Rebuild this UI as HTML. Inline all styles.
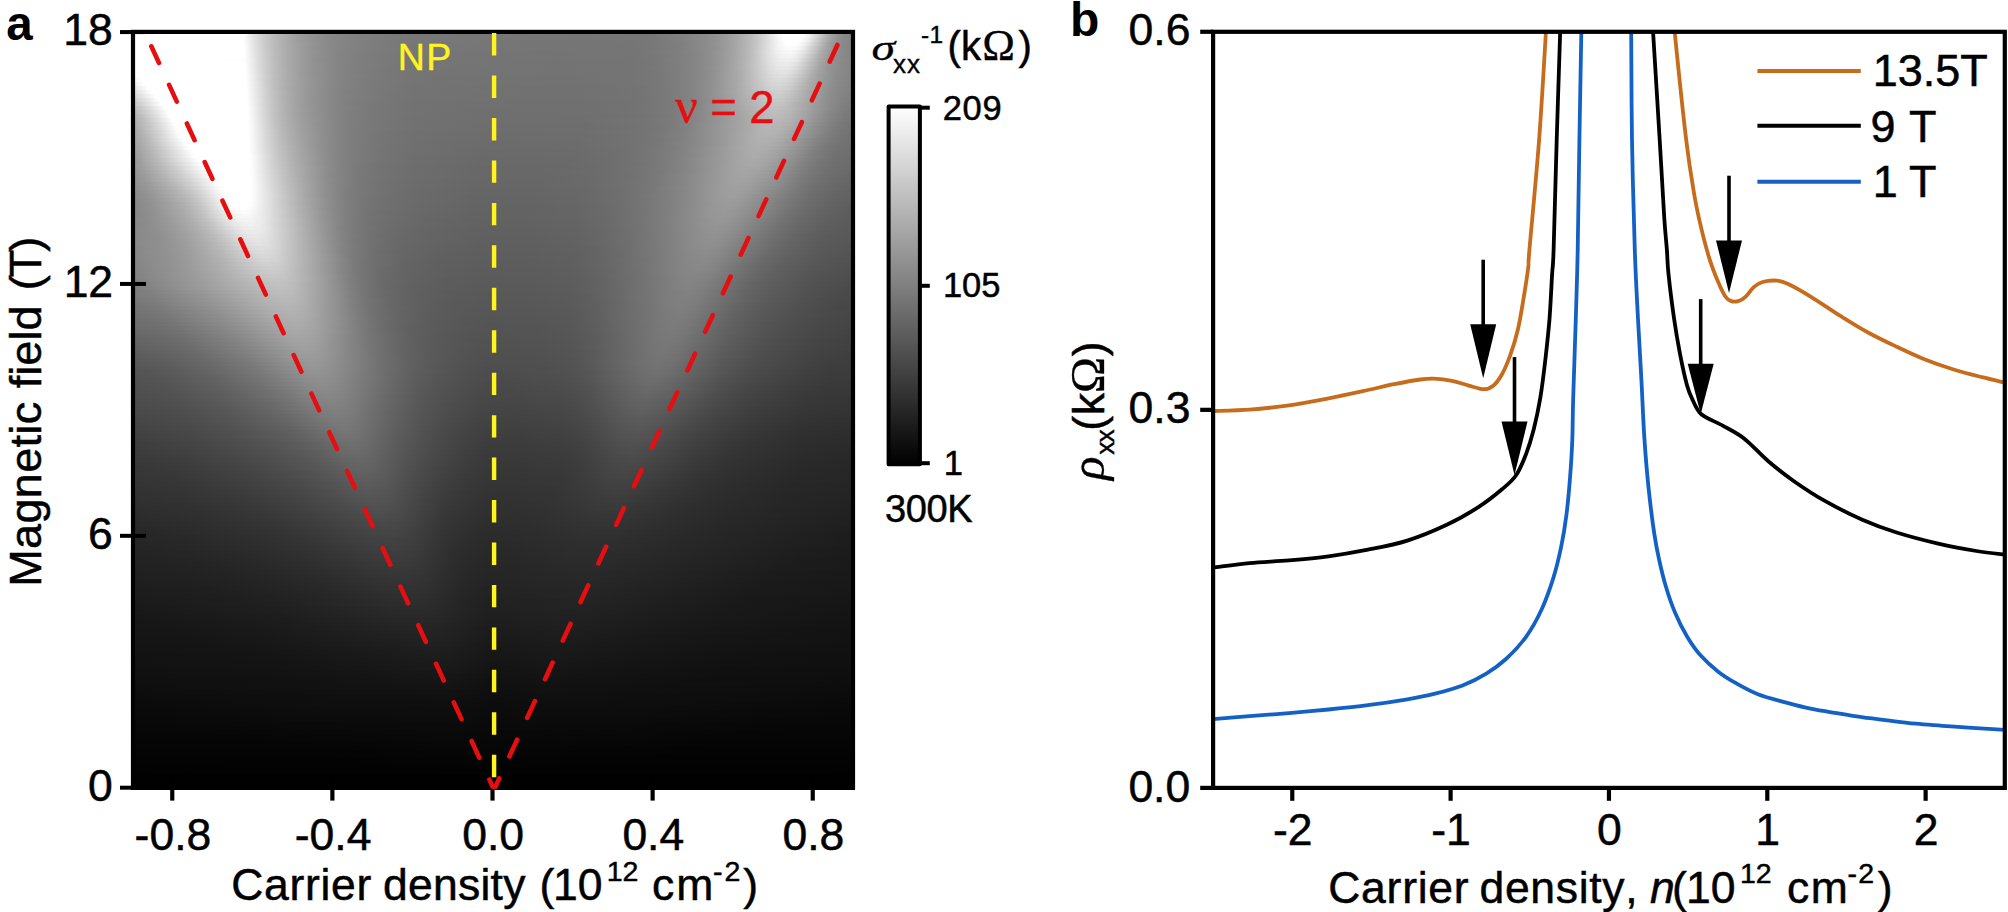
<!DOCTYPE html>
<html lang="en"><head><meta charset="utf-8"><title>Figure</title><style>html,body{margin:0;padding:0;background:#fff}svg{display:block}text{font-kerning:none}</style></head><body><svg width="2008" height="912" viewBox="0 0 2008 912"><rect width="2008" height="912" fill="#fff"/><defs><linearGradient id="h0"><stop offset="0" stop-color="#ffffff"/><stop offset="0.155" stop-color="#ffffff"/><stop offset="0.157" stop-color="#fbfbfb"/><stop offset="0.171" stop-color="#dfdfdf"/><stop offset="0.182" stop-color="#cdcdcd"/><stop offset="0.196" stop-color="#bcbcbc"/><stop offset="0.21" stop-color="#afafaf"/><stop offset="0.229" stop-color="#9f9f9f"/><stop offset="0.249" stop-color="#939393"/><stop offset="0.271" stop-color="#8a8a8a"/><stop offset="0.296" stop-color="#838383"/><stop offset="0.337" stop-color="#7c7c7c"/><stop offset="0.39" stop-color="#787878"/><stop offset="0.613" stop-color="#767676"/><stop offset="0.693" stop-color="#767676"/><stop offset="0.715" stop-color="#777777"/><stop offset="0.762" stop-color="#818181"/><stop offset="0.796" stop-color="#8b8b8b"/><stop offset="0.809" stop-color="#929292"/><stop offset="0.823" stop-color="#9b9b9b"/><stop offset="0.837" stop-color="#a6a6a6"/><stop offset="0.851" stop-color="#b4b4b4"/><stop offset="0.859" stop-color="#bebebe"/><stop offset="0.867" stop-color="#c9c9c9"/><stop offset="0.876" stop-color="#d7d7d7"/><stop offset="0.89" stop-color="#f0f0f0"/><stop offset="0.898" stop-color="#fdfdfd"/><stop offset="0.901" stop-color="#ffffff"/><stop offset="0.931" stop-color="#ffffff"/><stop offset="0.934" stop-color="#fbfbfb"/><stop offset="0.939" stop-color="#efefef"/><stop offset="0.945" stop-color="#e0e0e0"/><stop offset="0.959" stop-color="#b8b8b8"/><stop offset="0.964" stop-color="#aaaaaa"/><stop offset="0.97" stop-color="#9f9f9f"/><stop offset="0.975" stop-color="#969696"/><stop offset="0.983" stop-color="#8b8b8b"/><stop offset="0.992" stop-color="#858585"/><stop offset="1" stop-color="#828282"/></linearGradient><linearGradient id="h1"><stop offset="0" stop-color="#ffffff"/><stop offset="0.155" stop-color="#ffffff"/><stop offset="0.157" stop-color="#fbfbfb"/><stop offset="0.171" stop-color="#dfdfdf"/><stop offset="0.182" stop-color="#cecece"/><stop offset="0.196" stop-color="#bcbcbc"/><stop offset="0.21" stop-color="#afafaf"/><stop offset="0.229" stop-color="#9f9f9f"/><stop offset="0.249" stop-color="#939393"/><stop offset="0.271" stop-color="#8a8a8a"/><stop offset="0.296" stop-color="#838383"/><stop offset="0.337" stop-color="#7c7c7c"/><stop offset="0.39" stop-color="#787878"/><stop offset="0.613" stop-color="#767676"/><stop offset="0.693" stop-color="#767676"/><stop offset="0.715" stop-color="#777777"/><stop offset="0.762" stop-color="#818181"/><stop offset="0.796" stop-color="#8c8c8c"/><stop offset="0.809" stop-color="#929292"/><stop offset="0.823" stop-color="#9b9b9b"/><stop offset="0.837" stop-color="#a7a7a7"/><stop offset="0.851" stop-color="#b4b4b4"/><stop offset="0.859" stop-color="#bebebe"/><stop offset="0.867" stop-color="#cacaca"/><stop offset="0.89" stop-color="#f0f0f0"/><stop offset="0.895" stop-color="#f8f8f8"/><stop offset="0.901" stop-color="#ffffff"/><stop offset="0.928" stop-color="#ffffff"/><stop offset="0.934" stop-color="#f6f6f6"/><stop offset="0.939" stop-color="#eaeaea"/><stop offset="0.959" stop-color="#b5b5b5"/><stop offset="0.964" stop-color="#a8a8a8"/><stop offset="0.97" stop-color="#9d9d9d"/><stop offset="0.975" stop-color="#949494"/><stop offset="0.983" stop-color="#8b8b8b"/><stop offset="0.992" stop-color="#858585"/><stop offset="1" stop-color="#828282"/></linearGradient><linearGradient id="h2"><stop offset="0" stop-color="#ffffff"/><stop offset="0.155" stop-color="#ffffff"/><stop offset="0.157" stop-color="#fbfbfb"/><stop offset="0.171" stop-color="#e0e0e0"/><stop offset="0.182" stop-color="#cecece"/><stop offset="0.196" stop-color="#bdbdbd"/><stop offset="0.21" stop-color="#afafaf"/><stop offset="0.229" stop-color="#9f9f9f"/><stop offset="0.249" stop-color="#939393"/><stop offset="0.271" stop-color="#8a8a8a"/><stop offset="0.296" stop-color="#838383"/><stop offset="0.337" stop-color="#7c7c7c"/><stop offset="0.39" stop-color="#787878"/><stop offset="0.61" stop-color="#757575"/><stop offset="0.693" stop-color="#767676"/><stop offset="0.715" stop-color="#777777"/><stop offset="0.762" stop-color="#818181"/><stop offset="0.796" stop-color="#8c8c8c"/><stop offset="0.809" stop-color="#929292"/><stop offset="0.823" stop-color="#9c9c9c"/><stop offset="0.837" stop-color="#a7a7a7"/><stop offset="0.851" stop-color="#b5b5b5"/><stop offset="0.865" stop-color="#c6c6c6"/><stop offset="0.89" stop-color="#efefef"/><stop offset="0.901" stop-color="#fdfdfd"/><stop offset="0.903" stop-color="#ffffff"/><stop offset="0.923" stop-color="#ffffff"/><stop offset="0.925" stop-color="#fefefe"/><stop offset="0.928" stop-color="#fafafa"/><stop offset="0.934" stop-color="#f0f0f0"/><stop offset="0.939" stop-color="#e4e4e4"/><stop offset="0.953" stop-color="#bebebe"/><stop offset="0.959" stop-color="#b0b0b0"/><stop offset="0.964" stop-color="#a4a4a4"/><stop offset="0.97" stop-color="#9b9b9b"/><stop offset="0.975" stop-color="#939393"/><stop offset="0.983" stop-color="#8a8a8a"/><stop offset="0.992" stop-color="#858585"/><stop offset="1" stop-color="#828282"/></linearGradient><linearGradient id="h3"><stop offset="0" stop-color="#ffffff"/><stop offset="0.155" stop-color="#ffffff"/><stop offset="0.157" stop-color="#fcfcfc"/><stop offset="0.171" stop-color="#e1e1e1"/><stop offset="0.182" stop-color="#cfcfcf"/><stop offset="0.196" stop-color="#bdbdbd"/><stop offset="0.21" stop-color="#afafaf"/><stop offset="0.229" stop-color="#a0a0a0"/><stop offset="0.249" stop-color="#949494"/><stop offset="0.271" stop-color="#8a8a8a"/><stop offset="0.296" stop-color="#838383"/><stop offset="0.337" stop-color="#7c7c7c"/><stop offset="0.39" stop-color="#777777"/><stop offset="0.608" stop-color="#757575"/><stop offset="0.691" stop-color="#757575"/><stop offset="0.715" stop-color="#777777"/><stop offset="0.762" stop-color="#808080"/><stop offset="0.796" stop-color="#8c8c8c"/><stop offset="0.809" stop-color="#939393"/><stop offset="0.82" stop-color="#9a9a9a"/><stop offset="0.834" stop-color="#a5a5a5"/><stop offset="0.848" stop-color="#b2b2b2"/><stop offset="0.862" stop-color="#c3c3c3"/><stop offset="0.87" stop-color="#cfcfcf"/><stop offset="0.887" stop-color="#eaeaea"/><stop offset="0.898" stop-color="#f9f9f9"/><stop offset="0.906" stop-color="#ffffff"/><stop offset="0.917" stop-color="#ffffff"/><stop offset="0.923" stop-color="#fbfbfb"/><stop offset="0.931" stop-color="#efefef"/><stop offset="0.939" stop-color="#dcdcdc"/><stop offset="0.956" stop-color="#b2b2b2"/><stop offset="0.961" stop-color="#a6a6a6"/><stop offset="0.967" stop-color="#9c9c9c"/><stop offset="0.975" stop-color="#919191"/><stop offset="0.983" stop-color="#8a8a8a"/><stop offset="0.992" stop-color="#858585"/><stop offset="1" stop-color="#838383"/></linearGradient><linearGradient id="h4"><stop offset="0" stop-color="#ffffff"/><stop offset="0.155" stop-color="#ffffff"/><stop offset="0.157" stop-color="#fdfdfd"/><stop offset="0.171" stop-color="#e1e1e1"/><stop offset="0.185" stop-color="#cbcbcb"/><stop offset="0.199" stop-color="#bababa"/><stop offset="0.213" stop-color="#adadad"/><stop offset="0.232" stop-color="#9e9e9e"/><stop offset="0.251" stop-color="#929292"/><stop offset="0.273" stop-color="#898989"/><stop offset="0.296" stop-color="#838383"/><stop offset="0.337" stop-color="#7c7c7c"/><stop offset="0.39" stop-color="#777777"/><stop offset="0.588" stop-color="#757575"/><stop offset="0.685" stop-color="#757575"/><stop offset="0.71" stop-color="#767676"/><stop offset="0.757" stop-color="#7f7f7f"/><stop offset="0.793" stop-color="#8b8b8b"/><stop offset="0.807" stop-color="#919191"/><stop offset="0.818" stop-color="#989898"/><stop offset="0.831" stop-color="#a3a3a3"/><stop offset="0.843" stop-color="#adadad"/><stop offset="0.854" stop-color="#b9b9b9"/><stop offset="0.862" stop-color="#c3c3c3"/><stop offset="0.884" stop-color="#e6e6e6"/><stop offset="0.892" stop-color="#f1f1f1"/><stop offset="0.898" stop-color="#f6f6f6"/><stop offset="0.903" stop-color="#fafafa"/><stop offset="0.912" stop-color="#fcfcfc"/><stop offset="0.92" stop-color="#f8f8f8"/><stop offset="0.928" stop-color="#ededed"/><stop offset="0.936" stop-color="#dbdbdb"/><stop offset="0.953" stop-color="#b3b3b3"/><stop offset="0.959" stop-color="#a7a7a7"/><stop offset="0.967" stop-color="#9a9a9a"/><stop offset="0.975" stop-color="#909090"/><stop offset="0.983" stop-color="#898989"/><stop offset="0.992" stop-color="#858585"/><stop offset="1" stop-color="#838383"/></linearGradient><linearGradient id="h5"><stop offset="0" stop-color="#ffffff"/><stop offset="0.155" stop-color="#ffffff"/><stop offset="0.157" stop-color="#fdfdfd"/><stop offset="0.171" stop-color="#e2e2e2"/><stop offset="0.185" stop-color="#cccccc"/><stop offset="0.199" stop-color="#bbbbbb"/><stop offset="0.213" stop-color="#adadad"/><stop offset="0.232" stop-color="#9e9e9e"/><stop offset="0.249" stop-color="#949494"/><stop offset="0.271" stop-color="#8a8a8a"/><stop offset="0.293" stop-color="#838383"/><stop offset="0.334" stop-color="#7c7c7c"/><stop offset="0.387" stop-color="#777777"/><stop offset="0.566" stop-color="#747474"/><stop offset="0.669" stop-color="#757575"/><stop offset="0.707" stop-color="#767676"/><stop offset="0.751" stop-color="#7e7e7e"/><stop offset="0.787" stop-color="#888888"/><stop offset="0.812" stop-color="#959595"/><stop offset="0.826" stop-color="#9f9f9f"/><stop offset="0.84" stop-color="#ababab"/><stop offset="0.851" stop-color="#b6b6b6"/><stop offset="0.859" stop-color="#c0c0c0"/><stop offset="0.881" stop-color="#e1e1e1"/><stop offset="0.89" stop-color="#ececec"/><stop offset="0.895" stop-color="#f2f2f2"/><stop offset="0.901" stop-color="#f6f6f6"/><stop offset="0.909" stop-color="#f8f8f8"/><stop offset="0.917" stop-color="#f4f4f4"/><stop offset="0.925" stop-color="#eaeaea"/><stop offset="0.934" stop-color="#dadada"/><stop offset="0.948" stop-color="#bababa"/><stop offset="0.953" stop-color="#aeaeae"/><stop offset="0.959" stop-color="#a4a4a4"/><stop offset="0.967" stop-color="#979797"/><stop offset="0.972" stop-color="#919191"/><stop offset="0.981" stop-color="#8b8b8b"/><stop offset="0.989" stop-color="#868686"/><stop offset="1" stop-color="#838383"/></linearGradient><linearGradient id="h6"><stop offset="0" stop-color="#ffffff"/><stop offset="0.155" stop-color="#ffffff"/><stop offset="0.157" stop-color="#fefefe"/><stop offset="0.171" stop-color="#e3e3e3"/><stop offset="0.182" stop-color="#d1d1d1"/><stop offset="0.191" stop-color="#c5c5c5"/><stop offset="0.199" stop-color="#bbbbbb"/><stop offset="0.21" stop-color="#b0b0b0"/><stop offset="0.224" stop-color="#a4a4a4"/><stop offset="0.24" stop-color="#999999"/><stop offset="0.254" stop-color="#919191"/><stop offset="0.287" stop-color="#848484"/><stop offset="0.329" stop-color="#7c7c7c"/><stop offset="0.381" stop-color="#777777"/><stop offset="0.445" stop-color="#757575"/><stop offset="0.594" stop-color="#747474"/><stop offset="0.693" stop-color="#757575"/><stop offset="0.724" stop-color="#787878"/><stop offset="0.762" stop-color="#808080"/><stop offset="0.782" stop-color="#868686"/><stop offset="0.798" stop-color="#8d8d8d"/><stop offset="0.812" stop-color="#959595"/><stop offset="0.826" stop-color="#9f9f9f"/><stop offset="0.84" stop-color="#ababab"/><stop offset="0.854" stop-color="#b9b9b9"/><stop offset="0.862" stop-color="#c4c4c4"/><stop offset="0.881" stop-color="#e0e0e0"/><stop offset="0.89" stop-color="#eaeaea"/><stop offset="0.895" stop-color="#efefef"/><stop offset="0.901" stop-color="#f2f2f2"/><stop offset="0.909" stop-color="#f4f4f4"/><stop offset="0.917" stop-color="#efefef"/><stop offset="0.925" stop-color="#e4e4e4"/><stop offset="0.931" stop-color="#d9d9d9"/><stop offset="0.95" stop-color="#afafaf"/><stop offset="0.956" stop-color="#a5a5a5"/><stop offset="0.964" stop-color="#999999"/><stop offset="0.972" stop-color="#909090"/><stop offset="0.981" stop-color="#8a8a8a"/><stop offset="0.989" stop-color="#868686"/><stop offset="1" stop-color="#838383"/></linearGradient><linearGradient id="h7"><stop offset="0" stop-color="#ffffff"/><stop offset="0.157" stop-color="#fefefe"/><stop offset="0.169" stop-color="#e9e9e9"/><stop offset="0.18" stop-color="#d5d5d5"/><stop offset="0.188" stop-color="#c9c9c9"/><stop offset="0.199" stop-color="#bbbbbb"/><stop offset="0.21" stop-color="#b0b0b0"/><stop offset="0.224" stop-color="#a4a4a4"/><stop offset="0.238" stop-color="#9a9a9a"/><stop offset="0.251" stop-color="#929292"/><stop offset="0.268" stop-color="#8b8b8b"/><stop offset="0.285" stop-color="#858585"/><stop offset="0.318" stop-color="#7e7e7e"/><stop offset="0.373" stop-color="#777777"/><stop offset="0.428" stop-color="#757575"/><stop offset="0.588" stop-color="#747474"/><stop offset="0.688" stop-color="#747474"/><stop offset="0.718" stop-color="#777777"/><stop offset="0.757" stop-color="#7f7f7f"/><stop offset="0.776" stop-color="#848484"/><stop offset="0.793" stop-color="#8b8b8b"/><stop offset="0.807" stop-color="#929292"/><stop offset="0.823" stop-color="#9d9d9d"/><stop offset="0.837" stop-color="#a9a9a9"/><stop offset="0.851" stop-color="#b6b6b6"/><stop offset="0.862" stop-color="#c4c4c4"/><stop offset="0.878" stop-color="#dbdbdb"/><stop offset="0.887" stop-color="#e5e5e5"/><stop offset="0.898" stop-color="#eeeeee"/><stop offset="0.906" stop-color="#efefef"/><stop offset="0.914" stop-color="#ececec"/><stop offset="0.923" stop-color="#e2e2e2"/><stop offset="0.928" stop-color="#d8d8d8"/><stop offset="0.942" stop-color="#bbbbbb"/><stop offset="0.95" stop-color="#ababab"/><stop offset="0.956" stop-color="#a2a2a2"/><stop offset="0.964" stop-color="#979797"/><stop offset="0.972" stop-color="#8f8f8f"/><stop offset="0.981" stop-color="#8a8a8a"/><stop offset="1" stop-color="#838383"/></linearGradient><linearGradient id="h8"><stop offset="0" stop-color="#ffffff"/><stop offset="0.157" stop-color="#ffffff"/><stop offset="0.169" stop-color="#e9e9e9"/><stop offset="0.18" stop-color="#d6d6d6"/><stop offset="0.188" stop-color="#cacaca"/><stop offset="0.199" stop-color="#bcbcbc"/><stop offset="0.21" stop-color="#b0b0b0"/><stop offset="0.221" stop-color="#a7a7a7"/><stop offset="0.235" stop-color="#9c9c9c"/><stop offset="0.249" stop-color="#949494"/><stop offset="0.279" stop-color="#878787"/><stop offset="0.309" stop-color="#7f7f7f"/><stop offset="0.362" stop-color="#787878"/><stop offset="0.414" stop-color="#757575"/><stop offset="0.583" stop-color="#737373"/><stop offset="0.682" stop-color="#747474"/><stop offset="0.715" stop-color="#767676"/><stop offset="0.751" stop-color="#7d7d7d"/><stop offset="0.773" stop-color="#838383"/><stop offset="0.79" stop-color="#8a8a8a"/><stop offset="0.804" stop-color="#909090"/><stop offset="0.82" stop-color="#9b9b9b"/><stop offset="0.834" stop-color="#a6a6a6"/><stop offset="0.848" stop-color="#b4b4b4"/><stop offset="0.859" stop-color="#c1c1c1"/><stop offset="0.878" stop-color="#dadada"/><stop offset="0.887" stop-color="#e3e3e3"/><stop offset="0.895" stop-color="#e9e9e9"/><stop offset="0.903" stop-color="#ebebeb"/><stop offset="0.912" stop-color="#e8e8e8"/><stop offset="0.92" stop-color="#dfdfdf"/><stop offset="0.928" stop-color="#d1d1d1"/><stop offset="0.942" stop-color="#b6b6b6"/><stop offset="0.948" stop-color="#acacac"/><stop offset="0.953" stop-color="#a3a3a3"/><stop offset="0.961" stop-color="#999999"/><stop offset="0.97" stop-color="#919191"/><stop offset="0.978" stop-color="#8b8b8b"/><stop offset="0.986" stop-color="#878787"/><stop offset="1" stop-color="#838383"/></linearGradient><linearGradient id="h9"><stop offset="0" stop-color="#ffffff"/><stop offset="0.157" stop-color="#ffffff"/><stop offset="0.177" stop-color="#dbdbdb"/><stop offset="0.191" stop-color="#c6c6c6"/><stop offset="0.207" stop-color="#b3b3b3"/><stop offset="0.229" stop-color="#a0a0a0"/><stop offset="0.251" stop-color="#939393"/><stop offset="0.279" stop-color="#878787"/><stop offset="0.304" stop-color="#808080"/><stop offset="0.343" stop-color="#7a7a7a"/><stop offset="0.376" stop-color="#767676"/><stop offset="0.409" stop-color="#757575"/><stop offset="0.599" stop-color="#737373"/><stop offset="0.693" stop-color="#747474"/><stop offset="0.735" stop-color="#7a7a7a"/><stop offset="0.76" stop-color="#7f7f7f"/><stop offset="0.782" stop-color="#868686"/><stop offset="0.798" stop-color="#8e8e8e"/><stop offset="0.812" stop-color="#969696"/><stop offset="0.831" stop-color="#a4a4a4"/><stop offset="0.845" stop-color="#b1b1b1"/><stop offset="0.856" stop-color="#bdbdbd"/><stop offset="0.876" stop-color="#d5d5d5"/><stop offset="0.884" stop-color="#dedede"/><stop offset="0.892" stop-color="#e5e5e5"/><stop offset="0.901" stop-color="#e7e7e7"/><stop offset="0.909" stop-color="#e5e5e5"/><stop offset="0.917" stop-color="#dddddd"/><stop offset="0.925" stop-color="#d0d0d0"/><stop offset="0.945" stop-color="#adadad"/><stop offset="0.953" stop-color="#a1a1a1"/><stop offset="0.961" stop-color="#979797"/><stop offset="0.97" stop-color="#909090"/><stop offset="0.978" stop-color="#8b8b8b"/><stop offset="1" stop-color="#828282"/></linearGradient><linearGradient id="h10"><stop offset="0" stop-color="#ffffff"/><stop offset="0.157" stop-color="#ffffff"/><stop offset="0.16" stop-color="#fbfbfb"/><stop offset="0.171" stop-color="#e6e6e6"/><stop offset="0.18" stop-color="#d7d7d7"/><stop offset="0.193" stop-color="#c3c3c3"/><stop offset="0.21" stop-color="#b1b1b1"/><stop offset="0.232" stop-color="#9e9e9e"/><stop offset="0.254" stop-color="#919191"/><stop offset="0.282" stop-color="#868686"/><stop offset="0.307" stop-color="#7f7f7f"/><stop offset="0.345" stop-color="#797979"/><stop offset="0.378" stop-color="#767676"/><stop offset="0.409" stop-color="#747474"/><stop offset="0.597" stop-color="#737373"/><stop offset="0.691" stop-color="#747474"/><stop offset="0.732" stop-color="#797979"/><stop offset="0.757" stop-color="#7f7f7f"/><stop offset="0.779" stop-color="#858585"/><stop offset="0.796" stop-color="#8c8c8c"/><stop offset="0.809" stop-color="#949494"/><stop offset="0.826" stop-color="#a0a0a0"/><stop offset="0.843" stop-color="#aeaeae"/><stop offset="0.854" stop-color="#bababa"/><stop offset="0.876" stop-color="#d4d4d4"/><stop offset="0.884" stop-color="#dcdcdc"/><stop offset="0.892" stop-color="#e1e1e1"/><stop offset="0.901" stop-color="#e3e3e3"/><stop offset="0.909" stop-color="#e0e0e0"/><stop offset="0.917" stop-color="#d7d7d7"/><stop offset="0.923" stop-color="#cfcfcf"/><stop offset="0.942" stop-color="#adadad"/><stop offset="0.95" stop-color="#a2a2a2"/><stop offset="0.959" stop-color="#999999"/><stop offset="0.967" stop-color="#919191"/><stop offset="0.975" stop-color="#8c8c8c"/><stop offset="0.986" stop-color="#878787"/><stop offset="1" stop-color="#828282"/></linearGradient><linearGradient id="h11"><stop offset="0" stop-color="#fafafa"/><stop offset="0.006" stop-color="#fefefe"/><stop offset="0.008" stop-color="#ffffff"/><stop offset="0.157" stop-color="#ffffff"/><stop offset="0.16" stop-color="#fcfcfc"/><stop offset="0.18" stop-color="#d8d8d8"/><stop offset="0.193" stop-color="#c4c4c4"/><stop offset="0.21" stop-color="#b1b1b1"/><stop offset="0.232" stop-color="#9f9f9f"/><stop offset="0.257" stop-color="#909090"/><stop offset="0.285" stop-color="#858585"/><stop offset="0.309" stop-color="#7f7f7f"/><stop offset="0.348" stop-color="#797979"/><stop offset="0.381" stop-color="#757575"/><stop offset="0.414" stop-color="#747474"/><stop offset="0.602" stop-color="#727272"/><stop offset="0.691" stop-color="#747474"/><stop offset="0.732" stop-color="#797979"/><stop offset="0.754" stop-color="#7e7e7e"/><stop offset="0.776" stop-color="#848484"/><stop offset="0.793" stop-color="#8b8b8b"/><stop offset="0.807" stop-color="#939393"/><stop offset="0.823" stop-color="#9e9e9e"/><stop offset="0.84" stop-color="#ababab"/><stop offset="0.851" stop-color="#b6b6b6"/><stop offset="0.873" stop-color="#cfcfcf"/><stop offset="0.881" stop-color="#d7d7d7"/><stop offset="0.89" stop-color="#dddddd"/><stop offset="0.898" stop-color="#dfdfdf"/><stop offset="0.906" stop-color="#dddddd"/><stop offset="0.914" stop-color="#d5d5d5"/><stop offset="0.92" stop-color="#cecece"/><stop offset="0.942" stop-color="#aaaaaa"/><stop offset="0.95" stop-color="#a0a0a0"/><stop offset="0.959" stop-color="#979797"/><stop offset="0.975" stop-color="#8b8b8b"/><stop offset="1" stop-color="#818181"/></linearGradient><linearGradient id="h12"><stop offset="0" stop-color="#f2f2f2"/><stop offset="0.014" stop-color="#ffffff"/><stop offset="0.157" stop-color="#ffffff"/><stop offset="0.16" stop-color="#fcfcfc"/><stop offset="0.174" stop-color="#e2e2e2"/><stop offset="0.182" stop-color="#d4d4d4"/><stop offset="0.196" stop-color="#c0c0c0"/><stop offset="0.213" stop-color="#aeaeae"/><stop offset="0.235" stop-color="#9d9d9d"/><stop offset="0.26" stop-color="#8f8f8f"/><stop offset="0.287" stop-color="#848484"/><stop offset="0.315" stop-color="#7d7d7d"/><stop offset="0.354" stop-color="#787878"/><stop offset="0.387" stop-color="#757575"/><stop offset="0.423" stop-color="#737373"/><stop offset="0.605" stop-color="#727272"/><stop offset="0.691" stop-color="#747474"/><stop offset="0.729" stop-color="#787878"/><stop offset="0.751" stop-color="#7d7d7d"/><stop offset="0.773" stop-color="#838383"/><stop offset="0.79" stop-color="#8a8a8a"/><stop offset="0.804" stop-color="#919191"/><stop offset="0.823" stop-color="#9e9e9e"/><stop offset="0.84" stop-color="#ababab"/><stop offset="0.878" stop-color="#d2d2d2"/><stop offset="0.887" stop-color="#d8d8d8"/><stop offset="0.895" stop-color="#dbdbdb"/><stop offset="0.903" stop-color="#d9d9d9"/><stop offset="0.912" stop-color="#d3d3d3"/><stop offset="0.92" stop-color="#c8c8c8"/><stop offset="0.934" stop-color="#b3b3b3"/><stop offset="0.942" stop-color="#a8a8a8"/><stop offset="0.959" stop-color="#969696"/><stop offset="0.975" stop-color="#8b8b8b"/><stop offset="1" stop-color="#808080"/></linearGradient><linearGradient id="h13"><stop offset="0" stop-color="#eaeaea"/><stop offset="0.006" stop-color="#efefef"/><stop offset="0.017" stop-color="#fdfdfd"/><stop offset="0.019" stop-color="#ffffff"/><stop offset="0.157" stop-color="#ffffff"/><stop offset="0.16" stop-color="#fdfdfd"/><stop offset="0.18" stop-color="#d9d9d9"/><stop offset="0.188" stop-color="#cccccc"/><stop offset="0.196" stop-color="#c1c1c1"/><stop offset="0.213" stop-color="#afafaf"/><stop offset="0.235" stop-color="#9d9d9d"/><stop offset="0.26" stop-color="#8f8f8f"/><stop offset="0.287" stop-color="#848484"/><stop offset="0.318" stop-color="#7d7d7d"/><stop offset="0.359" stop-color="#777777"/><stop offset="0.392" stop-color="#747474"/><stop offset="0.434" stop-color="#737373"/><stop offset="0.61" stop-color="#727272"/><stop offset="0.691" stop-color="#747474"/><stop offset="0.729" stop-color="#787878"/><stop offset="0.771" stop-color="#828282"/><stop offset="0.787" stop-color="#898989"/><stop offset="0.801" stop-color="#909090"/><stop offset="0.82" stop-color="#9c9c9c"/><stop offset="0.837" stop-color="#a9a9a9"/><stop offset="0.878" stop-color="#d0d0d0"/><stop offset="0.887" stop-color="#d5d5d5"/><stop offset="0.895" stop-color="#d7d7d7"/><stop offset="0.903" stop-color="#d5d5d5"/><stop offset="0.912" stop-color="#cecece"/><stop offset="0.939" stop-color="#a9a9a9"/><stop offset="0.948" stop-color="#a0a0a0"/><stop offset="0.959" stop-color="#959595"/><stop offset="0.975" stop-color="#8a8a8a"/><stop offset="1" stop-color="#7f7f7f"/></linearGradient><linearGradient id="h14"><stop offset="0" stop-color="#e2e2e2"/><stop offset="0.008" stop-color="#eaeaea"/><stop offset="0.022" stop-color="#fdfdfd"/><stop offset="0.025" stop-color="#ffffff"/><stop offset="0.157" stop-color="#ffffff"/><stop offset="0.16" stop-color="#fefefe"/><stop offset="0.177" stop-color="#dfdfdf"/><stop offset="0.188" stop-color="#cdcdcd"/><stop offset="0.196" stop-color="#c1c1c1"/><stop offset="0.204" stop-color="#b7b7b7"/><stop offset="0.215" stop-color="#acacac"/><stop offset="0.229" stop-color="#a1a1a1"/><stop offset="0.243" stop-color="#989898"/><stop offset="0.26" stop-color="#8f8f8f"/><stop offset="0.276" stop-color="#888888"/><stop offset="0.293" stop-color="#828282"/><stop offset="0.334" stop-color="#7a7a7a"/><stop offset="0.384" stop-color="#747474"/><stop offset="0.448" stop-color="#727272"/><stop offset="0.591" stop-color="#717171"/><stop offset="0.657" stop-color="#727272"/><stop offset="0.704" stop-color="#747474"/><stop offset="0.74" stop-color="#7a7a7a"/><stop offset="0.776" stop-color="#848484"/><stop offset="0.801" stop-color="#909090"/><stop offset="0.82" stop-color="#9c9c9c"/><stop offset="0.837" stop-color="#a8a8a8"/><stop offset="0.867" stop-color="#c4c4c4"/><stop offset="0.878" stop-color="#cdcdcd"/><stop offset="0.887" stop-color="#d2d2d2"/><stop offset="0.895" stop-color="#d3d3d3"/><stop offset="0.901" stop-color="#d2d2d2"/><stop offset="0.909" stop-color="#cccccc"/><stop offset="0.914" stop-color="#c6c6c6"/><stop offset="0.939" stop-color="#a7a7a7"/><stop offset="0.959" stop-color="#949494"/><stop offset="0.975" stop-color="#898989"/><stop offset="1" stop-color="#7e7e7e"/></linearGradient><linearGradient id="h15"><stop offset="0" stop-color="#dbdbdb"/><stop offset="0.008" stop-color="#e2e2e2"/><stop offset="0.028" stop-color="#fefefe"/><stop offset="0.03" stop-color="#ffffff"/><stop offset="0.157" stop-color="#ffffff"/><stop offset="0.16" stop-color="#fefefe"/><stop offset="0.177" stop-color="#dfdfdf"/><stop offset="0.188" stop-color="#cdcdcd"/><stop offset="0.196" stop-color="#c2c2c2"/><stop offset="0.207" stop-color="#b5b5b5"/><stop offset="0.221" stop-color="#a8a8a8"/><stop offset="0.235" stop-color="#9d9d9d"/><stop offset="0.249" stop-color="#959595"/><stop offset="0.265" stop-color="#8c8c8c"/><stop offset="0.282" stop-color="#858585"/><stop offset="0.298" stop-color="#808080"/><stop offset="0.348" stop-color="#787878"/><stop offset="0.392" stop-color="#737373"/><stop offset="0.464" stop-color="#727272"/><stop offset="0.602" stop-color="#717171"/><stop offset="0.66" stop-color="#727272"/><stop offset="0.704" stop-color="#747474"/><stop offset="0.74" stop-color="#7a7a7a"/><stop offset="0.773" stop-color="#838383"/><stop offset="0.798" stop-color="#8e8e8e"/><stop offset="0.834" stop-color="#a6a6a6"/><stop offset="0.876" stop-color="#c8c8c8"/><stop offset="0.887" stop-color="#cecece"/><stop offset="0.895" stop-color="#cfcfcf"/><stop offset="0.901" stop-color="#cdcdcd"/><stop offset="0.909" stop-color="#c7c7c7"/><stop offset="0.936" stop-color="#a8a8a8"/><stop offset="0.959" stop-color="#939393"/><stop offset="0.978" stop-color="#878787"/><stop offset="1" stop-color="#7d7d7d"/></linearGradient><linearGradient id="h16"><stop offset="0" stop-color="#d3d3d3"/><stop offset="0.006" stop-color="#d7d7d7"/><stop offset="0.011" stop-color="#dedede"/><stop offset="0.033" stop-color="#fefefe"/><stop offset="0.16" stop-color="#ffffff"/><stop offset="0.177" stop-color="#e0e0e0"/><stop offset="0.185" stop-color="#d2d2d2"/><stop offset="0.196" stop-color="#c2c2c2"/><stop offset="0.207" stop-color="#b5b5b5"/><stop offset="0.221" stop-color="#a8a8a8"/><stop offset="0.235" stop-color="#9d9d9d"/><stop offset="0.251" stop-color="#939393"/><stop offset="0.268" stop-color="#8b8b8b"/><stop offset="0.285" stop-color="#848484"/><stop offset="0.301" stop-color="#808080"/><stop offset="0.356" stop-color="#767676"/><stop offset="0.398" stop-color="#737373"/><stop offset="0.481" stop-color="#717171"/><stop offset="0.608" stop-color="#717171"/><stop offset="0.663" stop-color="#727272"/><stop offset="0.707" stop-color="#747474"/><stop offset="0.74" stop-color="#7a7a7a"/><stop offset="0.773" stop-color="#838383"/><stop offset="0.796" stop-color="#8d8d8d"/><stop offset="0.834" stop-color="#a5a5a5"/><stop offset="0.876" stop-color="#c6c6c6"/><stop offset="0.884" stop-color="#cacaca"/><stop offset="0.892" stop-color="#cbcbcb"/><stop offset="0.901" stop-color="#c9c9c9"/><stop offset="0.909" stop-color="#c3c3c3"/><stop offset="0.939" stop-color="#a4a4a4"/><stop offset="0.961" stop-color="#909090"/><stop offset="0.981" stop-color="#848484"/><stop offset="1" stop-color="#7c7c7c"/></linearGradient><linearGradient id="h17"><stop offset="0" stop-color="#cbcbcb"/><stop offset="0.006" stop-color="#d0d0d0"/><stop offset="0.014" stop-color="#dadada"/><stop offset="0.039" stop-color="#ffffff"/><stop offset="0.16" stop-color="#ffffff"/><stop offset="0.18" stop-color="#dcdcdc"/><stop offset="0.188" stop-color="#cecece"/><stop offset="0.199" stop-color="#bfbfbf"/><stop offset="0.21" stop-color="#b2b2b2"/><stop offset="0.224" stop-color="#a6a6a6"/><stop offset="0.238" stop-color="#9b9b9b"/><stop offset="0.254" stop-color="#929292"/><stop offset="0.273" stop-color="#898989"/><stop offset="0.29" stop-color="#828282"/><stop offset="0.307" stop-color="#7e7e7e"/><stop offset="0.365" stop-color="#757575"/><stop offset="0.406" stop-color="#727272"/><stop offset="0.497" stop-color="#717171"/><stop offset="0.61" stop-color="#707070"/><stop offset="0.663" stop-color="#727272"/><stop offset="0.707" stop-color="#747474"/><stop offset="0.74" stop-color="#7a7a7a"/><stop offset="0.771" stop-color="#828282"/><stop offset="0.793" stop-color="#8b8b8b"/><stop offset="0.831" stop-color="#a2a2a2"/><stop offset="0.876" stop-color="#c3c3c3"/><stop offset="0.884" stop-color="#c6c6c6"/><stop offset="0.892" stop-color="#c8c8c8"/><stop offset="0.901" stop-color="#c5c5c5"/><stop offset="0.909" stop-color="#c0c0c0"/><stop offset="0.945" stop-color="#9d9d9d"/><stop offset="0.961" stop-color="#8f8f8f"/><stop offset="0.981" stop-color="#838383"/><stop offset="1" stop-color="#7a7a7a"/></linearGradient><linearGradient id="h18"><stop offset="0" stop-color="#c4c4c4"/><stop offset="0.006" stop-color="#c8c8c8"/><stop offset="0.014" stop-color="#d2d2d2"/><stop offset="0.041" stop-color="#fdfdfd"/><stop offset="0.044" stop-color="#ffffff"/><stop offset="0.16" stop-color="#ffffff"/><stop offset="0.163" stop-color="#fbfbfb"/><stop offset="0.182" stop-color="#d8d8d8"/><stop offset="0.196" stop-color="#c3c3c3"/><stop offset="0.213" stop-color="#b0b0b0"/><stop offset="0.229" stop-color="#a1a1a1"/><stop offset="0.251" stop-color="#939393"/><stop offset="0.279" stop-color="#868686"/><stop offset="0.301" stop-color="#7f7f7f"/><stop offset="0.337" stop-color="#787878"/><stop offset="0.392" stop-color="#727272"/><stop offset="0.483" stop-color="#707070"/><stop offset="0.633" stop-color="#707070"/><stop offset="0.685" stop-color="#727272"/><stop offset="0.715" stop-color="#757575"/><stop offset="0.751" stop-color="#7c7c7c"/><stop offset="0.785" stop-color="#878787"/><stop offset="0.801" stop-color="#909090"/><stop offset="0.831" stop-color="#a2a2a2"/><stop offset="0.873" stop-color="#bebebe"/><stop offset="0.881" stop-color="#c2c2c2"/><stop offset="0.89" stop-color="#c4c4c4"/><stop offset="0.898" stop-color="#c3c3c3"/><stop offset="0.906" stop-color="#bebebe"/><stop offset="0.961" stop-color="#8e8e8e"/><stop offset="0.981" stop-color="#828282"/><stop offset="1" stop-color="#797979"/></linearGradient><linearGradient id="h19"><stop offset="0" stop-color="#bcbcbc"/><stop offset="0.006" stop-color="#c1c1c1"/><stop offset="0.014" stop-color="#cacaca"/><stop offset="0.025" stop-color="#dbdbdb"/><stop offset="0.047" stop-color="#ffffff"/><stop offset="0.16" stop-color="#ffffff"/><stop offset="0.163" stop-color="#fcfcfc"/><stop offset="0.185" stop-color="#d4d4d4"/><stop offset="0.196" stop-color="#c3c3c3"/><stop offset="0.213" stop-color="#b0b0b0"/><stop offset="0.229" stop-color="#a2a2a2"/><stop offset="0.254" stop-color="#929292"/><stop offset="0.282" stop-color="#858585"/><stop offset="0.304" stop-color="#7f7f7f"/><stop offset="0.337" stop-color="#787878"/><stop offset="0.39" stop-color="#727272"/><stop offset="0.481" stop-color="#707070"/><stop offset="0.627" stop-color="#707070"/><stop offset="0.68" stop-color="#727272"/><stop offset="0.713" stop-color="#757575"/><stop offset="0.749" stop-color="#7c7c7c"/><stop offset="0.782" stop-color="#868686"/><stop offset="0.831" stop-color="#a1a1a1"/><stop offset="0.873" stop-color="#bbbbbb"/><stop offset="0.881" stop-color="#bfbfbf"/><stop offset="0.89" stop-color="#c1c1c1"/><stop offset="0.898" stop-color="#bfbfbf"/><stop offset="0.906" stop-color="#bbbbbb"/><stop offset="0.92" stop-color="#b1b1b1"/><stop offset="0.95" stop-color="#969696"/><stop offset="0.964" stop-color="#8b8b8b"/><stop offset="0.983" stop-color="#7f7f7f"/><stop offset="1" stop-color="#787878"/></linearGradient><linearGradient id="h20"><stop offset="0" stop-color="#b6b6b6"/><stop offset="0.006" stop-color="#bababa"/><stop offset="0.014" stop-color="#c4c4c4"/><stop offset="0.028" stop-color="#d9d9d9"/><stop offset="0.05" stop-color="#fdfdfd"/><stop offset="0.052" stop-color="#ffffff"/><stop offset="0.16" stop-color="#ffffff"/><stop offset="0.163" stop-color="#fcfcfc"/><stop offset="0.182" stop-color="#d9d9d9"/><stop offset="0.196" stop-color="#c4c4c4"/><stop offset="0.213" stop-color="#b0b0b0"/><stop offset="0.229" stop-color="#a2a2a2"/><stop offset="0.254" stop-color="#929292"/><stop offset="0.282" stop-color="#858585"/><stop offset="0.304" stop-color="#7e7e7e"/><stop offset="0.337" stop-color="#787878"/><stop offset="0.39" stop-color="#727272"/><stop offset="0.481" stop-color="#6f6f6f"/><stop offset="0.627" stop-color="#707070"/><stop offset="0.68" stop-color="#727272"/><stop offset="0.713" stop-color="#757575"/><stop offset="0.746" stop-color="#7b7b7b"/><stop offset="0.779" stop-color="#858585"/><stop offset="0.834" stop-color="#a1a1a1"/><stop offset="0.873" stop-color="#b9b9b9"/><stop offset="0.881" stop-color="#bcbcbc"/><stop offset="0.89" stop-color="#bebebe"/><stop offset="0.898" stop-color="#bcbcbc"/><stop offset="0.909" stop-color="#b7b7b7"/><stop offset="0.925" stop-color="#aaaaaa"/><stop offset="0.95" stop-color="#949494"/><stop offset="0.964" stop-color="#898989"/><stop offset="0.983" stop-color="#7d7d7d"/><stop offset="1" stop-color="#777777"/></linearGradient><linearGradient id="h21"><stop offset="0" stop-color="#b0b0b0"/><stop offset="0.008" stop-color="#b7b7b7"/><stop offset="0.017" stop-color="#c2c2c2"/><stop offset="0.03" stop-color="#d7d7d7"/><stop offset="0.052" stop-color="#fcfcfc"/><stop offset="0.055" stop-color="#ffffff"/><stop offset="0.16" stop-color="#ffffff"/><stop offset="0.163" stop-color="#fdfdfd"/><stop offset="0.182" stop-color="#dadada"/><stop offset="0.196" stop-color="#c4c4c4"/><stop offset="0.213" stop-color="#b1b1b1"/><stop offset="0.229" stop-color="#a2a2a2"/><stop offset="0.254" stop-color="#929292"/><stop offset="0.282" stop-color="#858585"/><stop offset="0.304" stop-color="#7e7e7e"/><stop offset="0.337" stop-color="#787878"/><stop offset="0.39" stop-color="#727272"/><stop offset="0.481" stop-color="#6f6f6f"/><stop offset="0.624" stop-color="#6f6f6f"/><stop offset="0.674" stop-color="#717171"/><stop offset="0.71" stop-color="#747474"/><stop offset="0.743" stop-color="#7a7a7a"/><stop offset="0.776" stop-color="#848484"/><stop offset="0.837" stop-color="#a2a2a2"/><stop offset="0.873" stop-color="#b7b7b7"/><stop offset="0.881" stop-color="#bababa"/><stop offset="0.89" stop-color="#bbbbbb"/><stop offset="0.901" stop-color="#b8b8b8"/><stop offset="0.912" stop-color="#b2b2b2"/><stop offset="0.925" stop-color="#a8a8a8"/><stop offset="0.95" stop-color="#929292"/><stop offset="0.967" stop-color="#858585"/><stop offset="0.986" stop-color="#7a7a7a"/><stop offset="1" stop-color="#767676"/></linearGradient><linearGradient id="h22"><stop offset="0" stop-color="#acacac"/><stop offset="0.008" stop-color="#b3b3b3"/><stop offset="0.017" stop-color="#bdbdbd"/><stop offset="0.03" stop-color="#d2d2d2"/><stop offset="0.055" stop-color="#fbfbfb"/><stop offset="0.058" stop-color="#ffffff"/><stop offset="0.16" stop-color="#ffffff"/><stop offset="0.163" stop-color="#fdfdfd"/><stop offset="0.185" stop-color="#d6d6d6"/><stop offset="0.199" stop-color="#c1c1c1"/><stop offset="0.213" stop-color="#b1b1b1"/><stop offset="0.229" stop-color="#a3a3a3"/><stop offset="0.254" stop-color="#939393"/><stop offset="0.282" stop-color="#858585"/><stop offset="0.304" stop-color="#7e7e7e"/><stop offset="0.34" stop-color="#777777"/><stop offset="0.392" stop-color="#717171"/><stop offset="0.483" stop-color="#6f6f6f"/><stop offset="0.624" stop-color="#6f6f6f"/><stop offset="0.707" stop-color="#747474"/><stop offset="0.74" stop-color="#7a7a7a"/><stop offset="0.776" stop-color="#848484"/><stop offset="0.84" stop-color="#a3a3a3"/><stop offset="0.87" stop-color="#b4b4b4"/><stop offset="0.878" stop-color="#b8b8b8"/><stop offset="0.887" stop-color="#b9b9b9"/><stop offset="0.898" stop-color="#b7b7b7"/><stop offset="0.909" stop-color="#b2b2b2"/><stop offset="0.923" stop-color="#a8a8a8"/><stop offset="0.95" stop-color="#909090"/><stop offset="0.967" stop-color="#838383"/><stop offset="0.986" stop-color="#797979"/><stop offset="1" stop-color="#757575"/></linearGradient><linearGradient id="h23"><stop offset="0" stop-color="#a9a9a9"/><stop offset="0.008" stop-color="#b0b0b0"/><stop offset="0.019" stop-color="#bebebe"/><stop offset="0.033" stop-color="#d2d2d2"/><stop offset="0.061" stop-color="#ffffff"/><stop offset="0.16" stop-color="#ffffff"/><stop offset="0.163" stop-color="#fefefe"/><stop offset="0.185" stop-color="#d7d7d7"/><stop offset="0.199" stop-color="#c2c2c2"/><stop offset="0.215" stop-color="#b0b0b0"/><stop offset="0.232" stop-color="#a2a2a2"/><stop offset="0.257" stop-color="#919191"/><stop offset="0.282" stop-color="#858585"/><stop offset="0.304" stop-color="#7e7e7e"/><stop offset="0.34" stop-color="#777777"/><stop offset="0.392" stop-color="#717171"/><stop offset="0.486" stop-color="#6e6e6e"/><stop offset="0.624" stop-color="#6e6e6e"/><stop offset="0.707" stop-color="#747474"/><stop offset="0.74" stop-color="#7a7a7a"/><stop offset="0.773" stop-color="#848484"/><stop offset="0.837" stop-color="#a2a2a2"/><stop offset="0.87" stop-color="#b3b3b3"/><stop offset="0.884" stop-color="#b7b7b7"/><stop offset="0.895" stop-color="#b5b5b5"/><stop offset="0.909" stop-color="#afafaf"/><stop offset="0.923" stop-color="#a5a5a5"/><stop offset="0.95" stop-color="#8d8d8d"/><stop offset="0.967" stop-color="#818181"/><stop offset="0.983" stop-color="#787878"/><stop offset="1" stop-color="#747474"/></linearGradient><linearGradient id="h24"><stop offset="0" stop-color="#a7a7a7"/><stop offset="0.008" stop-color="#adadad"/><stop offset="0.019" stop-color="#bbbbbb"/><stop offset="0.036" stop-color="#d3d3d3"/><stop offset="0.064" stop-color="#ffffff"/><stop offset="0.16" stop-color="#ffffff"/><stop offset="0.163" stop-color="#fefefe"/><stop offset="0.185" stop-color="#d8d8d8"/><stop offset="0.199" stop-color="#c3c3c3"/><stop offset="0.215" stop-color="#b1b1b1"/><stop offset="0.232" stop-color="#a2a2a2"/><stop offset="0.257" stop-color="#929292"/><stop offset="0.282" stop-color="#858585"/><stop offset="0.304" stop-color="#7e7e7e"/><stop offset="0.34" stop-color="#777777"/><stop offset="0.392" stop-color="#717171"/><stop offset="0.486" stop-color="#6e6e6e"/><stop offset="0.622" stop-color="#6e6e6e"/><stop offset="0.704" stop-color="#737373"/><stop offset="0.738" stop-color="#797979"/><stop offset="0.771" stop-color="#838383"/><stop offset="0.834" stop-color="#a1a1a1"/><stop offset="0.865" stop-color="#b0b0b0"/><stop offset="0.873" stop-color="#b4b4b4"/><stop offset="0.881" stop-color="#b5b5b5"/><stop offset="0.895" stop-color="#b3b3b3"/><stop offset="0.909" stop-color="#acacac"/><stop offset="0.923" stop-color="#a2a2a2"/><stop offset="0.95" stop-color="#8a8a8a"/><stop offset="0.972" stop-color="#7c7c7c"/><stop offset="0.986" stop-color="#767676"/><stop offset="1" stop-color="#737373"/></linearGradient><linearGradient id="h25"><stop offset="0" stop-color="#a5a5a5"/><stop offset="0.006" stop-color="#a9a9a9"/><stop offset="0.011" stop-color="#aeaeae"/><stop offset="0.022" stop-color="#bcbcbc"/><stop offset="0.039" stop-color="#d4d4d4"/><stop offset="0.066" stop-color="#ffffff"/><stop offset="0.16" stop-color="#ffffff"/><stop offset="0.163" stop-color="#fefefe"/><stop offset="0.185" stop-color="#d9d9d9"/><stop offset="0.202" stop-color="#c1c1c1"/><stop offset="0.218" stop-color="#afafaf"/><stop offset="0.235" stop-color="#a1a1a1"/><stop offset="0.26" stop-color="#919191"/><stop offset="0.285" stop-color="#848484"/><stop offset="0.307" stop-color="#7d7d7d"/><stop offset="0.34" stop-color="#767676"/><stop offset="0.392" stop-color="#707070"/><stop offset="0.486" stop-color="#6d6d6d"/><stop offset="0.619" stop-color="#6e6e6e"/><stop offset="0.699" stop-color="#737373"/><stop offset="0.732" stop-color="#787878"/><stop offset="0.768" stop-color="#828282"/><stop offset="0.787" stop-color="#8b8b8b"/><stop offset="0.865" stop-color="#b0b0b0"/><stop offset="0.873" stop-color="#b3b3b3"/><stop offset="0.881" stop-color="#b4b4b4"/><stop offset="0.895" stop-color="#b0b0b0"/><stop offset="0.909" stop-color="#a9a9a9"/><stop offset="0.92" stop-color="#a1a1a1"/><stop offset="0.948" stop-color="#8a8a8a"/><stop offset="0.97" stop-color="#7b7b7b"/><stop offset="0.983" stop-color="#757575"/><stop offset="1" stop-color="#727272"/></linearGradient><linearGradient id="h26"><stop offset="0" stop-color="#a3a3a3"/><stop offset="0.011" stop-color="#acacac"/><stop offset="0.022" stop-color="#b9b9b9"/><stop offset="0.041" stop-color="#d4d4d4"/><stop offset="0.069" stop-color="#ffffff"/><stop offset="0.16" stop-color="#ffffff"/><stop offset="0.163" stop-color="#fefefe"/><stop offset="0.188" stop-color="#d5d5d5"/><stop offset="0.202" stop-color="#c2c2c2"/><stop offset="0.218" stop-color="#b0b0b0"/><stop offset="0.235" stop-color="#a2a2a2"/><stop offset="0.26" stop-color="#919191"/><stop offset="0.285" stop-color="#848484"/><stop offset="0.307" stop-color="#7d7d7d"/><stop offset="0.34" stop-color="#767676"/><stop offset="0.392" stop-color="#707070"/><stop offset="0.486" stop-color="#6d6d6d"/><stop offset="0.619" stop-color="#6d6d6d"/><stop offset="0.696" stop-color="#727272"/><stop offset="0.729" stop-color="#787878"/><stop offset="0.765" stop-color="#828282"/><stop offset="0.785" stop-color="#8a8a8a"/><stop offset="0.859" stop-color="#aeaeae"/><stop offset="0.867" stop-color="#b1b1b1"/><stop offset="0.876" stop-color="#b2b2b2"/><stop offset="0.89" stop-color="#b0b0b0"/><stop offset="0.903" stop-color="#a9a9a9"/><stop offset="0.917" stop-color="#a0a0a0"/><stop offset="0.948" stop-color="#878787"/><stop offset="0.967" stop-color="#7b7b7b"/><stop offset="0.983" stop-color="#747474"/><stop offset="1" stop-color="#717171"/></linearGradient><linearGradient id="h27"><stop offset="0" stop-color="#a1a1a1"/><stop offset="0.011" stop-color="#aaaaaa"/><stop offset="0.022" stop-color="#b6b6b6"/><stop offset="0.044" stop-color="#d5d5d5"/><stop offset="0.072" stop-color="#fefefe"/><stop offset="0.075" stop-color="#ffffff"/><stop offset="0.16" stop-color="#ffffff"/><stop offset="0.163" stop-color="#ffffff"/><stop offset="0.188" stop-color="#d6d6d6"/><stop offset="0.202" stop-color="#c3c3c3"/><stop offset="0.218" stop-color="#b1b1b1"/><stop offset="0.238" stop-color="#a0a0a0"/><stop offset="0.262" stop-color="#909090"/><stop offset="0.285" stop-color="#848484"/><stop offset="0.309" stop-color="#7c7c7c"/><stop offset="0.34" stop-color="#767676"/><stop offset="0.392" stop-color="#707070"/><stop offset="0.486" stop-color="#6c6c6c"/><stop offset="0.616" stop-color="#6d6d6d"/><stop offset="0.693" stop-color="#727272"/><stop offset="0.727" stop-color="#777777"/><stop offset="0.762" stop-color="#818181"/><stop offset="0.782" stop-color="#898989"/><stop offset="0.856" stop-color="#acacac"/><stop offset="0.865" stop-color="#afafaf"/><stop offset="0.873" stop-color="#b1b1b1"/><stop offset="0.887" stop-color="#aeaeae"/><stop offset="0.901" stop-color="#a8a8a8"/><stop offset="0.914" stop-color="#9e9e9e"/><stop offset="0.945" stop-color="#868686"/><stop offset="0.967" stop-color="#797979"/><stop offset="0.981" stop-color="#747474"/><stop offset="1" stop-color="#707070"/></linearGradient><linearGradient id="h28"><stop offset="0" stop-color="#a0a0a0"/><stop offset="0.011" stop-color="#a8a8a8"/><stop offset="0.022" stop-color="#b4b4b4"/><stop offset="0.044" stop-color="#d1d1d1"/><stop offset="0.075" stop-color="#fdfdfd"/><stop offset="0.077" stop-color="#ffffff"/><stop offset="0.16" stop-color="#ffffff"/><stop offset="0.163" stop-color="#ffffff"/><stop offset="0.188" stop-color="#d7d7d7"/><stop offset="0.204" stop-color="#c1c1c1"/><stop offset="0.221" stop-color="#afafaf"/><stop offset="0.238" stop-color="#a1a1a1"/><stop offset="0.262" stop-color="#909090"/><stop offset="0.285" stop-color="#848484"/><stop offset="0.309" stop-color="#7c7c7c"/><stop offset="0.34" stop-color="#767676"/><stop offset="0.395" stop-color="#6f6f6f"/><stop offset="0.489" stop-color="#6b6b6b"/><stop offset="0.616" stop-color="#6c6c6c"/><stop offset="0.691" stop-color="#727272"/><stop offset="0.724" stop-color="#777777"/><stop offset="0.762" stop-color="#828282"/><stop offset="0.782" stop-color="#898989"/><stop offset="0.854" stop-color="#ababab"/><stop offset="0.862" stop-color="#aeaeae"/><stop offset="0.87" stop-color="#afafaf"/><stop offset="0.884" stop-color="#adadad"/><stop offset="0.898" stop-color="#a6a6a6"/><stop offset="0.912" stop-color="#9d9d9d"/><stop offset="0.942" stop-color="#868686"/><stop offset="0.964" stop-color="#787878"/><stop offset="0.981" stop-color="#727272"/><stop offset="1" stop-color="#707070"/></linearGradient><linearGradient id="h29"><stop offset="0" stop-color="#9e9e9e"/><stop offset="0.011" stop-color="#a5a5a5"/><stop offset="0.025" stop-color="#b4b4b4"/><stop offset="0.047" stop-color="#d1d1d1"/><stop offset="0.08" stop-color="#ffffff"/><stop offset="0.163" stop-color="#ffffff"/><stop offset="0.188" stop-color="#d8d8d8"/><stop offset="0.202" stop-color="#c5c5c5"/><stop offset="0.218" stop-color="#b3b3b3"/><stop offset="0.238" stop-color="#a2a2a2"/><stop offset="0.262" stop-color="#909090"/><stop offset="0.285" stop-color="#848484"/><stop offset="0.309" stop-color="#7c7c7c"/><stop offset="0.34" stop-color="#757575"/><stop offset="0.392" stop-color="#6f6f6f"/><stop offset="0.486" stop-color="#6b6b6b"/><stop offset="0.613" stop-color="#6c6c6c"/><stop offset="0.685" stop-color="#717171"/><stop offset="0.718" stop-color="#767676"/><stop offset="0.757" stop-color="#808080"/><stop offset="0.779" stop-color="#898989"/><stop offset="0.848" stop-color="#a9a9a9"/><stop offset="0.859" stop-color="#acacac"/><stop offset="0.867" stop-color="#aeaeae"/><stop offset="0.881" stop-color="#ababab"/><stop offset="0.895" stop-color="#a5a5a5"/><stop offset="0.909" stop-color="#9c9c9c"/><stop offset="0.939" stop-color="#858585"/><stop offset="0.961" stop-color="#787878"/><stop offset="0.978" stop-color="#727272"/><stop offset="1" stop-color="#6f6f6f"/></linearGradient><linearGradient id="h30"><stop offset="0" stop-color="#9c9c9c"/><stop offset="0.011" stop-color="#a3a3a3"/><stop offset="0.028" stop-color="#b5b5b5"/><stop offset="0.05" stop-color="#d0d0d0"/><stop offset="0.083" stop-color="#fdfdfd"/><stop offset="0.086" stop-color="#ffffff"/><stop offset="0.163" stop-color="#ffffff"/><stop offset="0.188" stop-color="#d9d9d9"/><stop offset="0.202" stop-color="#c6c6c6"/><stop offset="0.218" stop-color="#b4b4b4"/><stop offset="0.24" stop-color="#a1a1a1"/><stop offset="0.265" stop-color="#8f8f8f"/><stop offset="0.287" stop-color="#838383"/><stop offset="0.309" stop-color="#7c7c7c"/><stop offset="0.34" stop-color="#757575"/><stop offset="0.392" stop-color="#6f6f6f"/><stop offset="0.486" stop-color="#6a6a6a"/><stop offset="0.61" stop-color="#6b6b6b"/><stop offset="0.68" stop-color="#707070"/><stop offset="0.715" stop-color="#767676"/><stop offset="0.754" stop-color="#808080"/><stop offset="0.776" stop-color="#888888"/><stop offset="0.845" stop-color="#a7a7a7"/><stop offset="0.856" stop-color="#ababab"/><stop offset="0.865" stop-color="#acacac"/><stop offset="0.878" stop-color="#aaaaaa"/><stop offset="0.892" stop-color="#a3a3a3"/><stop offset="0.906" stop-color="#9b9b9b"/><stop offset="0.939" stop-color="#828282"/><stop offset="0.959" stop-color="#777777"/><stop offset="0.975" stop-color="#717171"/><stop offset="1" stop-color="#6e6e6e"/></linearGradient><linearGradient id="h31"><stop offset="0" stop-color="#9a9a9a"/><stop offset="0.006" stop-color="#9d9d9d"/><stop offset="0.014" stop-color="#a4a4a4"/><stop offset="0.03" stop-color="#b5b5b5"/><stop offset="0.052" stop-color="#d0d0d0"/><stop offset="0.088" stop-color="#ffffff"/><stop offset="0.163" stop-color="#ffffff"/><stop offset="0.169" stop-color="#f8f8f8"/><stop offset="0.191" stop-color="#d6d6d6"/><stop offset="0.204" stop-color="#c4c4c4"/><stop offset="0.221" stop-color="#b2b2b2"/><stop offset="0.243" stop-color="#9f9f9f"/><stop offset="0.268" stop-color="#8e8e8e"/><stop offset="0.287" stop-color="#838383"/><stop offset="0.312" stop-color="#7b7b7b"/><stop offset="0.34" stop-color="#757575"/><stop offset="0.392" stop-color="#6e6e6e"/><stop offset="0.483" stop-color="#6a6a6a"/><stop offset="0.608" stop-color="#6b6b6b"/><stop offset="0.671" stop-color="#6f6f6f"/><stop offset="0.71" stop-color="#757575"/><stop offset="0.751" stop-color="#7f7f7f"/><stop offset="0.776" stop-color="#888888"/><stop offset="0.843" stop-color="#a6a6a6"/><stop offset="0.854" stop-color="#aaaaaa"/><stop offset="0.862" stop-color="#ababab"/><stop offset="0.876" stop-color="#a8a8a8"/><stop offset="0.89" stop-color="#a2a2a2"/><stop offset="0.903" stop-color="#9a9a9a"/><stop offset="0.936" stop-color="#828282"/><stop offset="0.959" stop-color="#767676"/><stop offset="0.975" stop-color="#707070"/><stop offset="1" stop-color="#6d6d6d"/></linearGradient><linearGradient id="h32"><stop offset="0" stop-color="#999999"/><stop offset="0.006" stop-color="#9b9b9b"/><stop offset="0.014" stop-color="#a1a1a1"/><stop offset="0.03" stop-color="#b2b2b2"/><stop offset="0.052" stop-color="#cccccc"/><stop offset="0.088" stop-color="#f9f9f9"/><stop offset="0.094" stop-color="#ffffff"/><stop offset="0.163" stop-color="#ffffff"/><stop offset="0.169" stop-color="#f8f8f8"/><stop offset="0.193" stop-color="#d3d3d3"/><stop offset="0.204" stop-color="#c5c5c5"/><stop offset="0.221" stop-color="#b3b3b3"/><stop offset="0.243" stop-color="#a0a0a0"/><stop offset="0.268" stop-color="#8e8e8e"/><stop offset="0.287" stop-color="#838383"/><stop offset="0.312" stop-color="#7b7b7b"/><stop offset="0.34" stop-color="#757575"/><stop offset="0.392" stop-color="#6e6e6e"/><stop offset="0.483" stop-color="#696969"/><stop offset="0.605" stop-color="#6a6a6a"/><stop offset="0.663" stop-color="#6e6e6e"/><stop offset="0.704" stop-color="#747474"/><stop offset="0.746" stop-color="#7e7e7e"/><stop offset="0.773" stop-color="#888888"/><stop offset="0.84" stop-color="#a5a5a5"/><stop offset="0.851" stop-color="#a8a8a8"/><stop offset="0.859" stop-color="#a9a9a9"/><stop offset="0.873" stop-color="#a7a7a7"/><stop offset="0.887" stop-color="#a1a1a1"/><stop offset="0.901" stop-color="#989898"/><stop offset="0.934" stop-color="#818181"/><stop offset="0.956" stop-color="#757575"/><stop offset="0.972" stop-color="#707070"/><stop offset="1" stop-color="#6b6b6b"/></linearGradient><linearGradient id="h33"><stop offset="0" stop-color="#979797"/><stop offset="0.006" stop-color="#999999"/><stop offset="0.014" stop-color="#9f9f9f"/><stop offset="0.033" stop-color="#b2b2b2"/><stop offset="0.058" stop-color="#cecece"/><stop offset="0.094" stop-color="#fafafa"/><stop offset="0.099" stop-color="#ffffff"/><stop offset="0.163" stop-color="#ffffff"/><stop offset="0.169" stop-color="#f9f9f9"/><stop offset="0.193" stop-color="#d4d4d4"/><stop offset="0.207" stop-color="#c3c3c3"/><stop offset="0.227" stop-color="#afafaf"/><stop offset="0.246" stop-color="#9e9e9e"/><stop offset="0.268" stop-color="#8e8e8e"/><stop offset="0.287" stop-color="#838383"/><stop offset="0.312" stop-color="#7a7a7a"/><stop offset="0.34" stop-color="#747474"/><stop offset="0.392" stop-color="#6e6e6e"/><stop offset="0.481" stop-color="#696969"/><stop offset="0.599" stop-color="#6a6a6a"/><stop offset="0.655" stop-color="#6d6d6d"/><stop offset="0.702" stop-color="#737373"/><stop offset="0.743" stop-color="#7d7d7d"/><stop offset="0.771" stop-color="#878787"/><stop offset="0.837" stop-color="#a4a4a4"/><stop offset="0.848" stop-color="#a7a7a7"/><stop offset="0.856" stop-color="#a8a8a8"/><stop offset="0.87" stop-color="#a5a5a5"/><stop offset="0.884" stop-color="#9f9f9f"/><stop offset="0.901" stop-color="#959595"/><stop offset="0.931" stop-color="#808080"/><stop offset="0.953" stop-color="#757575"/><stop offset="0.972" stop-color="#6f6f6f"/><stop offset="1" stop-color="#6a6a6a"/></linearGradient><linearGradient id="h34"><stop offset="0" stop-color="#959595"/><stop offset="0.014" stop-color="#9d9d9d"/><stop offset="0.036" stop-color="#b1b1b1"/><stop offset="0.058" stop-color="#c9c9c9"/><stop offset="0.102" stop-color="#fdfdfd"/><stop offset="0.105" stop-color="#ffffff"/><stop offset="0.163" stop-color="#ffffff"/><stop offset="0.169" stop-color="#f9f9f9"/><stop offset="0.193" stop-color="#d5d5d5"/><stop offset="0.207" stop-color="#c4c4c4"/><stop offset="0.227" stop-color="#b0b0b0"/><stop offset="0.249" stop-color="#9d9d9d"/><stop offset="0.271" stop-color="#8d8d8d"/><stop offset="0.29" stop-color="#828282"/><stop offset="0.312" stop-color="#7a7a7a"/><stop offset="0.34" stop-color="#747474"/><stop offset="0.392" stop-color="#6d6d6d"/><stop offset="0.481" stop-color="#686868"/><stop offset="0.597" stop-color="#696969"/><stop offset="0.649" stop-color="#6c6c6c"/><stop offset="0.699" stop-color="#737373"/><stop offset="0.738" stop-color="#7c7c7c"/><stop offset="0.768" stop-color="#868686"/><stop offset="0.831" stop-color="#a2a2a2"/><stop offset="0.843" stop-color="#a5a5a5"/><stop offset="0.854" stop-color="#a6a6a6"/><stop offset="0.867" stop-color="#a4a4a4"/><stop offset="0.881" stop-color="#9e9e9e"/><stop offset="0.898" stop-color="#949494"/><stop offset="0.931" stop-color="#7e7e7e"/><stop offset="0.95" stop-color="#747474"/><stop offset="0.97" stop-color="#6e6e6e"/><stop offset="1" stop-color="#696969"/></linearGradient><linearGradient id="h35"><stop offset="0" stop-color="#939393"/><stop offset="0.008" stop-color="#979797"/><stop offset="0.017" stop-color="#9d9d9d"/><stop offset="0.039" stop-color="#b1b1b1"/><stop offset="0.064" stop-color="#cbcbcb"/><stop offset="0.097" stop-color="#f2f2f2"/><stop offset="0.108" stop-color="#fdfdfd"/><stop offset="0.11" stop-color="#ffffff"/><stop offset="0.163" stop-color="#ffffff"/><stop offset="0.169" stop-color="#f9f9f9"/><stop offset="0.193" stop-color="#d6d6d6"/><stop offset="0.21" stop-color="#c2c2c2"/><stop offset="0.229" stop-color="#aeaeae"/><stop offset="0.254" stop-color="#999999"/><stop offset="0.273" stop-color="#8b8b8b"/><stop offset="0.293" stop-color="#818181"/><stop offset="0.315" stop-color="#797979"/><stop offset="0.34" stop-color="#747474"/><stop offset="0.392" stop-color="#6d6d6d"/><stop offset="0.478" stop-color="#686868"/><stop offset="0.588" stop-color="#696969"/><stop offset="0.644" stop-color="#6c6c6c"/><stop offset="0.696" stop-color="#727272"/><stop offset="0.735" stop-color="#7b7b7b"/><stop offset="0.768" stop-color="#868686"/><stop offset="0.829" stop-color="#a1a1a1"/><stop offset="0.84" stop-color="#a4a4a4"/><stop offset="0.851" stop-color="#a5a5a5"/><stop offset="0.865" stop-color="#a2a2a2"/><stop offset="0.881" stop-color="#9b9b9b"/><stop offset="0.928" stop-color="#7e7e7e"/><stop offset="0.948" stop-color="#747474"/><stop offset="0.967" stop-color="#6e6e6e"/><stop offset="1" stop-color="#686868"/></linearGradient><linearGradient id="h36"><stop offset="0" stop-color="#929292"/><stop offset="0.008" stop-color="#959595"/><stop offset="0.017" stop-color="#9a9a9a"/><stop offset="0.044" stop-color="#b2b2b2"/><stop offset="0.069" stop-color="#cccccc"/><stop offset="0.102" stop-color="#f2f2f2"/><stop offset="0.113" stop-color="#fefefe"/><stop offset="0.116" stop-color="#ffffff"/><stop offset="0.163" stop-color="#ffffff"/><stop offset="0.166" stop-color="#fdfdfd"/><stop offset="0.169" stop-color="#fafafa"/><stop offset="0.196" stop-color="#d4d4d4"/><stop offset="0.213" stop-color="#c0c0c0"/><stop offset="0.232" stop-color="#acacac"/><stop offset="0.257" stop-color="#979797"/><stop offset="0.276" stop-color="#898989"/><stop offset="0.293" stop-color="#818181"/><stop offset="0.315" stop-color="#797979"/><stop offset="0.34" stop-color="#747474"/><stop offset="0.392" stop-color="#6d6d6d"/><stop offset="0.478" stop-color="#686868"/><stop offset="0.58" stop-color="#686868"/><stop offset="0.638" stop-color="#6b6b6b"/><stop offset="0.691" stop-color="#717171"/><stop offset="0.732" stop-color="#7b7b7b"/><stop offset="0.765" stop-color="#868686"/><stop offset="0.826" stop-color="#a0a0a0"/><stop offset="0.837" stop-color="#a3a3a3"/><stop offset="0.845" stop-color="#a4a4a4"/><stop offset="0.859" stop-color="#a2a2a2"/><stop offset="0.876" stop-color="#9b9b9b"/><stop offset="0.892" stop-color="#929292"/><stop offset="0.925" stop-color="#7d7d7d"/><stop offset="0.948" stop-color="#727272"/><stop offset="0.97" stop-color="#6c6c6c"/><stop offset="1" stop-color="#666666"/></linearGradient><linearGradient id="h37"><stop offset="0" stop-color="#909090"/><stop offset="0.008" stop-color="#939393"/><stop offset="0.019" stop-color="#9a9a9a"/><stop offset="0.05" stop-color="#b4b4b4"/><stop offset="0.075" stop-color="#cdcdcd"/><stop offset="0.108" stop-color="#f3f3f3"/><stop offset="0.119" stop-color="#ffffff"/><stop offset="0.163" stop-color="#ffffff"/><stop offset="0.166" stop-color="#fefefe"/><stop offset="0.169" stop-color="#fafafa"/><stop offset="0.199" stop-color="#d1d1d1"/><stop offset="0.215" stop-color="#bebebe"/><stop offset="0.235" stop-color="#ababab"/><stop offset="0.26" stop-color="#959595"/><stop offset="0.276" stop-color="#8a8a8a"/><stop offset="0.296" stop-color="#808080"/><stop offset="0.315" stop-color="#797979"/><stop offset="0.34" stop-color="#737373"/><stop offset="0.392" stop-color="#6c6c6c"/><stop offset="0.478" stop-color="#676767"/><stop offset="0.569" stop-color="#676767"/><stop offset="0.633" stop-color="#6a6a6a"/><stop offset="0.688" stop-color="#717171"/><stop offset="0.727" stop-color="#7a7a7a"/><stop offset="0.765" stop-color="#868686"/><stop offset="0.823" stop-color="#9f9f9f"/><stop offset="0.834" stop-color="#a2a2a2"/><stop offset="0.843" stop-color="#a2a2a2"/><stop offset="0.856" stop-color="#a0a0a0"/><stop offset="0.873" stop-color="#9a9a9a"/><stop offset="0.89" stop-color="#919191"/><stop offset="0.923" stop-color="#7c7c7c"/><stop offset="0.945" stop-color="#727272"/><stop offset="0.967" stop-color="#6b6b6b"/><stop offset="1" stop-color="#656565"/></linearGradient><linearGradient id="h38"><stop offset="0" stop-color="#8e8e8e"/><stop offset="0.011" stop-color="#939393"/><stop offset="0.022" stop-color="#999999"/><stop offset="0.039" stop-color="#a6a6a6"/><stop offset="0.055" stop-color="#b4b4b4"/><stop offset="0.08" stop-color="#cdcdcd"/><stop offset="0.113" stop-color="#f5f5f5"/><stop offset="0.122" stop-color="#fefefe"/><stop offset="0.124" stop-color="#ffffff"/><stop offset="0.163" stop-color="#ffffff"/><stop offset="0.166" stop-color="#fefefe"/><stop offset="0.169" stop-color="#fbfbfb"/><stop offset="0.199" stop-color="#d2d2d2"/><stop offset="0.215" stop-color="#bfbfbf"/><stop offset="0.238" stop-color="#a9a9a9"/><stop offset="0.262" stop-color="#949494"/><stop offset="0.279" stop-color="#888888"/><stop offset="0.296" stop-color="#808080"/><stop offset="0.315" stop-color="#797979"/><stop offset="0.34" stop-color="#737373"/><stop offset="0.392" stop-color="#6c6c6c"/><stop offset="0.478" stop-color="#676767"/><stop offset="0.564" stop-color="#676767"/><stop offset="0.63" stop-color="#6a6a6a"/><stop offset="0.685" stop-color="#717171"/><stop offset="0.724" stop-color="#797979"/><stop offset="0.762" stop-color="#858585"/><stop offset="0.82" stop-color="#9e9e9e"/><stop offset="0.831" stop-color="#a1a1a1"/><stop offset="0.84" stop-color="#a1a1a1"/><stop offset="0.854" stop-color="#9f9f9f"/><stop offset="0.87" stop-color="#989898"/><stop offset="0.887" stop-color="#909090"/><stop offset="0.923" stop-color="#7a7a7a"/><stop offset="0.942" stop-color="#717171"/><stop offset="0.967" stop-color="#6a6a6a"/><stop offset="1" stop-color="#646464"/></linearGradient><linearGradient id="h39"><stop offset="0" stop-color="#8c8c8c"/><stop offset="0.011" stop-color="#909090"/><stop offset="0.025" stop-color="#999999"/><stop offset="0.044" stop-color="#a7a7a7"/><stop offset="0.061" stop-color="#b5b5b5"/><stop offset="0.086" stop-color="#cecece"/><stop offset="0.116" stop-color="#f4f4f4"/><stop offset="0.127" stop-color="#ffffff"/><stop offset="0.163" stop-color="#ffffff"/><stop offset="0.166" stop-color="#fefefe"/><stop offset="0.171" stop-color="#f8f8f8"/><stop offset="0.199" stop-color="#d3d3d3"/><stop offset="0.218" stop-color="#bdbdbd"/><stop offset="0.238" stop-color="#aaaaaa"/><stop offset="0.262" stop-color="#949494"/><stop offset="0.279" stop-color="#888888"/><stop offset="0.296" stop-color="#808080"/><stop offset="0.315" stop-color="#797979"/><stop offset="0.34" stop-color="#737373"/><stop offset="0.392" stop-color="#6c6c6c"/><stop offset="0.478" stop-color="#666666"/><stop offset="0.558" stop-color="#666666"/><stop offset="0.627" stop-color="#696969"/><stop offset="0.682" stop-color="#707070"/><stop offset="0.721" stop-color="#797979"/><stop offset="0.762" stop-color="#868686"/><stop offset="0.818" stop-color="#9d9d9d"/><stop offset="0.829" stop-color="#9f9f9f"/><stop offset="0.837" stop-color="#a0a0a0"/><stop offset="0.851" stop-color="#9d9d9d"/><stop offset="0.867" stop-color="#979797"/><stop offset="0.887" stop-color="#8d8d8d"/><stop offset="0.92" stop-color="#7a7a7a"/><stop offset="0.939" stop-color="#717171"/><stop offset="0.967" stop-color="#696969"/><stop offset="1" stop-color="#626262"/></linearGradient><linearGradient id="h40"><stop offset="0" stop-color="#8b8b8b"/><stop offset="0.011" stop-color="#8e8e8e"/><stop offset="0.028" stop-color="#989898"/><stop offset="0.047" stop-color="#a5a5a5"/><stop offset="0.066" stop-color="#b5b5b5"/><stop offset="0.08" stop-color="#c2c2c2"/><stop offset="0.091" stop-color="#cecece"/><stop offset="0.119" stop-color="#f3f3f3"/><stop offset="0.13" stop-color="#ffffff"/><stop offset="0.163" stop-color="#ffffff"/><stop offset="0.166" stop-color="#fefefe"/><stop offset="0.171" stop-color="#f8f8f8"/><stop offset="0.202" stop-color="#d1d1d1"/><stop offset="0.221" stop-color="#bbbbbb"/><stop offset="0.24" stop-color="#a8a8a8"/><stop offset="0.265" stop-color="#929292"/><stop offset="0.282" stop-color="#878787"/><stop offset="0.298" stop-color="#7e7e7e"/><stop offset="0.318" stop-color="#787878"/><stop offset="0.34" stop-color="#737373"/><stop offset="0.392" stop-color="#6b6b6b"/><stop offset="0.478" stop-color="#666666"/><stop offset="0.555" stop-color="#666666"/><stop offset="0.624" stop-color="#686868"/><stop offset="0.677" stop-color="#6f6f6f"/><stop offset="0.715" stop-color="#777777"/><stop offset="0.76" stop-color="#858585"/><stop offset="0.815" stop-color="#9c9c9c"/><stop offset="0.826" stop-color="#9e9e9e"/><stop offset="0.834" stop-color="#9f9f9f"/><stop offset="0.845" stop-color="#9d9d9d"/><stop offset="0.862" stop-color="#979797"/><stop offset="0.881" stop-color="#8d8d8d"/><stop offset="0.917" stop-color="#797979"/><stop offset="0.936" stop-color="#707070"/><stop offset="0.97" stop-color="#666666"/><stop offset="1" stop-color="#616161"/></linearGradient><linearGradient id="h41"><stop offset="0" stop-color="#898989"/><stop offset="0.014" stop-color="#8e8e8e"/><stop offset="0.03" stop-color="#979797"/><stop offset="0.052" stop-color="#a6a6a6"/><stop offset="0.072" stop-color="#b6b6b6"/><stop offset="0.083" stop-color="#c0c0c0"/><stop offset="0.094" stop-color="#cdcdcd"/><stop offset="0.122" stop-color="#f2f2f2"/><stop offset="0.133" stop-color="#ffffff"/><stop offset="0.163" stop-color="#ffffff"/><stop offset="0.166" stop-color="#fefefe"/><stop offset="0.171" stop-color="#f8f8f8"/><stop offset="0.202" stop-color="#d2d2d2"/><stop offset="0.221" stop-color="#bcbcbc"/><stop offset="0.24" stop-color="#a8a8a8"/><stop offset="0.265" stop-color="#929292"/><stop offset="0.282" stop-color="#878787"/><stop offset="0.298" stop-color="#7e7e7e"/><stop offset="0.318" stop-color="#777777"/><stop offset="0.34" stop-color="#727272"/><stop offset="0.39" stop-color="#6b6b6b"/><stop offset="0.475" stop-color="#656565"/><stop offset="0.547" stop-color="#656565"/><stop offset="0.622" stop-color="#686868"/><stop offset="0.677" stop-color="#6f6f6f"/><stop offset="0.715" stop-color="#787878"/><stop offset="0.76" stop-color="#858585"/><stop offset="0.812" stop-color="#9b9b9b"/><stop offset="0.829" stop-color="#9e9e9e"/><stop offset="0.843" stop-color="#9c9c9c"/><stop offset="0.856" stop-color="#969696"/><stop offset="0.878" stop-color="#8c8c8c"/><stop offset="0.917" stop-color="#777777"/><stop offset="0.936" stop-color="#6f6f6f"/><stop offset="0.97" stop-color="#656565"/><stop offset="1" stop-color="#606060"/></linearGradient><linearGradient id="h42"><stop offset="0" stop-color="#888888"/><stop offset="0.014" stop-color="#8c8c8c"/><stop offset="0.033" stop-color="#969696"/><stop offset="0.055" stop-color="#a5a5a5"/><stop offset="0.075" stop-color="#b4b4b4"/><stop offset="0.094" stop-color="#c8c8c8"/><stop offset="0.102" stop-color="#d3d3d3"/><stop offset="0.122" stop-color="#eeeeee"/><stop offset="0.135" stop-color="#fefefe"/><stop offset="0.138" stop-color="#ffffff"/><stop offset="0.163" stop-color="#ffffff"/><stop offset="0.166" stop-color="#fdfdfd"/><stop offset="0.174" stop-color="#f5f5f5"/><stop offset="0.204" stop-color="#cfcfcf"/><stop offset="0.224" stop-color="#b9b9b9"/><stop offset="0.246" stop-color="#a4a4a4"/><stop offset="0.268" stop-color="#919191"/><stop offset="0.285" stop-color="#858585"/><stop offset="0.301" stop-color="#7d7d7d"/><stop offset="0.318" stop-color="#777777"/><stop offset="0.34" stop-color="#727272"/><stop offset="0.39" stop-color="#6b6b6b"/><stop offset="0.475" stop-color="#656565"/><stop offset="0.544" stop-color="#646464"/><stop offset="0.619" stop-color="#676767"/><stop offset="0.671" stop-color="#6e6e6e"/><stop offset="0.713" stop-color="#777777"/><stop offset="0.76" stop-color="#858585"/><stop offset="0.809" stop-color="#9a9a9a"/><stop offset="0.826" stop-color="#9c9c9c"/><stop offset="0.84" stop-color="#9a9a9a"/><stop offset="0.854" stop-color="#959595"/><stop offset="0.878" stop-color="#898989"/><stop offset="0.914" stop-color="#767676"/><stop offset="0.934" stop-color="#6e6e6e"/><stop offset="0.97" stop-color="#646464"/><stop offset="1" stop-color="#5f5f5f"/></linearGradient><linearGradient id="h43"><stop offset="0" stop-color="#888888"/><stop offset="0.011" stop-color="#8a8a8a"/><stop offset="0.025" stop-color="#909090"/><stop offset="0.044" stop-color="#9b9b9b"/><stop offset="0.064" stop-color="#a8a8a8"/><stop offset="0.08" stop-color="#b6b6b6"/><stop offset="0.094" stop-color="#c4c4c4"/><stop offset="0.102" stop-color="#cecece"/><stop offset="0.124" stop-color="#eeeeee"/><stop offset="0.135" stop-color="#fafafa"/><stop offset="0.141" stop-color="#ffffff"/><stop offset="0.16" stop-color="#ffffff"/><stop offset="0.166" stop-color="#fcfcfc"/><stop offset="0.174" stop-color="#f4f4f4"/><stop offset="0.207" stop-color="#cccccc"/><stop offset="0.229" stop-color="#b4b4b4"/><stop offset="0.251" stop-color="#9f9f9f"/><stop offset="0.271" stop-color="#8f8f8f"/><stop offset="0.287" stop-color="#848484"/><stop offset="0.304" stop-color="#7c7c7c"/><stop offset="0.32" stop-color="#767676"/><stop offset="0.343" stop-color="#717171"/><stop offset="0.392" stop-color="#6a6a6a"/><stop offset="0.478" stop-color="#646464"/><stop offset="0.547" stop-color="#646464"/><stop offset="0.619" stop-color="#676767"/><stop offset="0.669" stop-color="#6d6d6d"/><stop offset="0.71" stop-color="#767676"/><stop offset="0.757" stop-color="#848484"/><stop offset="0.807" stop-color="#989898"/><stop offset="0.823" stop-color="#9b9b9b"/><stop offset="0.834" stop-color="#9a9a9a"/><stop offset="0.851" stop-color="#949494"/><stop offset="0.876" stop-color="#888888"/><stop offset="0.912" stop-color="#757575"/><stop offset="0.934" stop-color="#6d6d6d"/><stop offset="0.972" stop-color="#626262"/><stop offset="1" stop-color="#5e5e5e"/></linearGradient><linearGradient id="h44"><stop offset="0" stop-color="#878787"/><stop offset="0.014" stop-color="#8b8b8b"/><stop offset="0.03" stop-color="#929292"/><stop offset="0.052" stop-color="#9f9f9f"/><stop offset="0.072" stop-color="#acacac"/><stop offset="0.086" stop-color="#b8b8b8"/><stop offset="0.097" stop-color="#c3c3c3"/><stop offset="0.105" stop-color="#cecece"/><stop offset="0.124" stop-color="#e9e9e9"/><stop offset="0.135" stop-color="#f6f6f6"/><stop offset="0.146" stop-color="#fefefe"/><stop offset="0.155" stop-color="#ffffff"/><stop offset="0.163" stop-color="#fcfcfc"/><stop offset="0.171" stop-color="#f6f6f6"/><stop offset="0.182" stop-color="#eaeaea"/><stop offset="0.21" stop-color="#c9c9c9"/><stop offset="0.227" stop-color="#b8b8b8"/><stop offset="0.251" stop-color="#a0a0a0"/><stop offset="0.273" stop-color="#8d8d8d"/><stop offset="0.29" stop-color="#838383"/><stop offset="0.307" stop-color="#7b7b7b"/><stop offset="0.323" stop-color="#757575"/><stop offset="0.343" stop-color="#717171"/><stop offset="0.392" stop-color="#6a6a6a"/><stop offset="0.475" stop-color="#646464"/><stop offset="0.544" stop-color="#636363"/><stop offset="0.619" stop-color="#666666"/><stop offset="0.669" stop-color="#6d6d6d"/><stop offset="0.707" stop-color="#757575"/><stop offset="0.754" stop-color="#838383"/><stop offset="0.804" stop-color="#979797"/><stop offset="0.82" stop-color="#9a9a9a"/><stop offset="0.831" stop-color="#999999"/><stop offset="0.845" stop-color="#949494"/><stop offset="0.87" stop-color="#898989"/><stop offset="0.909" stop-color="#757575"/><stop offset="0.931" stop-color="#6c6c6c"/><stop offset="0.97" stop-color="#616161"/><stop offset="1" stop-color="#5d5d5d"/></linearGradient><linearGradient id="h45"><stop offset="0" stop-color="#878787"/><stop offset="0.014" stop-color="#8a8a8a"/><stop offset="0.03" stop-color="#919191"/><stop offset="0.052" stop-color="#9d9d9d"/><stop offset="0.075" stop-color="#acacac"/><stop offset="0.088" stop-color="#b8b8b8"/><stop offset="0.099" stop-color="#c3c3c3"/><stop offset="0.127" stop-color="#e7e7e7"/><stop offset="0.135" stop-color="#f1f1f1"/><stop offset="0.146" stop-color="#f9f9f9"/><stop offset="0.155" stop-color="#fcfcfc"/><stop offset="0.163" stop-color="#fafafa"/><stop offset="0.174" stop-color="#f2f2f2"/><stop offset="0.229" stop-color="#b5b5b5"/><stop offset="0.257" stop-color="#9c9c9c"/><stop offset="0.276" stop-color="#8c8c8c"/><stop offset="0.293" stop-color="#818181"/><stop offset="0.309" stop-color="#7a7a7a"/><stop offset="0.326" stop-color="#747474"/><stop offset="0.348" stop-color="#6f6f6f"/><stop offset="0.398" stop-color="#696969"/><stop offset="0.478" stop-color="#636363"/><stop offset="0.547" stop-color="#636363"/><stop offset="0.619" stop-color="#666666"/><stop offset="0.666" stop-color="#6c6c6c"/><stop offset="0.707" stop-color="#757575"/><stop offset="0.754" stop-color="#838383"/><stop offset="0.801" stop-color="#969696"/><stop offset="0.818" stop-color="#999999"/><stop offset="0.829" stop-color="#979797"/><stop offset="0.843" stop-color="#939393"/><stop offset="0.867" stop-color="#888888"/><stop offset="0.906" stop-color="#747474"/><stop offset="0.928" stop-color="#6b6b6b"/><stop offset="0.97" stop-color="#606060"/><stop offset="1" stop-color="#5c5c5c"/></linearGradient><linearGradient id="h46"><stop offset="0" stop-color="#878787"/><stop offset="0.014" stop-color="#8a8a8a"/><stop offset="0.03" stop-color="#909090"/><stop offset="0.052" stop-color="#9c9c9c"/><stop offset="0.072" stop-color="#a8a8a8"/><stop offset="0.086" stop-color="#b3b3b3"/><stop offset="0.099" stop-color="#c0c0c0"/><stop offset="0.13" stop-color="#e5e5e5"/><stop offset="0.138" stop-color="#eeeeee"/><stop offset="0.149" stop-color="#f6f6f6"/><stop offset="0.157" stop-color="#f8f8f8"/><stop offset="0.166" stop-color="#f6f6f6"/><stop offset="0.177" stop-color="#eeeeee"/><stop offset="0.188" stop-color="#e3e3e3"/><stop offset="0.215" stop-color="#c4c4c4"/><stop offset="0.235" stop-color="#b1b1b1"/><stop offset="0.262" stop-color="#979797"/><stop offset="0.279" stop-color="#8a8a8a"/><stop offset="0.296" stop-color="#808080"/><stop offset="0.312" stop-color="#797979"/><stop offset="0.329" stop-color="#737373"/><stop offset="0.351" stop-color="#6f6f6f"/><stop offset="0.398" stop-color="#686868"/><stop offset="0.478" stop-color="#636363"/><stop offset="0.544" stop-color="#636363"/><stop offset="0.616" stop-color="#656565"/><stop offset="0.66" stop-color="#6b6b6b"/><stop offset="0.702" stop-color="#747474"/><stop offset="0.749" stop-color="#828282"/><stop offset="0.798" stop-color="#959595"/><stop offset="0.809" stop-color="#979797"/><stop offset="0.818" stop-color="#989898"/><stop offset="0.829" stop-color="#969696"/><stop offset="0.843" stop-color="#919191"/><stop offset="0.903" stop-color="#737373"/><stop offset="0.925" stop-color="#6b6b6b"/><stop offset="0.967" stop-color="#5f5f5f"/><stop offset="1" stop-color="#5c5c5c"/></linearGradient><linearGradient id="h47"><stop offset="0" stop-color="#888888"/><stop offset="0.017" stop-color="#8b8b8b"/><stop offset="0.03" stop-color="#8f8f8f"/><stop offset="0.05" stop-color="#999999"/><stop offset="0.072" stop-color="#a6a6a6"/><stop offset="0.088" stop-color="#b2b2b2"/><stop offset="0.102" stop-color="#bfbfbf"/><stop offset="0.133" stop-color="#e3e3e3"/><stop offset="0.141" stop-color="#ebebeb"/><stop offset="0.152" stop-color="#f3f3f3"/><stop offset="0.16" stop-color="#f4f4f4"/><stop offset="0.169" stop-color="#f2f2f2"/><stop offset="0.18" stop-color="#ebebeb"/><stop offset="0.238" stop-color="#afafaf"/><stop offset="0.265" stop-color="#959595"/><stop offset="0.282" stop-color="#888888"/><stop offset="0.298" stop-color="#7f7f7f"/><stop offset="0.315" stop-color="#777777"/><stop offset="0.331" stop-color="#727272"/><stop offset="0.354" stop-color="#6e6e6e"/><stop offset="0.401" stop-color="#676767"/><stop offset="0.478" stop-color="#626262"/><stop offset="0.547" stop-color="#626262"/><stop offset="0.616" stop-color="#656565"/><stop offset="0.657" stop-color="#6a6a6a"/><stop offset="0.699" stop-color="#737373"/><stop offset="0.746" stop-color="#818181"/><stop offset="0.796" stop-color="#939393"/><stop offset="0.807" stop-color="#969696"/><stop offset="0.815" stop-color="#969696"/><stop offset="0.826" stop-color="#959595"/><stop offset="0.84" stop-color="#909090"/><stop offset="0.901" stop-color="#727272"/><stop offset="0.925" stop-color="#696969"/><stop offset="0.967" stop-color="#5e5e5e"/><stop offset="1" stop-color="#5b5b5b"/></linearGradient><linearGradient id="h48"><stop offset="0" stop-color="#888888"/><stop offset="0.017" stop-color="#8a8a8a"/><stop offset="0.033" stop-color="#909090"/><stop offset="0.052" stop-color="#999999"/><stop offset="0.072" stop-color="#a4a4a4"/><stop offset="0.088" stop-color="#afafaf"/><stop offset="0.102" stop-color="#bbbbbb"/><stop offset="0.113" stop-color="#c6c6c6"/><stop offset="0.135" stop-color="#e0e0e0"/><stop offset="0.144" stop-color="#e8e8e8"/><stop offset="0.155" stop-color="#efefef"/><stop offset="0.163" stop-color="#f1f1f1"/><stop offset="0.171" stop-color="#efefef"/><stop offset="0.182" stop-color="#e8e8e8"/><stop offset="0.24" stop-color="#adadad"/><stop offset="0.268" stop-color="#949494"/><stop offset="0.285" stop-color="#878787"/><stop offset="0.301" stop-color="#7d7d7d"/><stop offset="0.318" stop-color="#767676"/><stop offset="0.334" stop-color="#717171"/><stop offset="0.356" stop-color="#6d6d6d"/><stop offset="0.403" stop-color="#676767"/><stop offset="0.481" stop-color="#626262"/><stop offset="0.55" stop-color="#626262"/><stop offset="0.616" stop-color="#646464"/><stop offset="0.657" stop-color="#6a6a6a"/><stop offset="0.699" stop-color="#737373"/><stop offset="0.746" stop-color="#818181"/><stop offset="0.793" stop-color="#929292"/><stop offset="0.804" stop-color="#959595"/><stop offset="0.812" stop-color="#959595"/><stop offset="0.823" stop-color="#939393"/><stop offset="0.837" stop-color="#8f8f8f"/><stop offset="0.898" stop-color="#717171"/><stop offset="0.923" stop-color="#686868"/><stop offset="0.964" stop-color="#5e5e5e"/><stop offset="1" stop-color="#5a5a5a"/></linearGradient><linearGradient id="h49"><stop offset="0" stop-color="#888888"/><stop offset="0.019" stop-color="#8b8b8b"/><stop offset="0.036" stop-color="#909090"/><stop offset="0.055" stop-color="#999999"/><stop offset="0.075" stop-color="#a4a4a4"/><stop offset="0.091" stop-color="#afafaf"/><stop offset="0.105" stop-color="#bababa"/><stop offset="0.116" stop-color="#c5c5c5"/><stop offset="0.138" stop-color="#dddddd"/><stop offset="0.146" stop-color="#e5e5e5"/><stop offset="0.157" stop-color="#ececec"/><stop offset="0.166" stop-color="#eeeeee"/><stop offset="0.177" stop-color="#ebebeb"/><stop offset="0.188" stop-color="#e3e3e3"/><stop offset="0.243" stop-color="#ababab"/><stop offset="0.271" stop-color="#929292"/><stop offset="0.287" stop-color="#858585"/><stop offset="0.304" stop-color="#7c7c7c"/><stop offset="0.32" stop-color="#757575"/><stop offset="0.359" stop-color="#6c6c6c"/><stop offset="0.403" stop-color="#666666"/><stop offset="0.481" stop-color="#616161"/><stop offset="0.55" stop-color="#616161"/><stop offset="0.616" stop-color="#646464"/><stop offset="0.655" stop-color="#696969"/><stop offset="0.696" stop-color="#727272"/><stop offset="0.74" stop-color="#7f7f7f"/><stop offset="0.793" stop-color="#929292"/><stop offset="0.809" stop-color="#949494"/><stop offset="0.82" stop-color="#929292"/><stop offset="0.834" stop-color="#8e8e8e"/><stop offset="0.892" stop-color="#727272"/><stop offset="0.92" stop-color="#686868"/><stop offset="0.961" stop-color="#5d5d5d"/><stop offset="1" stop-color="#595959"/></linearGradient><linearGradient id="h50"><stop offset="0" stop-color="#888888"/><stop offset="0.022" stop-color="#8c8c8c"/><stop offset="0.036" stop-color="#8f8f8f"/><stop offset="0.055" stop-color="#979797"/><stop offset="0.075" stop-color="#a2a2a2"/><stop offset="0.091" stop-color="#acacac"/><stop offset="0.108" stop-color="#b9b9b9"/><stop offset="0.149" stop-color="#e2e2e2"/><stop offset="0.16" stop-color="#e9e9e9"/><stop offset="0.169" stop-color="#ebebeb"/><stop offset="0.18" stop-color="#e8e8e8"/><stop offset="0.191" stop-color="#e0e0e0"/><stop offset="0.243" stop-color="#ababab"/><stop offset="0.271" stop-color="#929292"/><stop offset="0.287" stop-color="#868686"/><stop offset="0.304" stop-color="#7c7c7c"/><stop offset="0.32" stop-color="#757575"/><stop offset="0.337" stop-color="#707070"/><stop offset="0.362" stop-color="#6b6b6b"/><stop offset="0.406" stop-color="#656565"/><stop offset="0.481" stop-color="#616161"/><stop offset="0.55" stop-color="#616161"/><stop offset="0.616" stop-color="#636363"/><stop offset="0.652" stop-color="#686868"/><stop offset="0.693" stop-color="#717171"/><stop offset="0.738" stop-color="#7e7e7e"/><stop offset="0.79" stop-color="#909090"/><stop offset="0.807" stop-color="#939393"/><stop offset="0.818" stop-color="#919191"/><stop offset="0.831" stop-color="#8d8d8d"/><stop offset="0.892" stop-color="#707070"/><stop offset="0.92" stop-color="#666666"/><stop offset="0.961" stop-color="#5c5c5c"/><stop offset="1" stop-color="#595959"/></linearGradient><linearGradient id="h51"><stop offset="0" stop-color="#888888"/><stop offset="0.025" stop-color="#8c8c8c"/><stop offset="0.039" stop-color="#909090"/><stop offset="0.055" stop-color="#969696"/><stop offset="0.075" stop-color="#a0a0a0"/><stop offset="0.094" stop-color="#acacac"/><stop offset="0.11" stop-color="#b8b8b8"/><stop offset="0.122" stop-color="#c2c2c2"/><stop offset="0.144" stop-color="#d8d8d8"/><stop offset="0.152" stop-color="#dfdfdf"/><stop offset="0.163" stop-color="#e6e6e6"/><stop offset="0.171" stop-color="#e8e8e8"/><stop offset="0.182" stop-color="#e5e5e5"/><stop offset="0.193" stop-color="#dddddd"/><stop offset="0.246" stop-color="#a9a9a9"/><stop offset="0.273" stop-color="#919191"/><stop offset="0.29" stop-color="#848484"/><stop offset="0.307" stop-color="#7b7b7b"/><stop offset="0.323" stop-color="#747474"/><stop offset="0.343" stop-color="#6e6e6e"/><stop offset="0.365" stop-color="#6a6a6a"/><stop offset="0.409" stop-color="#656565"/><stop offset="0.481" stop-color="#606060"/><stop offset="0.55" stop-color="#606060"/><stop offset="0.616" stop-color="#636363"/><stop offset="0.652" stop-color="#686868"/><stop offset="0.693" stop-color="#717171"/><stop offset="0.735" stop-color="#7d7d7d"/><stop offset="0.787" stop-color="#8f8f8f"/><stop offset="0.804" stop-color="#919191"/><stop offset="0.815" stop-color="#909090"/><stop offset="0.829" stop-color="#8b8b8b"/><stop offset="0.887" stop-color="#707070"/><stop offset="0.917" stop-color="#656565"/><stop offset="0.959" stop-color="#5b5b5b"/><stop offset="1" stop-color="#585858"/></linearGradient><linearGradient id="h52"><stop offset="0" stop-color="#888888"/><stop offset="0.039" stop-color="#8f8f8f"/><stop offset="0.055" stop-color="#959595"/><stop offset="0.075" stop-color="#9f9f9f"/><stop offset="0.094" stop-color="#aaaaaa"/><stop offset="0.113" stop-color="#b7b7b7"/><stop offset="0.127" stop-color="#c3c3c3"/><stop offset="0.146" stop-color="#d6d6d6"/><stop offset="0.157" stop-color="#dfdfdf"/><stop offset="0.166" stop-color="#e3e3e3"/><stop offset="0.174" stop-color="#e5e5e5"/><stop offset="0.185" stop-color="#e2e2e2"/><stop offset="0.196" stop-color="#dadada"/><stop offset="0.251" stop-color="#a5a5a5"/><stop offset="0.276" stop-color="#8f8f8f"/><stop offset="0.293" stop-color="#828282"/><stop offset="0.309" stop-color="#797979"/><stop offset="0.326" stop-color="#737373"/><stop offset="0.367" stop-color="#696969"/><stop offset="0.414" stop-color="#646464"/><stop offset="0.483" stop-color="#606060"/><stop offset="0.555" stop-color="#606060"/><stop offset="0.616" stop-color="#626262"/><stop offset="0.649" stop-color="#676767"/><stop offset="0.691" stop-color="#707070"/><stop offset="0.732" stop-color="#7c7c7c"/><stop offset="0.785" stop-color="#8e8e8e"/><stop offset="0.801" stop-color="#909090"/><stop offset="0.812" stop-color="#8f8f8f"/><stop offset="0.826" stop-color="#8a8a8a"/><stop offset="0.884" stop-color="#6f6f6f"/><stop offset="0.914" stop-color="#656565"/><stop offset="0.956" stop-color="#5b5b5b"/><stop offset="1" stop-color="#575757"/></linearGradient><linearGradient id="h53"><stop offset="0" stop-color="#888888"/><stop offset="0.041" stop-color="#909090"/><stop offset="0.058" stop-color="#969696"/><stop offset="0.075" stop-color="#9d9d9d"/><stop offset="0.097" stop-color="#aaaaaa"/><stop offset="0.116" stop-color="#b6b6b6"/><stop offset="0.127" stop-color="#bfbfbf"/><stop offset="0.149" stop-color="#d3d3d3"/><stop offset="0.16" stop-color="#dcdcdc"/><stop offset="0.169" stop-color="#e0e0e0"/><stop offset="0.177" stop-color="#e2e2e2"/><stop offset="0.188" stop-color="#dfdfdf"/><stop offset="0.199" stop-color="#d7d7d7"/><stop offset="0.257" stop-color="#a0a0a0"/><stop offset="0.282" stop-color="#8b8b8b"/><stop offset="0.296" stop-color="#818181"/><stop offset="0.312" stop-color="#787878"/><stop offset="0.329" stop-color="#727272"/><stop offset="0.37" stop-color="#686868"/><stop offset="0.417" stop-color="#636363"/><stop offset="0.483" stop-color="#5f5f5f"/><stop offset="0.555" stop-color="#5f5f5f"/><stop offset="0.616" stop-color="#626262"/><stop offset="0.649" stop-color="#676767"/><stop offset="0.688" stop-color="#6f6f6f"/><stop offset="0.729" stop-color="#7b7b7b"/><stop offset="0.779" stop-color="#8c8c8c"/><stop offset="0.798" stop-color="#8f8f8f"/><stop offset="0.809" stop-color="#8e8e8e"/><stop offset="0.823" stop-color="#898989"/><stop offset="0.881" stop-color="#6e6e6e"/><stop offset="0.912" stop-color="#646464"/><stop offset="0.953" stop-color="#5a5a5a"/><stop offset="1" stop-color="#565656"/></linearGradient><linearGradient id="h54"><stop offset="0" stop-color="#878787"/><stop offset="0.044" stop-color="#909090"/><stop offset="0.075" stop-color="#9c9c9c"/><stop offset="0.097" stop-color="#a8a8a8"/><stop offset="0.119" stop-color="#b6b6b6"/><stop offset="0.13" stop-color="#bebebe"/><stop offset="0.152" stop-color="#d1d1d1"/><stop offset="0.163" stop-color="#d9d9d9"/><stop offset="0.171" stop-color="#dddddd"/><stop offset="0.18" stop-color="#dedede"/><stop offset="0.191" stop-color="#dcdcdc"/><stop offset="0.202" stop-color="#d4d4d4"/><stop offset="0.24" stop-color="#b0b0b0"/><stop offset="0.271" stop-color="#959595"/><stop offset="0.287" stop-color="#878787"/><stop offset="0.298" stop-color="#808080"/><stop offset="0.315" stop-color="#777777"/><stop offset="0.331" stop-color="#717171"/><stop offset="0.373" stop-color="#676767"/><stop offset="0.42" stop-color="#626262"/><stop offset="0.483" stop-color="#5f5f5f"/><stop offset="0.55" stop-color="#5f5f5f"/><stop offset="0.613" stop-color="#616161"/><stop offset="0.644" stop-color="#656565"/><stop offset="0.685" stop-color="#6e6e6e"/><stop offset="0.727" stop-color="#7a7a7a"/><stop offset="0.776" stop-color="#8b8b8b"/><stop offset="0.796" stop-color="#8e8e8e"/><stop offset="0.807" stop-color="#8c8c8c"/><stop offset="0.82" stop-color="#888888"/><stop offset="0.878" stop-color="#6e6e6e"/><stop offset="0.909" stop-color="#636363"/><stop offset="0.953" stop-color="#595959"/><stop offset="1" stop-color="#555555"/></linearGradient><linearGradient id="h55"><stop offset="0" stop-color="#878787"/><stop offset="0.047" stop-color="#919191"/><stop offset="0.077" stop-color="#9c9c9c"/><stop offset="0.099" stop-color="#a8a8a8"/><stop offset="0.122" stop-color="#b5b5b5"/><stop offset="0.163" stop-color="#d4d4d4"/><stop offset="0.174" stop-color="#dadada"/><stop offset="0.182" stop-color="#dbdbdb"/><stop offset="0.193" stop-color="#d8d8d8"/><stop offset="0.204" stop-color="#d1d1d1"/><stop offset="0.273" stop-color="#939393"/><stop offset="0.287" stop-color="#878787"/><stop offset="0.298" stop-color="#808080"/><stop offset="0.315" stop-color="#777777"/><stop offset="0.331" stop-color="#717171"/><stop offset="0.351" stop-color="#6b6b6b"/><stop offset="0.376" stop-color="#666666"/><stop offset="0.423" stop-color="#616161"/><stop offset="0.483" stop-color="#5e5e5e"/><stop offset="0.552" stop-color="#5e5e5e"/><stop offset="0.613" stop-color="#616161"/><stop offset="0.644" stop-color="#656565"/><stop offset="0.685" stop-color="#6e6e6e"/><stop offset="0.724" stop-color="#797979"/><stop offset="0.773" stop-color="#898989"/><stop offset="0.793" stop-color="#8d8d8d"/><stop offset="0.804" stop-color="#8b8b8b"/><stop offset="0.818" stop-color="#878787"/><stop offset="0.876" stop-color="#6d6d6d"/><stop offset="0.906" stop-color="#636363"/><stop offset="0.95" stop-color="#595959"/><stop offset="1" stop-color="#545454"/></linearGradient><linearGradient id="h56"><stop offset="0" stop-color="#868686"/><stop offset="0.05" stop-color="#919191"/><stop offset="0.077" stop-color="#9b9b9b"/><stop offset="0.099" stop-color="#a6a6a6"/><stop offset="0.122" stop-color="#b3b3b3"/><stop offset="0.166" stop-color="#d2d2d2"/><stop offset="0.177" stop-color="#d7d7d7"/><stop offset="0.185" stop-color="#d8d8d8"/><stop offset="0.196" stop-color="#d5d5d5"/><stop offset="0.207" stop-color="#cecece"/><stop offset="0.279" stop-color="#8f8f8f"/><stop offset="0.301" stop-color="#7e7e7e"/><stop offset="0.318" stop-color="#767676"/><stop offset="0.334" stop-color="#707070"/><stop offset="0.376" stop-color="#666666"/><stop offset="0.42" stop-color="#616161"/><stop offset="0.483" stop-color="#5e5e5e"/><stop offset="0.552" stop-color="#5e5e5e"/><stop offset="0.613" stop-color="#606060"/><stop offset="0.641" stop-color="#646464"/><stop offset="0.68" stop-color="#6c6c6c"/><stop offset="0.715" stop-color="#767676"/><stop offset="0.773" stop-color="#898989"/><stop offset="0.793" stop-color="#8b8b8b"/><stop offset="0.804" stop-color="#8a8a8a"/><stop offset="0.818" stop-color="#858585"/><stop offset="0.873" stop-color="#6c6c6c"/><stop offset="0.903" stop-color="#626262"/><stop offset="0.948" stop-color="#585858"/><stop offset="1" stop-color="#535353"/></linearGradient><linearGradient id="h57"><stop offset="0" stop-color="#858585"/><stop offset="0.05" stop-color="#919191"/><stop offset="0.077" stop-color="#9a9a9a"/><stop offset="0.099" stop-color="#a5a5a5"/><stop offset="0.124" stop-color="#b2b2b2"/><stop offset="0.169" stop-color="#cfcfcf"/><stop offset="0.18" stop-color="#d3d3d3"/><stop offset="0.188" stop-color="#d4d4d4"/><stop offset="0.199" stop-color="#d2d2d2"/><stop offset="0.21" stop-color="#cbcbcb"/><stop offset="0.285" stop-color="#8b8b8b"/><stop offset="0.304" stop-color="#7d7d7d"/><stop offset="0.32" stop-color="#757575"/><stop offset="0.337" stop-color="#6f6f6f"/><stop offset="0.378" stop-color="#656565"/><stop offset="0.425" stop-color="#606060"/><stop offset="0.486" stop-color="#5d5d5d"/><stop offset="0.555" stop-color="#5d5d5d"/><stop offset="0.613" stop-color="#606060"/><stop offset="0.641" stop-color="#646464"/><stop offset="0.677" stop-color="#6c6c6c"/><stop offset="0.71" stop-color="#747474"/><stop offset="0.771" stop-color="#888888"/><stop offset="0.79" stop-color="#8a8a8a"/><stop offset="0.801" stop-color="#888888"/><stop offset="0.815" stop-color="#848484"/><stop offset="0.87" stop-color="#6b6b6b"/><stop offset="0.901" stop-color="#616161"/><stop offset="0.945" stop-color="#585858"/><stop offset="1" stop-color="#515151"/></linearGradient><linearGradient id="h58"><stop offset="0" stop-color="#848484"/><stop offset="0.055" stop-color="#929292"/><stop offset="0.08" stop-color="#9b9b9b"/><stop offset="0.124" stop-color="#b0b0b0"/><stop offset="0.171" stop-color="#cccccc"/><stop offset="0.182" stop-color="#d0d0d0"/><stop offset="0.191" stop-color="#d1d1d1"/><stop offset="0.202" stop-color="#cecece"/><stop offset="0.213" stop-color="#c8c8c8"/><stop offset="0.287" stop-color="#898989"/><stop offset="0.307" stop-color="#7b7b7b"/><stop offset="0.323" stop-color="#737373"/><stop offset="0.34" stop-color="#6e6e6e"/><stop offset="0.381" stop-color="#646464"/><stop offset="0.428" stop-color="#5f5f5f"/><stop offset="0.486" stop-color="#5d5d5d"/><stop offset="0.552" stop-color="#5d5d5d"/><stop offset="0.61" stop-color="#5f5f5f"/><stop offset="0.635" stop-color="#636363"/><stop offset="0.671" stop-color="#6a6a6a"/><stop offset="0.704" stop-color="#737373"/><stop offset="0.765" stop-color="#868686"/><stop offset="0.776" stop-color="#888888"/><stop offset="0.787" stop-color="#898989"/><stop offset="0.798" stop-color="#878787"/><stop offset="0.812" stop-color="#838383"/><stop offset="0.867" stop-color="#6a6a6a"/><stop offset="0.898" stop-color="#616161"/><stop offset="0.942" stop-color="#575757"/><stop offset="1" stop-color="#505050"/></linearGradient><linearGradient id="h59"><stop offset="0" stop-color="#838383"/><stop offset="0.055" stop-color="#929292"/><stop offset="0.08" stop-color="#9a9a9a"/><stop offset="0.122" stop-color="#adadad"/><stop offset="0.171" stop-color="#c8c8c8"/><stop offset="0.182" stop-color="#cccccc"/><stop offset="0.193" stop-color="#cecece"/><stop offset="0.204" stop-color="#cbcbcb"/><stop offset="0.215" stop-color="#c5c5c5"/><stop offset="0.29" stop-color="#878787"/><stop offset="0.309" stop-color="#7a7a7a"/><stop offset="0.326" stop-color="#727272"/><stop offset="0.343" stop-color="#6c6c6c"/><stop offset="0.384" stop-color="#636363"/><stop offset="0.431" stop-color="#5f5f5f"/><stop offset="0.486" stop-color="#5c5c5c"/><stop offset="0.552" stop-color="#5c5c5c"/><stop offset="0.61" stop-color="#5f5f5f"/><stop offset="0.635" stop-color="#626262"/><stop offset="0.669" stop-color="#696969"/><stop offset="0.702" stop-color="#727272"/><stop offset="0.762" stop-color="#858585"/><stop offset="0.773" stop-color="#878787"/><stop offset="0.785" stop-color="#888888"/><stop offset="0.796" stop-color="#868686"/><stop offset="0.809" stop-color="#828282"/><stop offset="0.862" stop-color="#6a6a6a"/><stop offset="0.895" stop-color="#606060"/><stop offset="0.942" stop-color="#565656"/><stop offset="1" stop-color="#4f4f4f"/></linearGradient><linearGradient id="h60"><stop offset="0" stop-color="#828282"/><stop offset="0.061" stop-color="#939393"/><stop offset="0.083" stop-color="#9a9a9a"/><stop offset="0.113" stop-color="#a7a7a7"/><stop offset="0.174" stop-color="#c5c5c5"/><stop offset="0.185" stop-color="#c9c9c9"/><stop offset="0.196" stop-color="#cacaca"/><stop offset="0.207" stop-color="#c8c8c8"/><stop offset="0.221" stop-color="#c0c0c0"/><stop offset="0.293" stop-color="#858585"/><stop offset="0.309" stop-color="#7a7a7a"/><stop offset="0.326" stop-color="#727272"/><stop offset="0.343" stop-color="#6c6c6c"/><stop offset="0.384" stop-color="#636363"/><stop offset="0.431" stop-color="#5e5e5e"/><stop offset="0.486" stop-color="#5c5c5c"/><stop offset="0.552" stop-color="#5c5c5c"/><stop offset="0.61" stop-color="#5e5e5e"/><stop offset="0.635" stop-color="#626262"/><stop offset="0.666" stop-color="#686868"/><stop offset="0.699" stop-color="#717171"/><stop offset="0.76" stop-color="#848484"/><stop offset="0.771" stop-color="#868686"/><stop offset="0.782" stop-color="#868686"/><stop offset="0.793" stop-color="#858585"/><stop offset="0.807" stop-color="#818181"/><stop offset="0.859" stop-color="#6a6a6a"/><stop offset="0.892" stop-color="#5f5f5f"/><stop offset="0.939" stop-color="#555555"/><stop offset="1" stop-color="#4e4e4e"/></linearGradient><linearGradient id="h61"><stop offset="0" stop-color="#818181"/><stop offset="0.083" stop-color="#999999"/><stop offset="0.108" stop-color="#a3a3a3"/><stop offset="0.174" stop-color="#c2c2c2"/><stop offset="0.188" stop-color="#c6c6c6"/><stop offset="0.199" stop-color="#c7c7c7"/><stop offset="0.21" stop-color="#c5c5c5"/><stop offset="0.224" stop-color="#bdbdbd"/><stop offset="0.257" stop-color="#a4a4a4"/><stop offset="0.296" stop-color="#848484"/><stop offset="0.312" stop-color="#797979"/><stop offset="0.329" stop-color="#717171"/><stop offset="0.345" stop-color="#6b6b6b"/><stop offset="0.387" stop-color="#626262"/><stop offset="0.434" stop-color="#5e5e5e"/><stop offset="0.486" stop-color="#5b5b5b"/><stop offset="0.552" stop-color="#5c5c5c"/><stop offset="0.61" stop-color="#5e5e5e"/><stop offset="0.633" stop-color="#616161"/><stop offset="0.66" stop-color="#676767"/><stop offset="0.693" stop-color="#6f6f6f"/><stop offset="0.757" stop-color="#828282"/><stop offset="0.768" stop-color="#858585"/><stop offset="0.779" stop-color="#858585"/><stop offset="0.79" stop-color="#848484"/><stop offset="0.804" stop-color="#808080"/><stop offset="0.856" stop-color="#696969"/><stop offset="0.89" stop-color="#5f5f5f"/><stop offset="0.939" stop-color="#545454"/><stop offset="1" stop-color="#4d4d4d"/></linearGradient><linearGradient id="h62"><stop offset="0" stop-color="#808080"/><stop offset="0.017" stop-color="#848484"/><stop offset="0.091" stop-color="#9b9b9b"/><stop offset="0.18" stop-color="#c0c0c0"/><stop offset="0.191" stop-color="#c3c3c3"/><stop offset="0.202" stop-color="#c4c4c4"/><stop offset="0.213" stop-color="#c2c2c2"/><stop offset="0.227" stop-color="#bbbbbb"/><stop offset="0.26" stop-color="#a2a2a2"/><stop offset="0.298" stop-color="#828282"/><stop offset="0.315" stop-color="#787878"/><stop offset="0.329" stop-color="#717171"/><stop offset="0.345" stop-color="#6b6b6b"/><stop offset="0.387" stop-color="#626262"/><stop offset="0.431" stop-color="#5d5d5d"/><stop offset="0.486" stop-color="#5b5b5b"/><stop offset="0.55" stop-color="#5b5b5b"/><stop offset="0.608" stop-color="#5d5d5d"/><stop offset="0.63" stop-color="#606060"/><stop offset="0.655" stop-color="#656565"/><stop offset="0.691" stop-color="#6e6e6e"/><stop offset="0.754" stop-color="#818181"/><stop offset="0.765" stop-color="#848484"/><stop offset="0.776" stop-color="#848484"/><stop offset="0.787" stop-color="#838383"/><stop offset="0.801" stop-color="#7f7f7f"/><stop offset="0.854" stop-color="#686868"/><stop offset="0.887" stop-color="#5e5e5e"/><stop offset="0.942" stop-color="#535353"/><stop offset="1" stop-color="#4c4c4c"/></linearGradient><linearGradient id="h63"><stop offset="0" stop-color="#7e7e7e"/><stop offset="0.017" stop-color="#828282"/><stop offset="0.094" stop-color="#9b9b9b"/><stop offset="0.18" stop-color="#bdbdbd"/><stop offset="0.193" stop-color="#c0c0c0"/><stop offset="0.204" stop-color="#c1c1c1"/><stop offset="0.215" stop-color="#bfbfbf"/><stop offset="0.229" stop-color="#b8b8b8"/><stop offset="0.262" stop-color="#a0a0a0"/><stop offset="0.298" stop-color="#838383"/><stop offset="0.318" stop-color="#767676"/><stop offset="0.348" stop-color="#6a6a6a"/><stop offset="0.39" stop-color="#616161"/><stop offset="0.436" stop-color="#5c5c5c"/><stop offset="0.486" stop-color="#5a5a5a"/><stop offset="0.55" stop-color="#5a5a5a"/><stop offset="0.608" stop-color="#5d5d5d"/><stop offset="0.627" stop-color="#5f5f5f"/><stop offset="0.652" stop-color="#646464"/><stop offset="0.688" stop-color="#6d6d6d"/><stop offset="0.751" stop-color="#808080"/><stop offset="0.762" stop-color="#838383"/><stop offset="0.773" stop-color="#838383"/><stop offset="0.785" stop-color="#828282"/><stop offset="0.798" stop-color="#7e7e7e"/><stop offset="0.851" stop-color="#676767"/><stop offset="0.884" stop-color="#5d5d5d"/><stop offset="0.945" stop-color="#515151"/><stop offset="1" stop-color="#4b4b4b"/></linearGradient><linearGradient id="h64"><stop offset="0" stop-color="#7d7d7d"/><stop offset="0.019" stop-color="#818181"/><stop offset="0.094" stop-color="#999999"/><stop offset="0.18" stop-color="#bababa"/><stop offset="0.196" stop-color="#bebebe"/><stop offset="0.207" stop-color="#bfbfbf"/><stop offset="0.218" stop-color="#bdbdbd"/><stop offset="0.232" stop-color="#b6b6b6"/><stop offset="0.265" stop-color="#9e9e9e"/><stop offset="0.301" stop-color="#818181"/><stop offset="0.318" stop-color="#777777"/><stop offset="0.334" stop-color="#6f6f6f"/><stop offset="0.351" stop-color="#696969"/><stop offset="0.392" stop-color="#606060"/><stop offset="0.439" stop-color="#5c5c5c"/><stop offset="0.486" stop-color="#5a5a5a"/><stop offset="0.55" stop-color="#5a5a5a"/><stop offset="0.608" stop-color="#5c5c5c"/><stop offset="0.649" stop-color="#636363"/><stop offset="0.685" stop-color="#6c6c6c"/><stop offset="0.749" stop-color="#7f7f7f"/><stop offset="0.76" stop-color="#828282"/><stop offset="0.771" stop-color="#828282"/><stop offset="0.782" stop-color="#818181"/><stop offset="0.796" stop-color="#7d7d7d"/><stop offset="0.848" stop-color="#676767"/><stop offset="0.881" stop-color="#5d5d5d"/><stop offset="0.945" stop-color="#505050"/><stop offset="0.978" stop-color="#4c4c4c"/><stop offset="1" stop-color="#4a4a4a"/></linearGradient><linearGradient id="h65"><stop offset="0" stop-color="#7b7b7b"/><stop offset="0.022" stop-color="#7f7f7f"/><stop offset="0.094" stop-color="#969696"/><stop offset="0.182" stop-color="#b7b7b7"/><stop offset="0.199" stop-color="#bcbcbc"/><stop offset="0.21" stop-color="#bcbcbc"/><stop offset="0.221" stop-color="#bababa"/><stop offset="0.235" stop-color="#b3b3b3"/><stop offset="0.265" stop-color="#9e9e9e"/><stop offset="0.304" stop-color="#808080"/><stop offset="0.32" stop-color="#767676"/><stop offset="0.337" stop-color="#6e6e6e"/><stop offset="0.354" stop-color="#696969"/><stop offset="0.392" stop-color="#606060"/><stop offset="0.439" stop-color="#5b5b5b"/><stop offset="0.486" stop-color="#595959"/><stop offset="0.55" stop-color="#595959"/><stop offset="0.608" stop-color="#5c5c5c"/><stop offset="0.649" stop-color="#636363"/><stop offset="0.685" stop-color="#6c6c6c"/><stop offset="0.746" stop-color="#7e7e7e"/><stop offset="0.768" stop-color="#818181"/><stop offset="0.779" stop-color="#808080"/><stop offset="0.793" stop-color="#7c7c7c"/><stop offset="0.845" stop-color="#666666"/><stop offset="0.881" stop-color="#5c5c5c"/><stop offset="0.948" stop-color="#4f4f4f"/><stop offset="0.978" stop-color="#4b4b4b"/><stop offset="1" stop-color="#494949"/></linearGradient><linearGradient id="h66"><stop offset="0" stop-color="#7a7a7a"/><stop offset="0.025" stop-color="#7e7e7e"/><stop offset="0.097" stop-color="#949494"/><stop offset="0.185" stop-color="#b5b5b5"/><stop offset="0.202" stop-color="#bababa"/><stop offset="0.213" stop-color="#bababa"/><stop offset="0.224" stop-color="#b8b8b8"/><stop offset="0.238" stop-color="#b1b1b1"/><stop offset="0.268" stop-color="#9c9c9c"/><stop offset="0.304" stop-color="#808080"/><stop offset="0.323" stop-color="#757575"/><stop offset="0.34" stop-color="#6d6d6d"/><stop offset="0.356" stop-color="#686868"/><stop offset="0.395" stop-color="#5f5f5f"/><stop offset="0.442" stop-color="#5b5b5b"/><stop offset="0.489" stop-color="#585858"/><stop offset="0.552" stop-color="#595959"/><stop offset="0.608" stop-color="#5b5b5b"/><stop offset="0.633" stop-color="#5f5f5f"/><stop offset="0.663" stop-color="#666666"/><stop offset="0.749" stop-color="#7f7f7f"/><stop offset="0.768" stop-color="#818181"/><stop offset="0.79" stop-color="#7c7c7c"/><stop offset="0.845" stop-color="#656565"/><stop offset="0.881" stop-color="#5b5b5b"/><stop offset="0.95" stop-color="#4e4e4e"/><stop offset="0.978" stop-color="#4a4a4a"/><stop offset="1" stop-color="#494949"/></linearGradient><linearGradient id="h67"><stop offset="0" stop-color="#787878"/><stop offset="0.017" stop-color="#7a7a7a"/><stop offset="0.033" stop-color="#7e7e7e"/><stop offset="0.11" stop-color="#969696"/><stop offset="0.185" stop-color="#b3b3b3"/><stop offset="0.202" stop-color="#b7b7b7"/><stop offset="0.215" stop-color="#b8b8b8"/><stop offset="0.227" stop-color="#b6b6b6"/><stop offset="0.24" stop-color="#afafaf"/><stop offset="0.271" stop-color="#9a9a9a"/><stop offset="0.307" stop-color="#7f7f7f"/><stop offset="0.326" stop-color="#747474"/><stop offset="0.359" stop-color="#676767"/><stop offset="0.398" stop-color="#5f5f5f"/><stop offset="0.445" stop-color="#5a5a5a"/><stop offset="0.489" stop-color="#585858"/><stop offset="0.552" stop-color="#585858"/><stop offset="0.608" stop-color="#5b5b5b"/><stop offset="0.63" stop-color="#5e5e5e"/><stop offset="0.66" stop-color="#656565"/><stop offset="0.746" stop-color="#7e7e7e"/><stop offset="0.765" stop-color="#808080"/><stop offset="0.776" stop-color="#7e7e7e"/><stop offset="0.787" stop-color="#7b7b7b"/><stop offset="0.843" stop-color="#656565"/><stop offset="0.881" stop-color="#5a5a5a"/><stop offset="0.953" stop-color="#4c4c4c"/><stop offset="0.978" stop-color="#494949"/><stop offset="1" stop-color="#484848"/></linearGradient><linearGradient id="h68"><stop offset="0" stop-color="#767676"/><stop offset="0.019" stop-color="#787878"/><stop offset="0.036" stop-color="#7c7c7c"/><stop offset="0.113" stop-color="#949494"/><stop offset="0.188" stop-color="#b1b1b1"/><stop offset="0.204" stop-color="#b5b5b5"/><stop offset="0.218" stop-color="#b6b6b6"/><stop offset="0.229" stop-color="#b4b4b4"/><stop offset="0.243" stop-color="#adadad"/><stop offset="0.273" stop-color="#989898"/><stop offset="0.309" stop-color="#7e7e7e"/><stop offset="0.326" stop-color="#747474"/><stop offset="0.343" stop-color="#6d6d6d"/><stop offset="0.362" stop-color="#666666"/><stop offset="0.401" stop-color="#5e5e5e"/><stop offset="0.448" stop-color="#595959"/><stop offset="0.489" stop-color="#575757"/><stop offset="0.55" stop-color="#585858"/><stop offset="0.605" stop-color="#5a5a5a"/><stop offset="0.644" stop-color="#606060"/><stop offset="0.68" stop-color="#6a6a6a"/><stop offset="0.74" stop-color="#7c7c7c"/><stop offset="0.751" stop-color="#7f7f7f"/><stop offset="0.762" stop-color="#7f7f7f"/><stop offset="0.773" stop-color="#7e7e7e"/><stop offset="0.785" stop-color="#7b7b7b"/><stop offset="0.84" stop-color="#646464"/><stop offset="0.878" stop-color="#595959"/><stop offset="0.95" stop-color="#4c4c4c"/><stop offset="0.975" stop-color="#494949"/><stop offset="1" stop-color="#484848"/></linearGradient><linearGradient id="h69"><stop offset="0" stop-color="#747474"/><stop offset="0.022" stop-color="#767676"/><stop offset="0.041" stop-color="#7b7b7b"/><stop offset="0.116" stop-color="#929292"/><stop offset="0.191" stop-color="#afafaf"/><stop offset="0.207" stop-color="#b3b3b3"/><stop offset="0.218" stop-color="#b4b4b4"/><stop offset="0.229" stop-color="#b2b2b2"/><stop offset="0.243" stop-color="#acacac"/><stop offset="0.273" stop-color="#989898"/><stop offset="0.309" stop-color="#7e7e7e"/><stop offset="0.329" stop-color="#737373"/><stop offset="0.345" stop-color="#6c6c6c"/><stop offset="0.365" stop-color="#666666"/><stop offset="0.403" stop-color="#5e5e5e"/><stop offset="0.448" stop-color="#595959"/><stop offset="0.489" stop-color="#575757"/><stop offset="0.55" stop-color="#575757"/><stop offset="0.605" stop-color="#595959"/><stop offset="0.644" stop-color="#606060"/><stop offset="0.677" stop-color="#696969"/><stop offset="0.738" stop-color="#7b7b7b"/><stop offset="0.749" stop-color="#7e7e7e"/><stop offset="0.76" stop-color="#7e7e7e"/><stop offset="0.771" stop-color="#7d7d7d"/><stop offset="0.782" stop-color="#7a7a7a"/><stop offset="0.837" stop-color="#646464"/><stop offset="0.878" stop-color="#585858"/><stop offset="0.95" stop-color="#4b4b4b"/><stop offset="0.975" stop-color="#484848"/><stop offset="1" stop-color="#474747"/></linearGradient><linearGradient id="h70"><stop offset="0" stop-color="#737373"/><stop offset="0.025" stop-color="#757575"/><stop offset="0.044" stop-color="#797979"/><stop offset="0.119" stop-color="#909090"/><stop offset="0.193" stop-color="#adadad"/><stop offset="0.21" stop-color="#b1b1b1"/><stop offset="0.221" stop-color="#b2b2b2"/><stop offset="0.232" stop-color="#b0b0b0"/><stop offset="0.246" stop-color="#aaaaaa"/><stop offset="0.276" stop-color="#969696"/><stop offset="0.312" stop-color="#7d7d7d"/><stop offset="0.331" stop-color="#727272"/><stop offset="0.367" stop-color="#656565"/><stop offset="0.406" stop-color="#5d5d5d"/><stop offset="0.453" stop-color="#585858"/><stop offset="0.492" stop-color="#565656"/><stop offset="0.552" stop-color="#575757"/><stop offset="0.605" stop-color="#595959"/><stop offset="0.627" stop-color="#5c5c5c"/><stop offset="0.652" stop-color="#626262"/><stop offset="0.738" stop-color="#7b7b7b"/><stop offset="0.749" stop-color="#7d7d7d"/><stop offset="0.76" stop-color="#7e7e7e"/><stop offset="0.779" stop-color="#7a7a7a"/><stop offset="0.834" stop-color="#636363"/><stop offset="0.878" stop-color="#575757"/><stop offset="0.95" stop-color="#4a4a4a"/><stop offset="1" stop-color="#474747"/></linearGradient><linearGradient id="h71"><stop offset="0" stop-color="#717171"/><stop offset="0.028" stop-color="#737373"/><stop offset="0.047" stop-color="#777777"/><stop offset="0.122" stop-color="#8e8e8e"/><stop offset="0.196" stop-color="#ababab"/><stop offset="0.213" stop-color="#afafaf"/><stop offset="0.224" stop-color="#b0b0b0"/><stop offset="0.235" stop-color="#aeaeae"/><stop offset="0.249" stop-color="#a8a8a8"/><stop offset="0.279" stop-color="#949494"/><stop offset="0.315" stop-color="#7c7c7c"/><stop offset="0.334" stop-color="#717171"/><stop offset="0.37" stop-color="#646464"/><stop offset="0.409" stop-color="#5c5c5c"/><stop offset="0.453" stop-color="#585858"/><stop offset="0.492" stop-color="#565656"/><stop offset="0.552" stop-color="#565656"/><stop offset="0.605" stop-color="#585858"/><stop offset="0.624" stop-color="#5b5b5b"/><stop offset="0.649" stop-color="#616161"/><stop offset="0.738" stop-color="#7b7b7b"/><stop offset="0.757" stop-color="#7d7d7d"/><stop offset="0.776" stop-color="#797979"/><stop offset="0.834" stop-color="#626262"/><stop offset="0.878" stop-color="#565656"/><stop offset="0.95" stop-color="#4a4a4a"/><stop offset="1" stop-color="#464646"/></linearGradient><linearGradient id="h72"><stop offset="0" stop-color="#6f6f6f"/><stop offset="0.03" stop-color="#717171"/><stop offset="0.052" stop-color="#767676"/><stop offset="0.127" stop-color="#8d8d8d"/><stop offset="0.199" stop-color="#a9a9a9"/><stop offset="0.215" stop-color="#adadad"/><stop offset="0.227" stop-color="#aeaeae"/><stop offset="0.238" stop-color="#acacac"/><stop offset="0.251" stop-color="#a5a5a5"/><stop offset="0.282" stop-color="#939393"/><stop offset="0.315" stop-color="#7c7c7c"/><stop offset="0.337" stop-color="#707070"/><stop offset="0.373" stop-color="#646464"/><stop offset="0.412" stop-color="#5c5c5c"/><stop offset="0.456" stop-color="#575757"/><stop offset="0.492" stop-color="#555555"/><stop offset="0.552" stop-color="#565656"/><stop offset="0.605" stop-color="#585858"/><stop offset="0.624" stop-color="#5b5b5b"/><stop offset="0.646" stop-color="#606060"/><stop offset="0.735" stop-color="#7a7a7a"/><stop offset="0.754" stop-color="#7c7c7c"/><stop offset="0.773" stop-color="#787878"/><stop offset="0.831" stop-color="#626262"/><stop offset="0.876" stop-color="#565656"/><stop offset="0.948" stop-color="#494949"/><stop offset="1" stop-color="#454545"/></linearGradient><linearGradient id="h73"><stop offset="0" stop-color="#6d6d6d"/><stop offset="0.033" stop-color="#707070"/><stop offset="0.055" stop-color="#747474"/><stop offset="0.13" stop-color="#8b8b8b"/><stop offset="0.202" stop-color="#a7a7a7"/><stop offset="0.218" stop-color="#ababab"/><stop offset="0.229" stop-color="#acacac"/><stop offset="0.24" stop-color="#aaaaaa"/><stop offset="0.254" stop-color="#a3a3a3"/><stop offset="0.282" stop-color="#939393"/><stop offset="0.318" stop-color="#7b7b7b"/><stop offset="0.34" stop-color="#6f6f6f"/><stop offset="0.359" stop-color="#686868"/><stop offset="0.378" stop-color="#626262"/><stop offset="0.417" stop-color="#5b5b5b"/><stop offset="0.459" stop-color="#565656"/><stop offset="0.494" stop-color="#545454"/><stop offset="0.555" stop-color="#555555"/><stop offset="0.605" stop-color="#575757"/><stop offset="0.638" stop-color="#5d5d5d"/><stop offset="0.729" stop-color="#787878"/><stop offset="0.74" stop-color="#7b7b7b"/><stop offset="0.751" stop-color="#7b7b7b"/><stop offset="0.771" stop-color="#787878"/><stop offset="0.829" stop-color="#616161"/><stop offset="0.876" stop-color="#545454"/><stop offset="0.948" stop-color="#484848"/><stop offset="1" stop-color="#454545"/></linearGradient><linearGradient id="h74"><stop offset="0" stop-color="#6b6b6b"/><stop offset="0.036" stop-color="#6e6e6e"/><stop offset="0.061" stop-color="#737373"/><stop offset="0.133" stop-color="#898989"/><stop offset="0.204" stop-color="#a5a5a5"/><stop offset="0.221" stop-color="#a9a9a9"/><stop offset="0.232" stop-color="#aaaaaa"/><stop offset="0.243" stop-color="#a7a7a7"/><stop offset="0.254" stop-color="#a3a3a3"/><stop offset="0.282" stop-color="#929292"/><stop offset="0.32" stop-color="#7a7a7a"/><stop offset="0.345" stop-color="#6d6d6d"/><stop offset="0.381" stop-color="#616161"/><stop offset="0.423" stop-color="#5a5a5a"/><stop offset="0.461" stop-color="#565656"/><stop offset="0.494" stop-color="#545454"/><stop offset="0.555" stop-color="#545454"/><stop offset="0.605" stop-color="#575757"/><stop offset="0.638" stop-color="#5d5d5d"/><stop offset="0.727" stop-color="#777777"/><stop offset="0.738" stop-color="#7a7a7a"/><stop offset="0.749" stop-color="#7b7b7b"/><stop offset="0.768" stop-color="#777777"/><stop offset="0.826" stop-color="#616161"/><stop offset="0.873" stop-color="#545454"/><stop offset="0.945" stop-color="#484848"/><stop offset="1" stop-color="#444444"/></linearGradient><linearGradient id="h75"><stop offset="0" stop-color="#696969"/><stop offset="0.041" stop-color="#6d6d6d"/><stop offset="0.066" stop-color="#727272"/><stop offset="0.138" stop-color="#888888"/><stop offset="0.207" stop-color="#a3a3a3"/><stop offset="0.221" stop-color="#a7a7a7"/><stop offset="0.232" stop-color="#a8a8a8"/><stop offset="0.243" stop-color="#a6a6a6"/><stop offset="0.257" stop-color="#a0a0a0"/><stop offset="0.285" stop-color="#919191"/><stop offset="0.323" stop-color="#787878"/><stop offset="0.351" stop-color="#6b6b6b"/><stop offset="0.387" stop-color="#606060"/><stop offset="0.431" stop-color="#585858"/><stop offset="0.467" stop-color="#555555"/><stop offset="0.5" stop-color="#535353"/><stop offset="0.564" stop-color="#545454"/><stop offset="0.608" stop-color="#575757"/><stop offset="0.627" stop-color="#5a5a5a"/><stop offset="0.646" stop-color="#5e5e5e"/><stop offset="0.727" stop-color="#777777"/><stop offset="0.738" stop-color="#797979"/><stop offset="0.749" stop-color="#7a7a7a"/><stop offset="0.768" stop-color="#767676"/><stop offset="0.823" stop-color="#616161"/><stop offset="0.87" stop-color="#545454"/><stop offset="0.942" stop-color="#474747"/><stop offset="1" stop-color="#434343"/></linearGradient><linearGradient id="h76"><stop offset="0" stop-color="#666666"/><stop offset="0.044" stop-color="#6b6b6b"/><stop offset="0.069" stop-color="#707070"/><stop offset="0.141" stop-color="#868686"/><stop offset="0.21" stop-color="#a1a1a1"/><stop offset="0.224" stop-color="#a5a5a5"/><stop offset="0.235" stop-color="#a5a5a5"/><stop offset="0.246" stop-color="#a4a4a4"/><stop offset="0.26" stop-color="#9e9e9e"/><stop offset="0.326" stop-color="#777777"/><stop offset="0.354" stop-color="#6b6b6b"/><stop offset="0.39" stop-color="#5f5f5f"/><stop offset="0.436" stop-color="#575757"/><stop offset="0.472" stop-color="#545454"/><stop offset="0.503" stop-color="#535353"/><stop offset="0.566" stop-color="#545454"/><stop offset="0.608" stop-color="#565656"/><stop offset="0.644" stop-color="#5d5d5d"/><stop offset="0.727" stop-color="#777777"/><stop offset="0.746" stop-color="#797979"/><stop offset="0.765" stop-color="#757575"/><stop offset="0.823" stop-color="#5f5f5f"/><stop offset="0.87" stop-color="#535353"/><stop offset="0.939" stop-color="#474747"/><stop offset="1" stop-color="#424242"/></linearGradient><linearGradient id="h77"><stop offset="0" stop-color="#646464"/><stop offset="0.047" stop-color="#696969"/><stop offset="0.075" stop-color="#6f6f6f"/><stop offset="0.144" stop-color="#848484"/><stop offset="0.213" stop-color="#9f9f9f"/><stop offset="0.227" stop-color="#a3a3a3"/><stop offset="0.238" stop-color="#a3a3a3"/><stop offset="0.249" stop-color="#a2a2a2"/><stop offset="0.262" stop-color="#9c9c9c"/><stop offset="0.329" stop-color="#767676"/><stop offset="0.359" stop-color="#696969"/><stop offset="0.395" stop-color="#5e5e5e"/><stop offset="0.442" stop-color="#565656"/><stop offset="0.472" stop-color="#535353"/><stop offset="0.503" stop-color="#525252"/><stop offset="0.564" stop-color="#535353"/><stop offset="0.608" stop-color="#565656"/><stop offset="0.641" stop-color="#5c5c5c"/><stop offset="0.724" stop-color="#767676"/><stop offset="0.743" stop-color="#787878"/><stop offset="0.762" stop-color="#757575"/><stop offset="0.82" stop-color="#5f5f5f"/><stop offset="0.867" stop-color="#525252"/><stop offset="0.936" stop-color="#464646"/><stop offset="1" stop-color="#414141"/></linearGradient><linearGradient id="h78"><stop offset="0" stop-color="#626262"/><stop offset="0.05" stop-color="#686868"/><stop offset="0.08" stop-color="#6e6e6e"/><stop offset="0.149" stop-color="#838383"/><stop offset="0.215" stop-color="#9d9d9d"/><stop offset="0.229" stop-color="#a1a1a1"/><stop offset="0.24" stop-color="#a1a1a1"/><stop offset="0.251" stop-color="#a0a0a0"/><stop offset="0.262" stop-color="#9b9b9b"/><stop offset="0.331" stop-color="#757575"/><stop offset="0.365" stop-color="#676767"/><stop offset="0.398" stop-color="#5d5d5d"/><stop offset="0.445" stop-color="#565656"/><stop offset="0.475" stop-color="#535353"/><stop offset="0.506" stop-color="#515151"/><stop offset="0.566" stop-color="#535353"/><stop offset="0.608" stop-color="#555555"/><stop offset="0.641" stop-color="#5c5c5c"/><stop offset="0.721" stop-color="#757575"/><stop offset="0.74" stop-color="#777777"/><stop offset="0.76" stop-color="#747474"/><stop offset="0.818" stop-color="#5f5f5f"/><stop offset="0.865" stop-color="#525252"/><stop offset="0.936" stop-color="#464646"/><stop offset="1" stop-color="#414141"/></linearGradient><linearGradient id="h79"><stop offset="0" stop-color="#606060"/><stop offset="0.052" stop-color="#666666"/><stop offset="0.086" stop-color="#6d6d6d"/><stop offset="0.152" stop-color="#818181"/><stop offset="0.218" stop-color="#9b9b9b"/><stop offset="0.232" stop-color="#9f9f9f"/><stop offset="0.243" stop-color="#9f9f9f"/><stop offset="0.254" stop-color="#9d9d9d"/><stop offset="0.265" stop-color="#999999"/><stop offset="0.334" stop-color="#747474"/><stop offset="0.367" stop-color="#666666"/><stop offset="0.401" stop-color="#5d5d5d"/><stop offset="0.45" stop-color="#555555"/><stop offset="0.481" stop-color="#525252"/><stop offset="0.508" stop-color="#515151"/><stop offset="0.569" stop-color="#525252"/><stop offset="0.608" stop-color="#555555"/><stop offset="0.641" stop-color="#5c5c5c"/><stop offset="0.718" stop-color="#747474"/><stop offset="0.738" stop-color="#777777"/><stop offset="0.757" stop-color="#737373"/><stop offset="0.818" stop-color="#5d5d5d"/><stop offset="0.865" stop-color="#515151"/><stop offset="0.934" stop-color="#454545"/><stop offset="1" stop-color="#404040"/></linearGradient><linearGradient id="h80"><stop offset="0" stop-color="#5d5d5d"/><stop offset="0.055" stop-color="#646464"/><stop offset="0.091" stop-color="#6c6c6c"/><stop offset="0.157" stop-color="#808080"/><stop offset="0.221" stop-color="#999999"/><stop offset="0.235" stop-color="#9d9d9d"/><stop offset="0.246" stop-color="#9d9d9d"/><stop offset="0.257" stop-color="#9b9b9b"/><stop offset="0.268" stop-color="#979797"/><stop offset="0.337" stop-color="#737373"/><stop offset="0.373" stop-color="#646464"/><stop offset="0.403" stop-color="#5c5c5c"/><stop offset="0.453" stop-color="#545454"/><stop offset="0.481" stop-color="#515151"/><stop offset="0.508" stop-color="#505050"/><stop offset="0.569" stop-color="#525252"/><stop offset="0.608" stop-color="#545454"/><stop offset="0.638" stop-color="#5a5a5a"/><stop offset="0.715" stop-color="#737373"/><stop offset="0.727" stop-color="#757575"/><stop offset="0.738" stop-color="#767676"/><stop offset="0.754" stop-color="#737373"/><stop offset="0.815" stop-color="#5d5d5d"/><stop offset="0.862" stop-color="#505050"/><stop offset="0.934" stop-color="#444444"/><stop offset="1" stop-color="#3f3f3f"/></linearGradient><linearGradient id="h81"><stop offset="0" stop-color="#5b5b5b"/><stop offset="0.055" stop-color="#626262"/><stop offset="0.097" stop-color="#6b6b6b"/><stop offset="0.16" stop-color="#7e7e7e"/><stop offset="0.221" stop-color="#979797"/><stop offset="0.235" stop-color="#9a9a9a"/><stop offset="0.246" stop-color="#9b9b9b"/><stop offset="0.257" stop-color="#9a9a9a"/><stop offset="0.271" stop-color="#959595"/><stop offset="0.34" stop-color="#727272"/><stop offset="0.378" stop-color="#636363"/><stop offset="0.409" stop-color="#5b5b5b"/><stop offset="0.459" stop-color="#535353"/><stop offset="0.486" stop-color="#505050"/><stop offset="0.514" stop-color="#505050"/><stop offset="0.572" stop-color="#515151"/><stop offset="0.608" stop-color="#545454"/><stop offset="0.638" stop-color="#5a5a5a"/><stop offset="0.713" stop-color="#727272"/><stop offset="0.724" stop-color="#757575"/><stop offset="0.735" stop-color="#757575"/><stop offset="0.751" stop-color="#727272"/><stop offset="0.815" stop-color="#5c5c5c"/><stop offset="0.859" stop-color="#505050"/><stop offset="0.934" stop-color="#434343"/><stop offset="1" stop-color="#3e3e3e"/></linearGradient><linearGradient id="h82"><stop offset="0" stop-color="#595959"/><stop offset="0.055" stop-color="#606060"/><stop offset="0.102" stop-color="#6a6a6a"/><stop offset="0.166" stop-color="#7d7d7d"/><stop offset="0.224" stop-color="#959595"/><stop offset="0.238" stop-color="#989898"/><stop offset="0.249" stop-color="#999999"/><stop offset="0.26" stop-color="#989898"/><stop offset="0.273" stop-color="#939393"/><stop offset="0.343" stop-color="#717171"/><stop offset="0.381" stop-color="#626262"/><stop offset="0.412" stop-color="#5a5a5a"/><stop offset="0.461" stop-color="#525252"/><stop offset="0.489" stop-color="#505050"/><stop offset="0.517" stop-color="#4f4f4f"/><stop offset="0.575" stop-color="#515151"/><stop offset="0.608" stop-color="#535353"/><stop offset="0.635" stop-color="#595959"/><stop offset="0.713" stop-color="#727272"/><stop offset="0.732" stop-color="#747474"/><stop offset="0.749" stop-color="#727272"/><stop offset="0.815" stop-color="#5a5a5a"/><stop offset="0.856" stop-color="#4f4f4f"/><stop offset="0.934" stop-color="#434343"/><stop offset="0.967" stop-color="#3f3f3f"/><stop offset="1" stop-color="#3e3e3e"/></linearGradient><linearGradient id="h83"><stop offset="0" stop-color="#575757"/><stop offset="0.055" stop-color="#5e5e5e"/><stop offset="0.108" stop-color="#696969"/><stop offset="0.169" stop-color="#7b7b7b"/><stop offset="0.227" stop-color="#939393"/><stop offset="0.24" stop-color="#969696"/><stop offset="0.251" stop-color="#979797"/><stop offset="0.262" stop-color="#969696"/><stop offset="0.276" stop-color="#919191"/><stop offset="0.345" stop-color="#707070"/><stop offset="0.384" stop-color="#616161"/><stop offset="0.417" stop-color="#595959"/><stop offset="0.464" stop-color="#515151"/><stop offset="0.489" stop-color="#4f4f4f"/><stop offset="0.519" stop-color="#4f4f4f"/><stop offset="0.575" stop-color="#505050"/><stop offset="0.608" stop-color="#525252"/><stop offset="0.635" stop-color="#595959"/><stop offset="0.71" stop-color="#717171"/><stop offset="0.729" stop-color="#737373"/><stop offset="0.749" stop-color="#707070"/><stop offset="0.815" stop-color="#595959"/><stop offset="0.856" stop-color="#4e4e4e"/><stop offset="0.934" stop-color="#424242"/><stop offset="0.967" stop-color="#3e3e3e"/><stop offset="1" stop-color="#3d3d3d"/></linearGradient><linearGradient id="h84"><stop offset="0" stop-color="#555555"/><stop offset="0.052" stop-color="#5b5b5b"/><stop offset="0.11" stop-color="#676767"/><stop offset="0.174" stop-color="#7a7a7a"/><stop offset="0.229" stop-color="#919191"/><stop offset="0.243" stop-color="#949494"/><stop offset="0.254" stop-color="#959595"/><stop offset="0.265" stop-color="#939393"/><stop offset="0.279" stop-color="#8f8f8f"/><stop offset="0.348" stop-color="#6f6f6f"/><stop offset="0.384" stop-color="#616161"/><stop offset="0.417" stop-color="#585858"/><stop offset="0.464" stop-color="#505050"/><stop offset="0.489" stop-color="#4e4e4e"/><stop offset="0.517" stop-color="#4e4e4e"/><stop offset="0.575" stop-color="#4f4f4f"/><stop offset="0.608" stop-color="#525252"/><stop offset="0.635" stop-color="#585858"/><stop offset="0.707" stop-color="#6f6f6f"/><stop offset="0.718" stop-color="#727272"/><stop offset="0.729" stop-color="#727272"/><stop offset="0.746" stop-color="#6f6f6f"/><stop offset="0.815" stop-color="#575757"/><stop offset="0.854" stop-color="#4d4d4d"/><stop offset="0.934" stop-color="#414141"/><stop offset="0.967" stop-color="#3d3d3d"/><stop offset="1" stop-color="#3c3c3c"/></linearGradient><linearGradient id="h85"><stop offset="0" stop-color="#545454"/><stop offset="0.022" stop-color="#555555"/><stop offset="0.05" stop-color="#595959"/><stop offset="0.113" stop-color="#666666"/><stop offset="0.177" stop-color="#797979"/><stop offset="0.232" stop-color="#8f8f8f"/><stop offset="0.246" stop-color="#929292"/><stop offset="0.257" stop-color="#939393"/><stop offset="0.268" stop-color="#919191"/><stop offset="0.282" stop-color="#8d8d8d"/><stop offset="0.351" stop-color="#6d6d6d"/><stop offset="0.387" stop-color="#5f5f5f"/><stop offset="0.423" stop-color="#575757"/><stop offset="0.467" stop-color="#4f4f4f"/><stop offset="0.489" stop-color="#4d4d4d"/><stop offset="0.517" stop-color="#4d4d4d"/><stop offset="0.605" stop-color="#515151"/><stop offset="0.633" stop-color="#565656"/><stop offset="0.707" stop-color="#6e6e6e"/><stop offset="0.727" stop-color="#717171"/><stop offset="0.743" stop-color="#6e6e6e"/><stop offset="0.812" stop-color="#575757"/><stop offset="0.854" stop-color="#4c4c4c"/><stop offset="0.934" stop-color="#404040"/><stop offset="0.967" stop-color="#3c3c3c"/><stop offset="1" stop-color="#3b3b3b"/></linearGradient><linearGradient id="h86"><stop offset="0" stop-color="#525252"/><stop offset="0.022" stop-color="#545454"/><stop offset="0.05" stop-color="#575757"/><stop offset="0.116" stop-color="#646464"/><stop offset="0.18" stop-color="#777777"/><stop offset="0.235" stop-color="#8d8d8d"/><stop offset="0.249" stop-color="#909090"/><stop offset="0.26" stop-color="#919191"/><stop offset="0.271" stop-color="#8f8f8f"/><stop offset="0.285" stop-color="#8b8b8b"/><stop offset="0.351" stop-color="#6d6d6d"/><stop offset="0.39" stop-color="#5e5e5e"/><stop offset="0.425" stop-color="#555555"/><stop offset="0.47" stop-color="#4e4e4e"/><stop offset="0.492" stop-color="#4c4c4c"/><stop offset="0.519" stop-color="#4c4c4c"/><stop offset="0.605" stop-color="#505050"/><stop offset="0.633" stop-color="#565656"/><stop offset="0.704" stop-color="#6d6d6d"/><stop offset="0.724" stop-color="#6f6f6f"/><stop offset="0.74" stop-color="#6d6d6d"/><stop offset="0.812" stop-color="#555555"/><stop offset="0.851" stop-color="#4b4b4b"/><stop offset="0.934" stop-color="#3e3e3e"/><stop offset="0.967" stop-color="#3c3c3c"/><stop offset="1" stop-color="#3b3b3b"/></linearGradient><linearGradient id="h87"><stop offset="0" stop-color="#515151"/><stop offset="0.025" stop-color="#535353"/><stop offset="0.05" stop-color="#565656"/><stop offset="0.119" stop-color="#636363"/><stop offset="0.182" stop-color="#757575"/><stop offset="0.238" stop-color="#8b8b8b"/><stop offset="0.251" stop-color="#8e8e8e"/><stop offset="0.262" stop-color="#8f8f8f"/><stop offset="0.273" stop-color="#8d8d8d"/><stop offset="0.287" stop-color="#898989"/><stop offset="0.354" stop-color="#6b6b6b"/><stop offset="0.39" stop-color="#5d5d5d"/><stop offset="0.425" stop-color="#555555"/><stop offset="0.47" stop-color="#4d4d4d"/><stop offset="0.492" stop-color="#4c4c4c"/><stop offset="0.519" stop-color="#4b4b4b"/><stop offset="0.605" stop-color="#4f4f4f"/><stop offset="0.633" stop-color="#555555"/><stop offset="0.702" stop-color="#6b6b6b"/><stop offset="0.713" stop-color="#6d6d6d"/><stop offset="0.724" stop-color="#6d6d6d"/><stop offset="0.74" stop-color="#6a6a6a"/><stop offset="0.815" stop-color="#525252"/><stop offset="0.851" stop-color="#4a4a4a"/><stop offset="0.931" stop-color="#3e3e3e"/><stop offset="0.964" stop-color="#3b3b3b"/><stop offset="1" stop-color="#3a3a3a"/></linearGradient><linearGradient id="h88"><stop offset="0" stop-color="#505050"/><stop offset="0.025" stop-color="#525252"/><stop offset="0.05" stop-color="#545454"/><stop offset="0.119" stop-color="#616161"/><stop offset="0.185" stop-color="#747474"/><stop offset="0.24" stop-color="#898989"/><stop offset="0.254" stop-color="#8c8c8c"/><stop offset="0.265" stop-color="#8d8d8d"/><stop offset="0.276" stop-color="#8b8b8b"/><stop offset="0.29" stop-color="#878787"/><stop offset="0.354" stop-color="#6a6a6a"/><stop offset="0.392" stop-color="#5c5c5c"/><stop offset="0.431" stop-color="#535353"/><stop offset="0.472" stop-color="#4c4c4c"/><stop offset="0.494" stop-color="#4a4a4a"/><stop offset="0.522" stop-color="#4a4a4a"/><stop offset="0.605" stop-color="#4e4e4e"/><stop offset="0.633" stop-color="#545454"/><stop offset="0.699" stop-color="#696969"/><stop offset="0.71" stop-color="#6b6b6b"/><stop offset="0.721" stop-color="#6c6c6c"/><stop offset="0.74" stop-color="#686868"/><stop offset="0.815" stop-color="#505050"/><stop offset="0.851" stop-color="#484848"/><stop offset="0.931" stop-color="#3d3d3d"/><stop offset="0.964" stop-color="#3a3a3a"/><stop offset="1" stop-color="#393939"/></linearGradient><linearGradient id="h89"><stop offset="0" stop-color="#4f4f4f"/><stop offset="0.05" stop-color="#535353"/><stop offset="0.122" stop-color="#606060"/><stop offset="0.188" stop-color="#727272"/><stop offset="0.246" stop-color="#888888"/><stop offset="0.257" stop-color="#8a8a8a"/><stop offset="0.268" stop-color="#8b8b8b"/><stop offset="0.279" stop-color="#898989"/><stop offset="0.293" stop-color="#858585"/><stop offset="0.356" stop-color="#696969"/><stop offset="0.392" stop-color="#5b5b5b"/><stop offset="0.431" stop-color="#525252"/><stop offset="0.475" stop-color="#4b4b4b"/><stop offset="0.497" stop-color="#494949"/><stop offset="0.528" stop-color="#494949"/><stop offset="0.605" stop-color="#4d4d4d"/><stop offset="0.633" stop-color="#535353"/><stop offset="0.699" stop-color="#676767"/><stop offset="0.718" stop-color="#6a6a6a"/><stop offset="0.738" stop-color="#676767"/><stop offset="0.815" stop-color="#4f4f4f"/><stop offset="0.856" stop-color="#464646"/><stop offset="0.931" stop-color="#3b3b3b"/><stop offset="0.961" stop-color="#393939"/><stop offset="1" stop-color="#383838"/></linearGradient><linearGradient id="h90"><stop offset="0" stop-color="#4e4e4e"/><stop offset="0.052" stop-color="#525252"/><stop offset="0.124" stop-color="#5e5e5e"/><stop offset="0.191" stop-color="#707070"/><stop offset="0.249" stop-color="#868686"/><stop offset="0.26" stop-color="#888888"/><stop offset="0.271" stop-color="#898989"/><stop offset="0.282" stop-color="#878787"/><stop offset="0.296" stop-color="#838383"/><stop offset="0.356" stop-color="#686868"/><stop offset="0.395" stop-color="#5a5a5a"/><stop offset="0.434" stop-color="#515151"/><stop offset="0.475" stop-color="#4a4a4a"/><stop offset="0.494" stop-color="#494949"/><stop offset="0.522" stop-color="#484848"/><stop offset="0.602" stop-color="#4c4c4c"/><stop offset="0.63" stop-color="#515151"/><stop offset="0.696" stop-color="#656565"/><stop offset="0.707" stop-color="#686868"/><stop offset="0.718" stop-color="#686868"/><stop offset="0.738" stop-color="#646464"/><stop offset="0.812" stop-color="#4e4e4e"/><stop offset="0.856" stop-color="#454545"/><stop offset="0.931" stop-color="#3a3a3a"/><stop offset="1" stop-color="#373737"/></linearGradient><linearGradient id="h91"><stop offset="0" stop-color="#4d4d4d"/><stop offset="0.055" stop-color="#515151"/><stop offset="0.127" stop-color="#5d5d5d"/><stop offset="0.193" stop-color="#6f6f6f"/><stop offset="0.251" stop-color="#848484"/><stop offset="0.262" stop-color="#868686"/><stop offset="0.273" stop-color="#878787"/><stop offset="0.285" stop-color="#858585"/><stop offset="0.298" stop-color="#818181"/><stop offset="0.356" stop-color="#676767"/><stop offset="0.395" stop-color="#595959"/><stop offset="0.434" stop-color="#505050"/><stop offset="0.478" stop-color="#494949"/><stop offset="0.525" stop-color="#484848"/><stop offset="0.602" stop-color="#4b4b4b"/><stop offset="0.63" stop-color="#505050"/><stop offset="0.696" stop-color="#646464"/><stop offset="0.715" stop-color="#666666"/><stop offset="0.735" stop-color="#636363"/><stop offset="0.809" stop-color="#4d4d4d"/><stop offset="0.859" stop-color="#434343"/><stop offset="0.931" stop-color="#393939"/><stop offset="1" stop-color="#363636"/></linearGradient><linearGradient id="h92"><stop offset="0" stop-color="#4c4c4c"/><stop offset="0.058" stop-color="#505050"/><stop offset="0.13" stop-color="#5c5c5c"/><stop offset="0.196" stop-color="#6d6d6d"/><stop offset="0.254" stop-color="#828282"/><stop offset="0.273" stop-color="#858585"/><stop offset="0.285" stop-color="#848484"/><stop offset="0.298" stop-color="#808080"/><stop offset="0.359" stop-color="#666666"/><stop offset="0.398" stop-color="#585858"/><stop offset="0.436" stop-color="#4f4f4f"/><stop offset="0.478" stop-color="#484848"/><stop offset="0.525" stop-color="#474747"/><stop offset="0.602" stop-color="#4a4a4a"/><stop offset="0.63" stop-color="#4f4f4f"/><stop offset="0.693" stop-color="#626262"/><stop offset="0.713" stop-color="#646464"/><stop offset="0.732" stop-color="#616161"/><stop offset="0.809" stop-color="#4b4b4b"/><stop offset="0.862" stop-color="#414141"/><stop offset="0.928" stop-color="#393939"/><stop offset="1" stop-color="#353535"/></linearGradient><linearGradient id="h93"><stop offset="0" stop-color="#4b4b4b"/><stop offset="0.061" stop-color="#4f4f4f"/><stop offset="0.133" stop-color="#5b5b5b"/><stop offset="0.199" stop-color="#6b6b6b"/><stop offset="0.257" stop-color="#808080"/><stop offset="0.276" stop-color="#838383"/><stop offset="0.287" stop-color="#828282"/><stop offset="0.301" stop-color="#7e7e7e"/><stop offset="0.359" stop-color="#656565"/><stop offset="0.398" stop-color="#575757"/><stop offset="0.439" stop-color="#4d4d4d"/><stop offset="0.481" stop-color="#474747"/><stop offset="0.53" stop-color="#464646"/><stop offset="0.602" stop-color="#494949"/><stop offset="0.63" stop-color="#4e4e4e"/><stop offset="0.691" stop-color="#606060"/><stop offset="0.702" stop-color="#626262"/><stop offset="0.713" stop-color="#626262"/><stop offset="0.732" stop-color="#5f5f5f"/><stop offset="0.807" stop-color="#4a4a4a"/><stop offset="0.862" stop-color="#404040"/><stop offset="0.928" stop-color="#383838"/><stop offset="1" stop-color="#343434"/></linearGradient><linearGradient id="h94"><stop offset="0" stop-color="#4a4a4a"/><stop offset="0.064" stop-color="#4e4e4e"/><stop offset="0.135" stop-color="#595959"/><stop offset="0.204" stop-color="#6b6b6b"/><stop offset="0.26" stop-color="#7e7e7e"/><stop offset="0.279" stop-color="#818181"/><stop offset="0.29" stop-color="#808080"/><stop offset="0.304" stop-color="#7c7c7c"/><stop offset="0.362" stop-color="#636363"/><stop offset="0.401" stop-color="#565656"/><stop offset="0.439" stop-color="#4d4d4d"/><stop offset="0.481" stop-color="#464646"/><stop offset="0.528" stop-color="#454545"/><stop offset="0.602" stop-color="#484848"/><stop offset="0.63" stop-color="#4d4d4d"/><stop offset="0.691" stop-color="#5f5f5f"/><stop offset="0.71" stop-color="#616161"/><stop offset="0.729" stop-color="#5e5e5e"/><stop offset="0.804" stop-color="#494949"/><stop offset="0.862" stop-color="#3e3e3e"/><stop offset="0.925" stop-color="#373737"/><stop offset="1" stop-color="#343434"/></linearGradient><linearGradient id="h95"><stop offset="0" stop-color="#494949"/><stop offset="0.066" stop-color="#4d4d4d"/><stop offset="0.138" stop-color="#585858"/><stop offset="0.207" stop-color="#696969"/><stop offset="0.262" stop-color="#7c7c7c"/><stop offset="0.282" stop-color="#7f7f7f"/><stop offset="0.293" stop-color="#7e7e7e"/><stop offset="0.307" stop-color="#7a7a7a"/><stop offset="0.362" stop-color="#626262"/><stop offset="0.401" stop-color="#555555"/><stop offset="0.439" stop-color="#4c4c4c"/><stop offset="0.481" stop-color="#454545"/><stop offset="0.528" stop-color="#444444"/><stop offset="0.602" stop-color="#474747"/><stop offset="0.63" stop-color="#4c4c4c"/><stop offset="0.688" stop-color="#5d5d5d"/><stop offset="0.707" stop-color="#5f5f5f"/><stop offset="0.727" stop-color="#5c5c5c"/><stop offset="0.801" stop-color="#484848"/><stop offset="0.862" stop-color="#3d3d3d"/><stop offset="0.925" stop-color="#363636"/><stop offset="1" stop-color="#333333"/></linearGradient><linearGradient id="h96"><stop offset="0" stop-color="#474747"/><stop offset="0.069" stop-color="#4c4c4c"/><stop offset="0.141" stop-color="#575757"/><stop offset="0.21" stop-color="#676767"/><stop offset="0.265" stop-color="#7a7a7a"/><stop offset="0.285" stop-color="#7d7d7d"/><stop offset="0.296" stop-color="#7c7c7c"/><stop offset="0.309" stop-color="#787878"/><stop offset="0.365" stop-color="#616161"/><stop offset="0.403" stop-color="#545454"/><stop offset="0.442" stop-color="#4b4b4b"/><stop offset="0.483" stop-color="#444444"/><stop offset="0.533" stop-color="#434343"/><stop offset="0.602" stop-color="#464646"/><stop offset="0.63" stop-color="#4b4b4b"/><stop offset="0.685" stop-color="#5b5b5b"/><stop offset="0.707" stop-color="#5d5d5d"/><stop offset="0.727" stop-color="#5a5a5a"/><stop offset="0.798" stop-color="#474747"/><stop offset="0.859" stop-color="#3c3c3c"/><stop offset="0.923" stop-color="#353535"/><stop offset="1" stop-color="#323232"/></linearGradient><linearGradient id="h97"><stop offset="0" stop-color="#464646"/><stop offset="0.072" stop-color="#4b4b4b"/><stop offset="0.144" stop-color="#565656"/><stop offset="0.213" stop-color="#666666"/><stop offset="0.268" stop-color="#787878"/><stop offset="0.287" stop-color="#7b7b7b"/><stop offset="0.298" stop-color="#7a7a7a"/><stop offset="0.312" stop-color="#767676"/><stop offset="0.365" stop-color="#606060"/><stop offset="0.403" stop-color="#535353"/><stop offset="0.442" stop-color="#4a4a4a"/><stop offset="0.483" stop-color="#434343"/><stop offset="0.53" stop-color="#424242"/><stop offset="0.602" stop-color="#454545"/><stop offset="0.63" stop-color="#4a4a4a"/><stop offset="0.685" stop-color="#595959"/><stop offset="0.704" stop-color="#5b5b5b"/><stop offset="0.724" stop-color="#595959"/><stop offset="0.798" stop-color="#454545"/><stop offset="0.859" stop-color="#3b3b3b"/><stop offset="0.923" stop-color="#343434"/><stop offset="1" stop-color="#303030"/></linearGradient><linearGradient id="h98"><stop offset="0" stop-color="#454545"/><stop offset="0.075" stop-color="#4a4a4a"/><stop offset="0.146" stop-color="#555555"/><stop offset="0.215" stop-color="#646464"/><stop offset="0.271" stop-color="#767676"/><stop offset="0.29" stop-color="#797979"/><stop offset="0.301" stop-color="#787878"/><stop offset="0.315" stop-color="#747474"/><stop offset="0.365" stop-color="#5f5f5f"/><stop offset="0.406" stop-color="#525252"/><stop offset="0.445" stop-color="#484848"/><stop offset="0.483" stop-color="#424242"/><stop offset="0.53" stop-color="#414141"/><stop offset="0.602" stop-color="#444444"/><stop offset="0.627" stop-color="#484848"/><stop offset="0.682" stop-color="#575757"/><stop offset="0.704" stop-color="#5a5a5a"/><stop offset="0.724" stop-color="#575757"/><stop offset="0.793" stop-color="#454545"/><stop offset="0.856" stop-color="#3a3a3a"/><stop offset="0.92" stop-color="#333333"/><stop offset="1" stop-color="#2f2f2f"/></linearGradient><linearGradient id="h99"><stop offset="0" stop-color="#434343"/><stop offset="0.077" stop-color="#494949"/><stop offset="0.149" stop-color="#535353"/><stop offset="0.221" stop-color="#636363"/><stop offset="0.273" stop-color="#747474"/><stop offset="0.293" stop-color="#777777"/><stop offset="0.304" stop-color="#767676"/><stop offset="0.318" stop-color="#727272"/><stop offset="0.367" stop-color="#5e5e5e"/><stop offset="0.409" stop-color="#505050"/><stop offset="0.448" stop-color="#474747"/><stop offset="0.486" stop-color="#414141"/><stop offset="0.533" stop-color="#404040"/><stop offset="0.602" stop-color="#434343"/><stop offset="0.627" stop-color="#474747"/><stop offset="0.68" stop-color="#555555"/><stop offset="0.702" stop-color="#585858"/><stop offset="0.721" stop-color="#555555"/><stop offset="0.793" stop-color="#434343"/><stop offset="0.854" stop-color="#393939"/><stop offset="0.917" stop-color="#323232"/><stop offset="1" stop-color="#2e2e2e"/></linearGradient><linearGradient id="h100"><stop offset="0" stop-color="#424242"/><stop offset="0.08" stop-color="#484848"/><stop offset="0.152" stop-color="#525252"/><stop offset="0.215" stop-color="#5f5f5f"/><stop offset="0.238" stop-color="#656565"/><stop offset="0.276" stop-color="#727272"/><stop offset="0.296" stop-color="#757575"/><stop offset="0.307" stop-color="#747474"/><stop offset="0.32" stop-color="#707070"/><stop offset="0.367" stop-color="#5d5d5d"/><stop offset="0.409" stop-color="#4f4f4f"/><stop offset="0.448" stop-color="#464646"/><stop offset="0.486" stop-color="#404040"/><stop offset="0.533" stop-color="#3f3f3f"/><stop offset="0.602" stop-color="#424242"/><stop offset="0.627" stop-color="#464646"/><stop offset="0.68" stop-color="#545454"/><stop offset="0.702" stop-color="#565656"/><stop offset="0.721" stop-color="#535353"/><stop offset="0.787" stop-color="#434343"/><stop offset="0.851" stop-color="#383838"/><stop offset="0.917" stop-color="#313131"/><stop offset="1" stop-color="#2d2d2d"/></linearGradient><linearGradient id="h101"><stop offset="0" stop-color="#404040"/><stop offset="0.083" stop-color="#474747"/><stop offset="0.157" stop-color="#525252"/><stop offset="0.218" stop-color="#5e5e5e"/><stop offset="0.24" stop-color="#646464"/><stop offset="0.279" stop-color="#707070"/><stop offset="0.298" stop-color="#737373"/><stop offset="0.309" stop-color="#727272"/><stop offset="0.32" stop-color="#6f6f6f"/><stop offset="0.37" stop-color="#5b5b5b"/><stop offset="0.412" stop-color="#4e4e4e"/><stop offset="0.45" stop-color="#454545"/><stop offset="0.486" stop-color="#3f3f3f"/><stop offset="0.53" stop-color="#3e3e3e"/><stop offset="0.602" stop-color="#414141"/><stop offset="0.627" stop-color="#454545"/><stop offset="0.677" stop-color="#525252"/><stop offset="0.699" stop-color="#545454"/><stop offset="0.718" stop-color="#525252"/><stop offset="0.787" stop-color="#414141"/><stop offset="0.851" stop-color="#373737"/><stop offset="0.92" stop-color="#303030"/><stop offset="1" stop-color="#2c2c2c"/></linearGradient><linearGradient id="h102"><stop offset="0" stop-color="#3f3f3f"/><stop offset="0.083" stop-color="#464646"/><stop offset="0.16" stop-color="#505050"/><stop offset="0.224" stop-color="#5d5d5d"/><stop offset="0.246" stop-color="#636363"/><stop offset="0.282" stop-color="#6e6e6e"/><stop offset="0.301" stop-color="#717171"/><stop offset="0.312" stop-color="#707070"/><stop offset="0.323" stop-color="#6d6d6d"/><stop offset="0.37" stop-color="#5a5a5a"/><stop offset="0.414" stop-color="#4d4d4d"/><stop offset="0.456" stop-color="#434343"/><stop offset="0.489" stop-color="#3e3e3e"/><stop offset="0.536" stop-color="#3d3d3d"/><stop offset="0.602" stop-color="#404040"/><stop offset="0.627" stop-color="#444444"/><stop offset="0.677" stop-color="#515151"/><stop offset="0.699" stop-color="#535353"/><stop offset="0.718" stop-color="#505050"/><stop offset="0.785" stop-color="#404040"/><stop offset="0.848" stop-color="#363636"/><stop offset="0.92" stop-color="#2f2f2f"/><stop offset="1" stop-color="#2b2b2b"/></linearGradient><linearGradient id="h103"><stop offset="0" stop-color="#3d3d3d"/><stop offset="0.083" stop-color="#444444"/><stop offset="0.163" stop-color="#4f4f4f"/><stop offset="0.227" stop-color="#5b5b5b"/><stop offset="0.249" stop-color="#616161"/><stop offset="0.285" stop-color="#6c6c6c"/><stop offset="0.304" stop-color="#6f6f6f"/><stop offset="0.315" stop-color="#6e6e6e"/><stop offset="0.326" stop-color="#6b6b6b"/><stop offset="0.373" stop-color="#595959"/><stop offset="0.414" stop-color="#4c4c4c"/><stop offset="0.456" stop-color="#424242"/><stop offset="0.489" stop-color="#3d3d3d"/><stop offset="0.533" stop-color="#3c3c3c"/><stop offset="0.602" stop-color="#3f3f3f"/><stop offset="0.624" stop-color="#424242"/><stop offset="0.674" stop-color="#4f4f4f"/><stop offset="0.696" stop-color="#515151"/><stop offset="0.715" stop-color="#4e4e4e"/><stop offset="0.785" stop-color="#3f3f3f"/><stop offset="0.845" stop-color="#353535"/><stop offset="0.923" stop-color="#2e2e2e"/><stop offset="1" stop-color="#2a2a2a"/></linearGradient><linearGradient id="h104"><stop offset="0" stop-color="#3c3c3c"/><stop offset="0.083" stop-color="#434343"/><stop offset="0.169" stop-color="#4e4e4e"/><stop offset="0.232" stop-color="#5b5b5b"/><stop offset="0.287" stop-color="#6a6a6a"/><stop offset="0.307" stop-color="#6d6d6d"/><stop offset="0.318" stop-color="#6c6c6c"/><stop offset="0.329" stop-color="#696969"/><stop offset="0.373" stop-color="#585858"/><stop offset="0.417" stop-color="#4b4b4b"/><stop offset="0.456" stop-color="#424242"/><stop offset="0.489" stop-color="#3c3c3c"/><stop offset="0.53" stop-color="#3b3b3b"/><stop offset="0.602" stop-color="#3e3e3e"/><stop offset="0.624" stop-color="#414141"/><stop offset="0.674" stop-color="#4d4d4d"/><stop offset="0.696" stop-color="#4f4f4f"/><stop offset="0.713" stop-color="#4d4d4d"/><stop offset="0.782" stop-color="#3e3e3e"/><stop offset="0.843" stop-color="#343434"/><stop offset="0.925" stop-color="#2d2d2d"/><stop offset="1" stop-color="#292929"/></linearGradient><linearGradient id="h105"><stop offset="0" stop-color="#3b3b3b"/><stop offset="0.077" stop-color="#414141"/><stop offset="0.169" stop-color="#4d4d4d"/><stop offset="0.235" stop-color="#595959"/><stop offset="0.257" stop-color="#5e5e5e"/><stop offset="0.29" stop-color="#696969"/><stop offset="0.309" stop-color="#6b6b6b"/><stop offset="0.32" stop-color="#6a6a6a"/><stop offset="0.331" stop-color="#676767"/><stop offset="0.376" stop-color="#565656"/><stop offset="0.42" stop-color="#494949"/><stop offset="0.459" stop-color="#404040"/><stop offset="0.489" stop-color="#3b3b3b"/><stop offset="0.53" stop-color="#3a3a3a"/><stop offset="0.602" stop-color="#3d3d3d"/><stop offset="0.624" stop-color="#404040"/><stop offset="0.671" stop-color="#4c4c4c"/><stop offset="0.693" stop-color="#4e4e4e"/><stop offset="0.713" stop-color="#4b4b4b"/><stop offset="0.749" stop-color="#434343"/><stop offset="0.785" stop-color="#3c3c3c"/><stop offset="0.84" stop-color="#343434"/><stop offset="0.928" stop-color="#2c2c2c"/><stop offset="1" stop-color="#292929"/></linearGradient><linearGradient id="h106"><stop offset="0" stop-color="#3a3a3a"/><stop offset="0.072" stop-color="#3f3f3f"/><stop offset="0.169" stop-color="#4b4b4b"/><stop offset="0.238" stop-color="#585858"/><stop offset="0.26" stop-color="#5d5d5d"/><stop offset="0.293" stop-color="#676767"/><stop offset="0.312" stop-color="#696969"/><stop offset="0.323" stop-color="#686868"/><stop offset="0.334" stop-color="#656565"/><stop offset="0.376" stop-color="#555555"/><stop offset="0.42" stop-color="#484848"/><stop offset="0.459" stop-color="#3f3f3f"/><stop offset="0.489" stop-color="#3a3a3a"/><stop offset="0.53" stop-color="#3a3a3a"/><stop offset="0.602" stop-color="#3c3c3c"/><stop offset="0.622" stop-color="#3f3f3f"/><stop offset="0.669" stop-color="#4a4a4a"/><stop offset="0.693" stop-color="#4c4c4c"/><stop offset="0.71" stop-color="#4a4a4a"/><stop offset="0.779" stop-color="#3c3c3c"/><stop offset="0.837" stop-color="#333333"/><stop offset="0.928" stop-color="#2b2b2b"/><stop offset="1" stop-color="#282828"/></linearGradient><linearGradient id="h107"><stop offset="0" stop-color="#393939"/><stop offset="0.069" stop-color="#3d3d3d"/><stop offset="0.169" stop-color="#4a4a4a"/><stop offset="0.238" stop-color="#565656"/><stop offset="0.26" stop-color="#5b5b5b"/><stop offset="0.296" stop-color="#656565"/><stop offset="0.315" stop-color="#676767"/><stop offset="0.334" stop-color="#646464"/><stop offset="0.378" stop-color="#545454"/><stop offset="0.423" stop-color="#474747"/><stop offset="0.461" stop-color="#3e3e3e"/><stop offset="0.489" stop-color="#3a3a3a"/><stop offset="0.528" stop-color="#393939"/><stop offset="0.599" stop-color="#3b3b3b"/><stop offset="0.622" stop-color="#3e3e3e"/><stop offset="0.669" stop-color="#494949"/><stop offset="0.691" stop-color="#4a4a4a"/><stop offset="0.707" stop-color="#494949"/><stop offset="0.782" stop-color="#3a3a3a"/><stop offset="0.834" stop-color="#323232"/><stop offset="0.928" stop-color="#2a2a2a"/><stop offset="1" stop-color="#282828"/></linearGradient><linearGradient id="h108"><stop offset="0" stop-color="#383838"/><stop offset="0.03" stop-color="#393939"/><stop offset="0.066" stop-color="#3c3c3c"/><stop offset="0.166" stop-color="#484848"/><stop offset="0.238" stop-color="#545454"/><stop offset="0.262" stop-color="#595959"/><stop offset="0.298" stop-color="#636363"/><stop offset="0.318" stop-color="#656565"/><stop offset="0.337" stop-color="#626262"/><stop offset="0.381" stop-color="#525252"/><stop offset="0.423" stop-color="#464646"/><stop offset="0.464" stop-color="#3d3d3d"/><stop offset="0.492" stop-color="#393939"/><stop offset="0.533" stop-color="#383838"/><stop offset="0.599" stop-color="#3a3a3a"/><stop offset="0.619" stop-color="#3d3d3d"/><stop offset="0.666" stop-color="#474747"/><stop offset="0.688" stop-color="#494949"/><stop offset="0.704" stop-color="#474747"/><stop offset="0.782" stop-color="#393939"/><stop offset="0.831" stop-color="#323232"/><stop offset="0.925" stop-color="#2a2a2a"/><stop offset="1" stop-color="#272727"/></linearGradient><linearGradient id="h109"><stop offset="0" stop-color="#373737"/><stop offset="0.064" stop-color="#3a3a3a"/><stop offset="0.166" stop-color="#464646"/><stop offset="0.24" stop-color="#535353"/><stop offset="0.265" stop-color="#585858"/><stop offset="0.301" stop-color="#626262"/><stop offset="0.318" stop-color="#636363"/><stop offset="0.329" stop-color="#636363"/><stop offset="0.34" stop-color="#606060"/><stop offset="0.384" stop-color="#505050"/><stop offset="0.425" stop-color="#444444"/><stop offset="0.464" stop-color="#3c3c3c"/><stop offset="0.492" stop-color="#383838"/><stop offset="0.533" stop-color="#373737"/><stop offset="0.599" stop-color="#3a3a3a"/><stop offset="0.619" stop-color="#3c3c3c"/><stop offset="0.663" stop-color="#464646"/><stop offset="0.685" stop-color="#484848"/><stop offset="0.702" stop-color="#464646"/><stop offset="0.785" stop-color="#373737"/><stop offset="0.831" stop-color="#313131"/><stop offset="0.925" stop-color="#292929"/><stop offset="1" stop-color="#272727"/></linearGradient><linearGradient id="h110"><stop offset="0" stop-color="#363636"/><stop offset="0.064" stop-color="#393939"/><stop offset="0.163" stop-color="#444444"/><stop offset="0.238" stop-color="#505050"/><stop offset="0.265" stop-color="#565656"/><stop offset="0.304" stop-color="#606060"/><stop offset="0.32" stop-color="#626262"/><stop offset="0.331" stop-color="#616161"/><stop offset="0.343" stop-color="#5e5e5e"/><stop offset="0.387" stop-color="#4e4e4e"/><stop offset="0.428" stop-color="#434343"/><stop offset="0.467" stop-color="#3b3b3b"/><stop offset="0.492" stop-color="#373737"/><stop offset="0.533" stop-color="#373737"/><stop offset="0.597" stop-color="#393939"/><stop offset="0.616" stop-color="#3b3b3b"/><stop offset="0.66" stop-color="#454545"/><stop offset="0.685" stop-color="#464646"/><stop offset="0.702" stop-color="#444444"/><stop offset="0.779" stop-color="#373737"/><stop offset="0.829" stop-color="#303030"/><stop offset="0.923" stop-color="#292929"/><stop offset="1" stop-color="#262626"/></linearGradient><linearGradient id="h111"><stop offset="0" stop-color="#363636"/><stop offset="0.061" stop-color="#383838"/><stop offset="0.157" stop-color="#424242"/><stop offset="0.232" stop-color="#4e4e4e"/><stop offset="0.268" stop-color="#555555"/><stop offset="0.304" stop-color="#5e5e5e"/><stop offset="0.323" stop-color="#606060"/><stop offset="0.345" stop-color="#5c5c5c"/><stop offset="0.39" stop-color="#4d4d4d"/><stop offset="0.428" stop-color="#424242"/><stop offset="0.467" stop-color="#3a3a3a"/><stop offset="0.492" stop-color="#363636"/><stop offset="0.53" stop-color="#363636"/><stop offset="0.594" stop-color="#383838"/><stop offset="0.613" stop-color="#3a3a3a"/><stop offset="0.66" stop-color="#444444"/><stop offset="0.682" stop-color="#454545"/><stop offset="0.699" stop-color="#434343"/><stop offset="0.779" stop-color="#353535"/><stop offset="0.826" stop-color="#303030"/><stop offset="0.923" stop-color="#282828"/><stop offset="1" stop-color="#262626"/></linearGradient><linearGradient id="h112"><stop offset="0" stop-color="#353535"/><stop offset="0.064" stop-color="#373737"/><stop offset="0.157" stop-color="#414141"/><stop offset="0.229" stop-color="#4b4b4b"/><stop offset="0.268" stop-color="#535353"/><stop offset="0.307" stop-color="#5c5c5c"/><stop offset="0.326" stop-color="#5e5e5e"/><stop offset="0.348" stop-color="#5a5a5a"/><stop offset="0.39" stop-color="#4c4c4c"/><stop offset="0.428" stop-color="#414141"/><stop offset="0.464" stop-color="#393939"/><stop offset="0.492" stop-color="#363636"/><stop offset="0.53" stop-color="#353535"/><stop offset="0.594" stop-color="#373737"/><stop offset="0.613" stop-color="#3a3a3a"/><stop offset="0.657" stop-color="#424242"/><stop offset="0.68" stop-color="#434343"/><stop offset="0.696" stop-color="#424242"/><stop offset="0.779" stop-color="#343434"/><stop offset="0.823" stop-color="#2f2f2f"/><stop offset="0.92" stop-color="#282828"/><stop offset="1" stop-color="#262626"/></linearGradient><linearGradient id="h113"><stop offset="0" stop-color="#343434"/><stop offset="0.064" stop-color="#363636"/><stop offset="0.155" stop-color="#3f3f3f"/><stop offset="0.224" stop-color="#494949"/><stop offset="0.271" stop-color="#515151"/><stop offset="0.309" stop-color="#5a5a5a"/><stop offset="0.329" stop-color="#5c5c5c"/><stop offset="0.351" stop-color="#585858"/><stop offset="0.395" stop-color="#494949"/><stop offset="0.431" stop-color="#3f3f3f"/><stop offset="0.467" stop-color="#383838"/><stop offset="0.492" stop-color="#353535"/><stop offset="0.528" stop-color="#353535"/><stop offset="0.591" stop-color="#373737"/><stop offset="0.61" stop-color="#393939"/><stop offset="0.655" stop-color="#414141"/><stop offset="0.677" stop-color="#424242"/><stop offset="0.693" stop-color="#414141"/><stop offset="0.779" stop-color="#333333"/><stop offset="0.823" stop-color="#2e2e2e"/><stop offset="0.917" stop-color="#272727"/><stop offset="1" stop-color="#252525"/></linearGradient><linearGradient id="h114"><stop offset="0" stop-color="#333333"/><stop offset="0.069" stop-color="#353535"/><stop offset="0.155" stop-color="#3d3d3d"/><stop offset="0.24" stop-color="#4a4a4a"/><stop offset="0.315" stop-color="#595959"/><stop offset="0.331" stop-color="#5a5a5a"/><stop offset="0.354" stop-color="#565656"/><stop offset="0.398" stop-color="#474747"/><stop offset="0.431" stop-color="#3e3e3e"/><stop offset="0.464" stop-color="#383838"/><stop offset="0.492" stop-color="#343434"/><stop offset="0.53" stop-color="#343434"/><stop offset="0.591" stop-color="#363636"/><stop offset="0.652" stop-color="#3f3f3f"/><stop offset="0.677" stop-color="#414141"/><stop offset="0.773" stop-color="#333333"/><stop offset="0.82" stop-color="#2e2e2e"/><stop offset="0.914" stop-color="#272727"/><stop offset="1" stop-color="#252525"/></linearGradient><linearGradient id="h115"><stop offset="0" stop-color="#323232"/><stop offset="0.072" stop-color="#343434"/><stop offset="0.157" stop-color="#3c3c3c"/><stop offset="0.221" stop-color="#454545"/><stop offset="0.273" stop-color="#4e4e4e"/><stop offset="0.315" stop-color="#575757"/><stop offset="0.331" stop-color="#585858"/><stop offset="0.354" stop-color="#555555"/><stop offset="0.401" stop-color="#464646"/><stop offset="0.431" stop-color="#3d3d3d"/><stop offset="0.461" stop-color="#373737"/><stop offset="0.489" stop-color="#343434"/><stop offset="0.525" stop-color="#333333"/><stop offset="0.588" stop-color="#353535"/><stop offset="0.652" stop-color="#3e3e3e"/><stop offset="0.674" stop-color="#3f3f3f"/><stop offset="0.773" stop-color="#323232"/><stop offset="0.82" stop-color="#2d2d2d"/><stop offset="0.912" stop-color="#272727"/><stop offset="1" stop-color="#242424"/></linearGradient><linearGradient id="h116"><stop offset="0" stop-color="#313131"/><stop offset="0.075" stop-color="#343434"/><stop offset="0.16" stop-color="#3b3b3b"/><stop offset="0.235" stop-color="#464646"/><stop offset="0.318" stop-color="#555555"/><stop offset="0.334" stop-color="#565656"/><stop offset="0.356" stop-color="#535353"/><stop offset="0.406" stop-color="#434343"/><stop offset="0.434" stop-color="#3c3c3c"/><stop offset="0.489" stop-color="#333333"/><stop offset="0.522" stop-color="#323232"/><stop offset="0.586" stop-color="#343434"/><stop offset="0.649" stop-color="#3d3d3d"/><stop offset="0.671" stop-color="#3e3e3e"/><stop offset="0.773" stop-color="#313131"/><stop offset="0.82" stop-color="#2c2c2c"/><stop offset="0.909" stop-color="#262626"/><stop offset="1" stop-color="#242424"/></linearGradient><linearGradient id="h117"><stop offset="0" stop-color="#303030"/><stop offset="0.08" stop-color="#333333"/><stop offset="0.16" stop-color="#3a3a3a"/><stop offset="0.229" stop-color="#434343"/><stop offset="0.318" stop-color="#535353"/><stop offset="0.337" stop-color="#545454"/><stop offset="0.359" stop-color="#515151"/><stop offset="0.409" stop-color="#414141"/><stop offset="0.434" stop-color="#3b3b3b"/><stop offset="0.489" stop-color="#323232"/><stop offset="0.522" stop-color="#323232"/><stop offset="0.583" stop-color="#343434"/><stop offset="0.646" stop-color="#3b3b3b"/><stop offset="0.669" stop-color="#3c3c3c"/><stop offset="0.688" stop-color="#3b3b3b"/><stop offset="0.773" stop-color="#303030"/><stop offset="0.82" stop-color="#2c2c2c"/><stop offset="0.906" stop-color="#262626"/><stop offset="1" stop-color="#232323"/></linearGradient><linearGradient id="h118"><stop offset="0" stop-color="#2f2f2f"/><stop offset="0.083" stop-color="#323232"/><stop offset="0.163" stop-color="#393939"/><stop offset="0.227" stop-color="#414141"/><stop offset="0.32" stop-color="#515151"/><stop offset="0.34" stop-color="#535353"/><stop offset="0.362" stop-color="#4f4f4f"/><stop offset="0.434" stop-color="#3a3a3a"/><stop offset="0.489" stop-color="#313131"/><stop offset="0.519" stop-color="#313131"/><stop offset="0.58" stop-color="#333333"/><stop offset="0.646" stop-color="#3a3a3a"/><stop offset="0.669" stop-color="#3b3b3b"/><stop offset="0.771" stop-color="#2f2f2f"/><stop offset="0.82" stop-color="#2b2b2b"/><stop offset="0.903" stop-color="#262626"/><stop offset="1" stop-color="#222222"/></linearGradient><linearGradient id="h119"><stop offset="0" stop-color="#2e2e2e"/><stop offset="0.088" stop-color="#313131"/><stop offset="0.169" stop-color="#383838"/><stop offset="0.227" stop-color="#404040"/><stop offset="0.32" stop-color="#4f4f4f"/><stop offset="0.34" stop-color="#515151"/><stop offset="0.351" stop-color="#505050"/><stop offset="0.365" stop-color="#4d4d4d"/><stop offset="0.436" stop-color="#383838"/><stop offset="0.489" stop-color="#313131"/><stop offset="0.519" stop-color="#303030"/><stop offset="0.577" stop-color="#323232"/><stop offset="0.644" stop-color="#393939"/><stop offset="0.666" stop-color="#3a3a3a"/><stop offset="0.768" stop-color="#2e2e2e"/><stop offset="0.823" stop-color="#2a2a2a"/><stop offset="0.901" stop-color="#252525"/><stop offset="1" stop-color="#222222"/></linearGradient><linearGradient id="h120"><stop offset="0" stop-color="#2d2d2d"/><stop offset="0.091" stop-color="#303030"/><stop offset="0.171" stop-color="#373737"/><stop offset="0.224" stop-color="#3e3e3e"/><stop offset="0.323" stop-color="#4d4d4d"/><stop offset="0.343" stop-color="#4f4f4f"/><stop offset="0.367" stop-color="#4c4c4c"/><stop offset="0.436" stop-color="#373737"/><stop offset="0.489" stop-color="#303030"/><stop offset="0.519" stop-color="#2f2f2f"/><stop offset="0.572" stop-color="#313131"/><stop offset="0.641" stop-color="#373737"/><stop offset="0.666" stop-color="#383838"/><stop offset="0.765" stop-color="#2e2e2e"/><stop offset="0.82" stop-color="#2a2a2a"/><stop offset="0.898" stop-color="#252525"/><stop offset="1" stop-color="#212121"/></linearGradient><linearGradient id="h121"><stop offset="0" stop-color="#2c2c2c"/><stop offset="0.094" stop-color="#303030"/><stop offset="0.174" stop-color="#363636"/><stop offset="0.224" stop-color="#3c3c3c"/><stop offset="0.323" stop-color="#4b4b4b"/><stop offset="0.345" stop-color="#4d4d4d"/><stop offset="0.37" stop-color="#4a4a4a"/><stop offset="0.439" stop-color="#363636"/><stop offset="0.489" stop-color="#2f2f2f"/><stop offset="0.517" stop-color="#2f2f2f"/><stop offset="0.566" stop-color="#303030"/><stop offset="0.641" stop-color="#363636"/><stop offset="0.663" stop-color="#373737"/><stop offset="0.765" stop-color="#2d2d2d"/><stop offset="0.823" stop-color="#292929"/><stop offset="1" stop-color="#202020"/></linearGradient><linearGradient id="h122"><stop offset="0" stop-color="#2b2b2b"/><stop offset="0.097" stop-color="#2f2f2f"/><stop offset="0.177" stop-color="#353535"/><stop offset="0.224" stop-color="#3b3b3b"/><stop offset="0.323" stop-color="#494949"/><stop offset="0.348" stop-color="#4b4b4b"/><stop offset="0.373" stop-color="#484848"/><stop offset="0.439" stop-color="#353535"/><stop offset="0.489" stop-color="#2e2e2e"/><stop offset="0.552" stop-color="#2f2f2f"/><stop offset="0.638" stop-color="#353535"/><stop offset="0.663" stop-color="#353535"/><stop offset="0.82" stop-color="#282828"/><stop offset="1" stop-color="#1f1f1f"/></linearGradient><linearGradient id="h123"><stop offset="0" stop-color="#292929"/><stop offset="0.099" stop-color="#2e2e2e"/><stop offset="0.18" stop-color="#343434"/><stop offset="0.224" stop-color="#393939"/><stop offset="0.32" stop-color="#474747"/><stop offset="0.351" stop-color="#494949"/><stop offset="0.376" stop-color="#464646"/><stop offset="0.439" stop-color="#343434"/><stop offset="0.486" stop-color="#2e2e2e"/><stop offset="0.541" stop-color="#2e2e2e"/><stop offset="0.638" stop-color="#343434"/><stop offset="0.663" stop-color="#343434"/><stop offset="0.818" stop-color="#282828"/><stop offset="1" stop-color="#1f1f1f"/></linearGradient><linearGradient id="h124"><stop offset="0" stop-color="#282828"/><stop offset="0.099" stop-color="#2d2d2d"/><stop offset="0.185" stop-color="#333333"/><stop offset="0.227" stop-color="#383838"/><stop offset="0.318" stop-color="#454545"/><stop offset="0.351" stop-color="#474747"/><stop offset="0.365" stop-color="#474747"/><stop offset="0.378" stop-color="#444444"/><stop offset="0.442" stop-color="#333333"/><stop offset="0.486" stop-color="#2d2d2d"/><stop offset="0.533" stop-color="#2d2d2d"/><stop offset="0.635" stop-color="#323232"/><stop offset="0.663" stop-color="#333333"/><stop offset="0.818" stop-color="#272727"/><stop offset="1" stop-color="#1e1e1e"/></linearGradient><linearGradient id="h125"><stop offset="0" stop-color="#272727"/><stop offset="0.094" stop-color="#2c2c2c"/><stop offset="0.188" stop-color="#323232"/><stop offset="0.227" stop-color="#363636"/><stop offset="0.318" stop-color="#434343"/><stop offset="0.354" stop-color="#464646"/><stop offset="0.381" stop-color="#424242"/><stop offset="0.442" stop-color="#323232"/><stop offset="0.486" stop-color="#2c2c2c"/><stop offset="0.528" stop-color="#2c2c2c"/><stop offset="0.63" stop-color="#313131"/><stop offset="0.663" stop-color="#313131"/><stop offset="0.82" stop-color="#262626"/><stop offset="1" stop-color="#1d1d1d"/></linearGradient><linearGradient id="h126"><stop offset="0" stop-color="#262626"/><stop offset="0.088" stop-color="#2a2a2a"/><stop offset="0.191" stop-color="#313131"/><stop offset="0.229" stop-color="#353535"/><stop offset="0.318" stop-color="#424242"/><stop offset="0.356" stop-color="#444444"/><stop offset="0.384" stop-color="#414141"/><stop offset="0.442" stop-color="#313131"/><stop offset="0.486" stop-color="#2c2c2c"/><stop offset="0.525" stop-color="#2b2b2b"/><stop offset="0.627" stop-color="#303030"/><stop offset="0.663" stop-color="#303030"/><stop offset="0.831" stop-color="#252525"/><stop offset="1" stop-color="#1c1c1c"/></linearGradient><linearGradient id="h127"><stop offset="0" stop-color="#262626"/><stop offset="0.083" stop-color="#292929"/><stop offset="0.191" stop-color="#303030"/><stop offset="0.232" stop-color="#343434"/><stop offset="0.318" stop-color="#404040"/><stop offset="0.359" stop-color="#424242"/><stop offset="0.387" stop-color="#3f3f3f"/><stop offset="0.445" stop-color="#303030"/><stop offset="0.486" stop-color="#2b2b2b"/><stop offset="0.522" stop-color="#2b2b2b"/><stop offset="0.624" stop-color="#2f2f2f"/><stop offset="0.663" stop-color="#2f2f2f"/><stop offset="0.856" stop-color="#232323"/><stop offset="1" stop-color="#1c1c1c"/></linearGradient><linearGradient id="h128"><stop offset="0" stop-color="#252525"/><stop offset="0.08" stop-color="#282828"/><stop offset="0.188" stop-color="#2f2f2f"/><stop offset="0.232" stop-color="#333333"/><stop offset="0.32" stop-color="#3f3f3f"/><stop offset="0.362" stop-color="#414141"/><stop offset="0.39" stop-color="#3e3e3e"/><stop offset="0.445" stop-color="#2f2f2f"/><stop offset="0.486" stop-color="#2a2a2a"/><stop offset="0.522" stop-color="#2a2a2a"/><stop offset="0.619" stop-color="#2e2e2e"/><stop offset="0.66" stop-color="#2e2e2e"/><stop offset="0.89" stop-color="#212121"/><stop offset="1" stop-color="#1c1c1c"/></linearGradient><linearGradient id="h129"><stop offset="0" stop-color="#242424"/><stop offset="0.075" stop-color="#272727"/><stop offset="0.182" stop-color="#2d2d2d"/><stop offset="0.235" stop-color="#323232"/><stop offset="0.323" stop-color="#3d3d3d"/><stop offset="0.362" stop-color="#404040"/><stop offset="0.39" stop-color="#3d3d3d"/><stop offset="0.448" stop-color="#2e2e2e"/><stop offset="0.486" stop-color="#2a2a2a"/><stop offset="0.519" stop-color="#292929"/><stop offset="0.616" stop-color="#2d2d2d"/><stop offset="0.657" stop-color="#2e2e2e"/><stop offset="0.92" stop-color="#1e1e1e"/><stop offset="1" stop-color="#1b1b1b"/></linearGradient><linearGradient id="h130"><stop offset="0" stop-color="#242424"/><stop offset="0.072" stop-color="#252525"/><stop offset="0.177" stop-color="#2c2c2c"/><stop offset="0.238" stop-color="#313131"/><stop offset="0.326" stop-color="#3c3c3c"/><stop offset="0.365" stop-color="#3e3e3e"/><stop offset="0.392" stop-color="#3b3b3b"/><stop offset="0.448" stop-color="#2d2d2d"/><stop offset="0.489" stop-color="#292929"/><stop offset="0.522" stop-color="#292929"/><stop offset="0.613" stop-color="#2d2d2d"/><stop offset="0.655" stop-color="#2d2d2d"/><stop offset="0.928" stop-color="#1d1d1d"/><stop offset="1" stop-color="#1b1b1b"/></linearGradient><linearGradient id="h131"><stop offset="0" stop-color="#232323"/><stop offset="0.069" stop-color="#252525"/><stop offset="0.171" stop-color="#2a2a2a"/><stop offset="0.238" stop-color="#303030"/><stop offset="0.329" stop-color="#3b3b3b"/><stop offset="0.367" stop-color="#3d3d3d"/><stop offset="0.392" stop-color="#3b3b3b"/><stop offset="0.45" stop-color="#2c2c2c"/><stop offset="0.489" stop-color="#282828"/><stop offset="0.519" stop-color="#282828"/><stop offset="0.61" stop-color="#2c2c2c"/><stop offset="0.652" stop-color="#2c2c2c"/><stop offset="0.925" stop-color="#1d1d1d"/><stop offset="1" stop-color="#1b1b1b"/></linearGradient><linearGradient id="h132"><stop offset="0" stop-color="#222222"/><stop offset="0.072" stop-color="#242424"/><stop offset="0.169" stop-color="#292929"/><stop offset="0.24" stop-color="#2f2f2f"/><stop offset="0.331" stop-color="#3a3a3a"/><stop offset="0.37" stop-color="#3c3c3c"/><stop offset="0.395" stop-color="#393939"/><stop offset="0.45" stop-color="#2c2c2c"/><stop offset="0.489" stop-color="#282828"/><stop offset="0.519" stop-color="#282828"/><stop offset="0.608" stop-color="#2b2b2b"/><stop offset="0.649" stop-color="#2b2b2b"/><stop offset="0.923" stop-color="#1c1c1c"/><stop offset="1" stop-color="#1a1a1a"/></linearGradient><linearGradient id="h133"><stop offset="0" stop-color="#222222"/><stop offset="0.075" stop-color="#232323"/><stop offset="0.169" stop-color="#282828"/><stop offset="0.243" stop-color="#2e2e2e"/><stop offset="0.334" stop-color="#383838"/><stop offset="0.373" stop-color="#3a3a3a"/><stop offset="0.398" stop-color="#383838"/><stop offset="0.453" stop-color="#2b2b2b"/><stop offset="0.489" stop-color="#272727"/><stop offset="0.519" stop-color="#272727"/><stop offset="0.605" stop-color="#2a2a2a"/><stop offset="0.646" stop-color="#2b2b2b"/><stop offset="0.917" stop-color="#1c1c1c"/><stop offset="1" stop-color="#1a1a1a"/></linearGradient><linearGradient id="h134"><stop offset="0" stop-color="#212121"/><stop offset="0.077" stop-color="#222222"/><stop offset="0.169" stop-color="#272727"/><stop offset="0.246" stop-color="#2d2d2d"/><stop offset="0.337" stop-color="#373737"/><stop offset="0.373" stop-color="#393939"/><stop offset="0.398" stop-color="#373737"/><stop offset="0.453" stop-color="#2a2a2a"/><stop offset="0.489" stop-color="#272727"/><stop offset="0.519" stop-color="#262626"/><stop offset="0.605" stop-color="#2a2a2a"/><stop offset="0.646" stop-color="#2a2a2a"/><stop offset="0.909" stop-color="#1c1c1c"/><stop offset="1" stop-color="#1a1a1a"/></linearGradient><linearGradient id="h135"><stop offset="0" stop-color="#202020"/><stop offset="0.083" stop-color="#222222"/><stop offset="0.171" stop-color="#262626"/><stop offset="0.251" stop-color="#2c2c2c"/><stop offset="0.34" stop-color="#363636"/><stop offset="0.376" stop-color="#383838"/><stop offset="0.401" stop-color="#353535"/><stop offset="0.456" stop-color="#292929"/><stop offset="0.492" stop-color="#262626"/><stop offset="0.525" stop-color="#262626"/><stop offset="0.608" stop-color="#292929"/><stop offset="0.644" stop-color="#292929"/><stop offset="0.903" stop-color="#1b1b1b"/><stop offset="1" stop-color="#191919"/></linearGradient><linearGradient id="h136"><stop offset="0" stop-color="#202020"/><stop offset="0.088" stop-color="#212121"/><stop offset="0.174" stop-color="#252525"/><stop offset="0.254" stop-color="#2b2b2b"/><stop offset="0.343" stop-color="#353535"/><stop offset="0.378" stop-color="#363636"/><stop offset="0.403" stop-color="#343434"/><stop offset="0.456" stop-color="#292929"/><stop offset="0.492" stop-color="#252525"/><stop offset="0.641" stop-color="#292929"/><stop offset="0.898" stop-color="#1b1b1b"/><stop offset="1" stop-color="#191919"/></linearGradient><linearGradient id="h137"><stop offset="0" stop-color="#1f1f1f"/><stop offset="0.094" stop-color="#212121"/><stop offset="0.174" stop-color="#242424"/><stop offset="0.254" stop-color="#2a2a2a"/><stop offset="0.345" stop-color="#333333"/><stop offset="0.381" stop-color="#353535"/><stop offset="0.406" stop-color="#333333"/><stop offset="0.459" stop-color="#282828"/><stop offset="0.492" stop-color="#252525"/><stop offset="0.638" stop-color="#282828"/><stop offset="0.89" stop-color="#1b1b1b"/><stop offset="1" stop-color="#181818"/></linearGradient><linearGradient id="h138"><stop offset="0" stop-color="#1e1e1e"/><stop offset="0.099" stop-color="#202020"/><stop offset="0.18" stop-color="#242424"/><stop offset="0.26" stop-color="#292929"/><stop offset="0.345" stop-color="#323232"/><stop offset="0.381" stop-color="#343434"/><stop offset="0.403" stop-color="#323232"/><stop offset="0.456" stop-color="#282828"/><stop offset="0.492" stop-color="#242424"/><stop offset="0.635" stop-color="#272727"/><stop offset="0.884" stop-color="#1a1a1a"/><stop offset="1" stop-color="#181818"/></linearGradient><linearGradient id="h139"><stop offset="0" stop-color="#1d1d1d"/><stop offset="0.105" stop-color="#1f1f1f"/><stop offset="0.182" stop-color="#232323"/><stop offset="0.26" stop-color="#282828"/><stop offset="0.348" stop-color="#313131"/><stop offset="0.384" stop-color="#323232"/><stop offset="0.406" stop-color="#313131"/><stop offset="0.456" stop-color="#272727"/><stop offset="0.492" stop-color="#232323"/><stop offset="0.633" stop-color="#262626"/><stop offset="0.876" stop-color="#1a1a1a"/><stop offset="1" stop-color="#181818"/></linearGradient><linearGradient id="h140"><stop offset="0" stop-color="#1c1c1c"/><stop offset="0.108" stop-color="#1f1f1f"/><stop offset="0.185" stop-color="#222222"/><stop offset="0.262" stop-color="#272727"/><stop offset="0.351" stop-color="#303030"/><stop offset="0.387" stop-color="#313131"/><stop offset="0.409" stop-color="#303030"/><stop offset="0.459" stop-color="#262626"/><stop offset="0.494" stop-color="#232323"/><stop offset="0.63" stop-color="#262626"/><stop offset="0.867" stop-color="#1a1a1a"/><stop offset="1" stop-color="#171717"/></linearGradient><linearGradient id="h141"><stop offset="0" stop-color="#1c1c1c"/><stop offset="0.113" stop-color="#1e1e1e"/><stop offset="0.191" stop-color="#212121"/><stop offset="0.262" stop-color="#262626"/><stop offset="0.351" stop-color="#2e2e2e"/><stop offset="0.39" stop-color="#303030"/><stop offset="0.412" stop-color="#2e2e2e"/><stop offset="0.461" stop-color="#252525"/><stop offset="0.494" stop-color="#222222"/><stop offset="0.594" stop-color="#252525"/><stop offset="0.63" stop-color="#252525"/><stop offset="0.862" stop-color="#191919"/><stop offset="1" stop-color="#171717"/></linearGradient><linearGradient id="h142"><stop offset="0" stop-color="#1b1b1b"/><stop offset="0.119" stop-color="#1d1d1d"/><stop offset="0.196" stop-color="#212121"/><stop offset="0.262" stop-color="#252525"/><stop offset="0.354" stop-color="#2d2d2d"/><stop offset="0.39" stop-color="#2e2e2e"/><stop offset="0.412" stop-color="#2d2d2d"/><stop offset="0.464" stop-color="#242424"/><stop offset="0.494" stop-color="#212121"/><stop offset="0.627" stop-color="#242424"/><stop offset="0.854" stop-color="#191919"/><stop offset="1" stop-color="#161616"/></linearGradient><linearGradient id="h143"><stop offset="0" stop-color="#1a1a1a"/><stop offset="0.199" stop-color="#202020"/><stop offset="0.354" stop-color="#2c2c2c"/><stop offset="0.392" stop-color="#2d2d2d"/><stop offset="0.414" stop-color="#2c2c2c"/><stop offset="0.467" stop-color="#232323"/><stop offset="0.494" stop-color="#212121"/><stop offset="0.624" stop-color="#242424"/><stop offset="0.843" stop-color="#191919"/><stop offset="1" stop-color="#151515"/></linearGradient><linearGradient id="h144"><stop offset="0" stop-color="#191919"/><stop offset="0.204" stop-color="#1f1f1f"/><stop offset="0.354" stop-color="#2a2a2a"/><stop offset="0.395" stop-color="#2c2c2c"/><stop offset="0.417" stop-color="#2b2b2b"/><stop offset="0.467" stop-color="#232323"/><stop offset="0.494" stop-color="#202020"/><stop offset="0.588" stop-color="#232323"/><stop offset="0.624" stop-color="#232323"/><stop offset="0.831" stop-color="#191919"/><stop offset="1" stop-color="#151515"/></linearGradient><linearGradient id="h145"><stop offset="0" stop-color="#181818"/><stop offset="0.207" stop-color="#1f1f1f"/><stop offset="0.356" stop-color="#292929"/><stop offset="0.398" stop-color="#2a2a2a"/><stop offset="0.42" stop-color="#292929"/><stop offset="0.47" stop-color="#222222"/><stop offset="0.494" stop-color="#202020"/><stop offset="0.622" stop-color="#222222"/><stop offset="0.815" stop-color="#191919"/><stop offset="1" stop-color="#141414"/></linearGradient><linearGradient id="h146"><stop offset="0" stop-color="#171717"/><stop offset="0.213" stop-color="#1e1e1e"/><stop offset="0.356" stop-color="#282828"/><stop offset="0.398" stop-color="#292929"/><stop offset="0.423" stop-color="#282828"/><stop offset="0.472" stop-color="#212121"/><stop offset="0.497" stop-color="#1f1f1f"/><stop offset="0.583" stop-color="#212121"/><stop offset="0.622" stop-color="#212121"/><stop offset="0.804" stop-color="#191919"/><stop offset="1" stop-color="#141414"/></linearGradient><linearGradient id="h147"><stop offset="0" stop-color="#161616"/><stop offset="0.215" stop-color="#1d1d1d"/><stop offset="0.356" stop-color="#262626"/><stop offset="0.401" stop-color="#282828"/><stop offset="0.425" stop-color="#272727"/><stop offset="0.475" stop-color="#202020"/><stop offset="0.497" stop-color="#1e1e1e"/><stop offset="0.583" stop-color="#212121"/><stop offset="0.619" stop-color="#202020"/><stop offset="0.796" stop-color="#191919"/><stop offset="1" stop-color="#131313"/></linearGradient><linearGradient id="h148"><stop offset="0" stop-color="#161616"/><stop offset="0.088" stop-color="#181818"/><stop offset="0.215" stop-color="#1c1c1c"/><stop offset="0.359" stop-color="#252525"/><stop offset="0.403" stop-color="#272727"/><stop offset="0.428" stop-color="#252525"/><stop offset="0.475" stop-color="#1f1f1f"/><stop offset="0.497" stop-color="#1d1d1d"/><stop offset="0.58" stop-color="#202020"/><stop offset="0.616" stop-color="#202020"/><stop offset="0.79" stop-color="#181818"/><stop offset="1" stop-color="#131313"/></linearGradient><linearGradient id="h149"><stop offset="0" stop-color="#151515"/><stop offset="0.08" stop-color="#171717"/><stop offset="0.21" stop-color="#1b1b1b"/><stop offset="0.365" stop-color="#242424"/><stop offset="0.406" stop-color="#252525"/><stop offset="0.431" stop-color="#242424"/><stop offset="0.475" stop-color="#1e1e1e"/><stop offset="0.497" stop-color="#1c1c1c"/><stop offset="0.577" stop-color="#1f1f1f"/><stop offset="0.613" stop-color="#1f1f1f"/><stop offset="0.79" stop-color="#171717"/><stop offset="1" stop-color="#121212"/></linearGradient><linearGradient id="h150"><stop offset="0" stop-color="#151515"/><stop offset="0.075" stop-color="#161616"/><stop offset="0.199" stop-color="#1a1a1a"/><stop offset="0.271" stop-color="#1d1d1d"/><stop offset="0.367" stop-color="#232323"/><stop offset="0.409" stop-color="#242424"/><stop offset="0.431" stop-color="#232323"/><stop offset="0.497" stop-color="#1c1c1c"/><stop offset="0.61" stop-color="#1e1e1e"/><stop offset="0.793" stop-color="#171717"/><stop offset="1" stop-color="#121212"/></linearGradient><linearGradient id="h151"><stop offset="0" stop-color="#151515"/><stop offset="0.077" stop-color="#151515"/><stop offset="0.196" stop-color="#191919"/><stop offset="0.409" stop-color="#232323"/><stop offset="0.434" stop-color="#222222"/><stop offset="0.497" stop-color="#1b1b1b"/><stop offset="0.605" stop-color="#1d1d1d"/><stop offset="0.807" stop-color="#151515"/><stop offset="1" stop-color="#121212"/></linearGradient><linearGradient id="h152"><stop offset="0" stop-color="#141414"/><stop offset="0.08" stop-color="#151515"/><stop offset="0.188" stop-color="#181818"/><stop offset="0.412" stop-color="#222222"/><stop offset="0.436" stop-color="#212121"/><stop offset="0.497" stop-color="#1a1a1a"/><stop offset="0.602" stop-color="#1c1c1c"/><stop offset="0.818" stop-color="#151515"/><stop offset="1" stop-color="#121212"/></linearGradient><linearGradient id="h153"><stop offset="0" stop-color="#141414"/><stop offset="0.086" stop-color="#141414"/><stop offset="0.185" stop-color="#171717"/><stop offset="0.414" stop-color="#212121"/><stop offset="0.436" stop-color="#202020"/><stop offset="0.481" stop-color="#1a1a1a"/><stop offset="0.5" stop-color="#191919"/><stop offset="0.599" stop-color="#1b1b1b"/><stop offset="0.826" stop-color="#141414"/><stop offset="1" stop-color="#111111"/></linearGradient><linearGradient id="h154"><stop offset="0" stop-color="#131313"/><stop offset="0.091" stop-color="#141414"/><stop offset="0.182" stop-color="#161616"/><stop offset="0.417" stop-color="#1f1f1f"/><stop offset="0.439" stop-color="#1e1e1e"/><stop offset="0.5" stop-color="#181818"/><stop offset="0.597" stop-color="#1a1a1a"/><stop offset="0.831" stop-color="#131313"/><stop offset="1" stop-color="#111111"/></linearGradient><linearGradient id="h155"><stop offset="0" stop-color="#131313"/><stop offset="0.182" stop-color="#151515"/><stop offset="0.417" stop-color="#1e1e1e"/><stop offset="0.439" stop-color="#1d1d1d"/><stop offset="0.5" stop-color="#171717"/><stop offset="0.594" stop-color="#1a1a1a"/><stop offset="0.837" stop-color="#121212"/><stop offset="1" stop-color="#111111"/></linearGradient><linearGradient id="h156"><stop offset="0" stop-color="#121212"/><stop offset="0.182" stop-color="#141414"/><stop offset="0.42" stop-color="#1d1d1d"/><stop offset="0.442" stop-color="#1c1c1c"/><stop offset="0.5" stop-color="#161616"/><stop offset="0.588" stop-color="#191919"/><stop offset="0.837" stop-color="#121212"/><stop offset="1" stop-color="#101010"/></linearGradient><linearGradient id="h157"><stop offset="0" stop-color="#121212"/><stop offset="0.185" stop-color="#141414"/><stop offset="0.423" stop-color="#1c1c1c"/><stop offset="0.445" stop-color="#1b1b1b"/><stop offset="0.5" stop-color="#161616"/><stop offset="0.586" stop-color="#181818"/><stop offset="0.834" stop-color="#111111"/><stop offset="1" stop-color="#101010"/></linearGradient><linearGradient id="h158"><stop offset="0" stop-color="#121212"/><stop offset="0.188" stop-color="#131313"/><stop offset="0.425" stop-color="#1b1b1b"/><stop offset="0.445" stop-color="#1a1a1a"/><stop offset="0.5" stop-color="#151515"/><stop offset="0.583" stop-color="#171717"/><stop offset="0.831" stop-color="#111111"/><stop offset="1" stop-color="#101010"/></linearGradient><linearGradient id="h159"><stop offset="0" stop-color="#111111"/><stop offset="0.193" stop-color="#131313"/><stop offset="0.425" stop-color="#1a1a1a"/><stop offset="0.448" stop-color="#191919"/><stop offset="0.5" stop-color="#141414"/><stop offset="0.58" stop-color="#161616"/><stop offset="0.823" stop-color="#101010"/><stop offset="1" stop-color="#0f0f0f"/></linearGradient><linearGradient id="h160"><stop offset="0" stop-color="#111111"/><stop offset="0.199" stop-color="#121212"/><stop offset="0.428" stop-color="#181818"/><stop offset="0.448" stop-color="#181818"/><stop offset="0.5" stop-color="#131313"/><stop offset="0.58" stop-color="#151515"/><stop offset="0.815" stop-color="#101010"/><stop offset="1" stop-color="#0f0f0f"/></linearGradient><linearGradient id="h161"><stop offset="0" stop-color="#101010"/><stop offset="0.207" stop-color="#121212"/><stop offset="0.431" stop-color="#171717"/><stop offset="0.5" stop-color="#121212"/><stop offset="0.577" stop-color="#141414"/><stop offset="0.807" stop-color="#101010"/><stop offset="1" stop-color="#0e0e0e"/></linearGradient><linearGradient id="h162"><stop offset="0" stop-color="#0f0f0f"/><stop offset="0.215" stop-color="#111111"/><stop offset="0.431" stop-color="#161616"/><stop offset="0.5" stop-color="#111111"/><stop offset="0.575" stop-color="#131313"/><stop offset="0.796" stop-color="#0f0f0f"/><stop offset="1" stop-color="#0e0e0e"/></linearGradient><linearGradient id="h163"><stop offset="0" stop-color="#0f0f0f"/><stop offset="0.227" stop-color="#111111"/><stop offset="0.434" stop-color="#151515"/><stop offset="0.5" stop-color="#101010"/><stop offset="0.575" stop-color="#121212"/><stop offset="1" stop-color="#0d0d0d"/></linearGradient><linearGradient id="h164"><stop offset="0" stop-color="#0e0e0e"/><stop offset="0.436" stop-color="#141414"/><stop offset="0.5" stop-color="#101010"/><stop offset="0.575" stop-color="#111111"/><stop offset="1" stop-color="#0c0c0c"/></linearGradient><linearGradient id="h165"><stop offset="0" stop-color="#0d0d0d"/><stop offset="0.436" stop-color="#121212"/><stop offset="0.5" stop-color="#0f0f0f"/><stop offset="0.575" stop-color="#111111"/><stop offset="1" stop-color="#0c0c0c"/></linearGradient><linearGradient id="h166"><stop offset="0" stop-color="#0c0c0c"/><stop offset="0.439" stop-color="#111111"/><stop offset="0.5" stop-color="#0e0e0e"/><stop offset="0.58" stop-color="#101010"/><stop offset="1" stop-color="#0b0b0b"/></linearGradient><linearGradient id="h167"><stop offset="0" stop-color="#0b0b0b"/><stop offset="0.166" stop-color="#0e0e0e"/><stop offset="0.439" stop-color="#101010"/><stop offset="0.5" stop-color="#0d0d0d"/><stop offset="0.55" stop-color="#0f0f0f"/><stop offset="0.605" stop-color="#0f0f0f"/><stop offset="0.837" stop-color="#0d0d0d"/><stop offset="1" stop-color="#0a0a0a"/></linearGradient><linearGradient id="h168"><stop offset="0" stop-color="#0a0a0a"/><stop offset="0.193" stop-color="#0e0e0e"/><stop offset="0.439" stop-color="#0f0f0f"/><stop offset="0.5" stop-color="#0c0c0c"/><stop offset="0.555" stop-color="#0e0e0e"/><stop offset="0.713" stop-color="#0e0e0e"/><stop offset="1" stop-color="#090909"/></linearGradient><linearGradient id="h169"><stop offset="0" stop-color="#0a0a0a"/><stop offset="0.215" stop-color="#0d0d0d"/><stop offset="0.439" stop-color="#0e0e0e"/><stop offset="0.5" stop-color="#0c0c0c"/><stop offset="0.552" stop-color="#0d0d0d"/><stop offset="0.713" stop-color="#0d0d0d"/><stop offset="1" stop-color="#090909"/></linearGradient><linearGradient id="h170"><stop offset="0" stop-color="#090909"/><stop offset="0.238" stop-color="#0d0d0d"/><stop offset="0.439" stop-color="#0e0e0e"/><stop offset="0.5" stop-color="#0b0b0b"/><stop offset="0.55" stop-color="#0d0d0d"/><stop offset="0.707" stop-color="#0c0c0c"/><stop offset="1" stop-color="#080808"/></linearGradient><linearGradient id="h171"><stop offset="0" stop-color="#090909"/><stop offset="0.257" stop-color="#0c0c0c"/><stop offset="0.442" stop-color="#0d0d0d"/><stop offset="0.5" stop-color="#0b0b0b"/><stop offset="0.55" stop-color="#0c0c0c"/><stop offset="0.693" stop-color="#0c0c0c"/><stop offset="1" stop-color="#080808"/></linearGradient><linearGradient id="h172"><stop offset="0" stop-color="#080808"/><stop offset="0.276" stop-color="#0c0c0c"/><stop offset="0.445" stop-color="#0c0c0c"/><stop offset="0.5" stop-color="#0a0a0a"/><stop offset="0.547" stop-color="#0b0b0b"/><stop offset="0.68" stop-color="#0b0b0b"/><stop offset="1" stop-color="#070707"/></linearGradient><linearGradient id="h173"><stop offset="0" stop-color="#080808"/><stop offset="0.445" stop-color="#0b0b0b"/><stop offset="0.5" stop-color="#090909"/><stop offset="0.544" stop-color="#0b0b0b"/><stop offset="0.666" stop-color="#0a0a0a"/><stop offset="0.892" stop-color="#070707"/><stop offset="1" stop-color="#070707"/></linearGradient><linearGradient id="h174"><stop offset="0" stop-color="#070707"/><stop offset="0.448" stop-color="#0b0b0b"/><stop offset="0.5" stop-color="#090909"/><stop offset="0.541" stop-color="#0a0a0a"/><stop offset="0.652" stop-color="#0a0a0a"/><stop offset="0.87" stop-color="#070707"/><stop offset="1" stop-color="#060606"/></linearGradient><linearGradient id="h175"><stop offset="0" stop-color="#070707"/><stop offset="0.141" stop-color="#070707"/><stop offset="0.309" stop-color="#090909"/><stop offset="0.45" stop-color="#0a0a0a"/><stop offset="0.5" stop-color="#080808"/><stop offset="0.638" stop-color="#090909"/><stop offset="0.851" stop-color="#060606"/><stop offset="1" stop-color="#060606"/></linearGradient><linearGradient id="h176"><stop offset="0" stop-color="#060606"/><stop offset="0.163" stop-color="#060606"/><stop offset="0.45" stop-color="#090909"/><stop offset="0.5" stop-color="#080808"/><stop offset="0.624" stop-color="#080808"/><stop offset="0.831" stop-color="#060606"/><stop offset="1" stop-color="#060606"/></linearGradient><linearGradient id="h177"><stop offset="0" stop-color="#060606"/><stop offset="0.185" stop-color="#060606"/><stop offset="0.453" stop-color="#090909"/><stop offset="0.5" stop-color="#070707"/><stop offset="0.61" stop-color="#080808"/><stop offset="0.812" stop-color="#050505"/><stop offset="1" stop-color="#050505"/></linearGradient><linearGradient id="h178"><stop offset="0" stop-color="#050505"/><stop offset="0.204" stop-color="#050505"/><stop offset="0.456" stop-color="#080808"/><stop offset="0.5" stop-color="#070707"/><stop offset="0.619" stop-color="#070707"/><stop offset="0.793" stop-color="#050505"/><stop offset="1" stop-color="#050505"/></linearGradient><linearGradient id="h179"><stop offset="0" stop-color="#050505"/><stop offset="0.227" stop-color="#050505"/><stop offset="0.459" stop-color="#070707"/><stop offset="0.773" stop-color="#040404"/><stop offset="1" stop-color="#040404"/></linearGradient><linearGradient id="h180"><stop offset="0" stop-color="#040404"/><stop offset="0.246" stop-color="#040404"/><stop offset="0.459" stop-color="#060606"/><stop offset="0.751" stop-color="#040404"/><stop offset="1" stop-color="#040404"/></linearGradient><linearGradient id="h181"><stop offset="0" stop-color="#040404"/><stop offset="0.268" stop-color="#040404"/><stop offset="0.461" stop-color="#060606"/><stop offset="0.732" stop-color="#030303"/><stop offset="1" stop-color="#030303"/></linearGradient><linearGradient id="h182"><stop offset="0" stop-color="#030303"/><stop offset="0.287" stop-color="#030303"/><stop offset="0.464" stop-color="#050505"/><stop offset="0.71" stop-color="#030303"/><stop offset="1" stop-color="#030303"/></linearGradient><linearGradient id="h183"><stop offset="0" stop-color="#030303"/><stop offset="0.307" stop-color="#030303"/><stop offset="0.467" stop-color="#040404"/><stop offset="0.691" stop-color="#030303"/><stop offset="1" stop-color="#030303"/></linearGradient><linearGradient id="h184"><stop offset="0" stop-color="#020202"/><stop offset="0.472" stop-color="#030303"/><stop offset="0.671" stop-color="#020202"/><stop offset="1" stop-color="#020202"/></linearGradient><linearGradient id="h185"><stop offset="0" stop-color="#020202"/><stop offset="0.475" stop-color="#030303"/><stop offset="1" stop-color="#020202"/></linearGradient><linearGradient id="h186"><stop offset="0" stop-color="#010101"/><stop offset="1" stop-color="#010101"/></linearGradient><linearGradient id="h187"><stop offset="0" stop-color="#010101"/><stop offset="1" stop-color="#010101"/></linearGradient><linearGradient id="h188"><stop offset="0" stop-color="#010101"/><stop offset="1" stop-color="#010101"/></linearGradient><linearGradient id="h189"><stop offset="0" stop-color="#000000"/><stop offset="1" stop-color="#000000"/></linearGradient><clipPath id="cpa"><rect x="133" y="31.9" width="720" height="756.8"/></clipPath><linearGradient id="cb" x1="0" y1="0" x2="0" y2="1"><stop offset="0" stop-color="#fff"/><stop offset="1" stop-color="#000"/></linearGradient><clipPath id="cpb"><rect x="1213.1" y="31.8" width="791.7" height="756.1"/></clipPath></defs><g shape-rendering="crispEdges"><rect x="131" y="30" width="724" height="4.6" fill="url(#h0)"/><rect x="131" y="34" width="724" height="4.6" fill="url(#h1)"/><rect x="131" y="38" width="724" height="4.6" fill="url(#h2)"/><rect x="131" y="42" width="724" height="4.6" fill="url(#h3)"/><rect x="131" y="46" width="724" height="4.6" fill="url(#h4)"/><rect x="131" y="50" width="724" height="4.6" fill="url(#h5)"/><rect x="131" y="54" width="724" height="4.6" fill="url(#h6)"/><rect x="131" y="58" width="724" height="4.6" fill="url(#h7)"/><rect x="131" y="62" width="724" height="4.6" fill="url(#h8)"/><rect x="131" y="66" width="724" height="4.6" fill="url(#h9)"/><rect x="131" y="70" width="724" height="4.6" fill="url(#h10)"/><rect x="131" y="74" width="724" height="4.6" fill="url(#h11)"/><rect x="131" y="78" width="724" height="4.6" fill="url(#h12)"/><rect x="131" y="82" width="724" height="4.6" fill="url(#h13)"/><rect x="131" y="86" width="724" height="4.6" fill="url(#h14)"/><rect x="131" y="90" width="724" height="4.6" fill="url(#h15)"/><rect x="131" y="94" width="724" height="4.6" fill="url(#h16)"/><rect x="131" y="98" width="724" height="4.6" fill="url(#h17)"/><rect x="131" y="102" width="724" height="4.6" fill="url(#h18)"/><rect x="131" y="106" width="724" height="4.6" fill="url(#h19)"/><rect x="131" y="110" width="724" height="4.6" fill="url(#h20)"/><rect x="131" y="114" width="724" height="4.6" fill="url(#h21)"/><rect x="131" y="118" width="724" height="4.6" fill="url(#h22)"/><rect x="131" y="122" width="724" height="4.6" fill="url(#h23)"/><rect x="131" y="126" width="724" height="4.6" fill="url(#h24)"/><rect x="131" y="130" width="724" height="4.6" fill="url(#h25)"/><rect x="131" y="134" width="724" height="4.6" fill="url(#h26)"/><rect x="131" y="138" width="724" height="4.6" fill="url(#h27)"/><rect x="131" y="142" width="724" height="4.6" fill="url(#h28)"/><rect x="131" y="146" width="724" height="4.6" fill="url(#h29)"/><rect x="131" y="150" width="724" height="4.6" fill="url(#h30)"/><rect x="131" y="154" width="724" height="4.6" fill="url(#h31)"/><rect x="131" y="158" width="724" height="4.6" fill="url(#h32)"/><rect x="131" y="162" width="724" height="4.6" fill="url(#h33)"/><rect x="131" y="166" width="724" height="4.6" fill="url(#h34)"/><rect x="131" y="170" width="724" height="4.6" fill="url(#h35)"/><rect x="131" y="174" width="724" height="4.6" fill="url(#h36)"/><rect x="131" y="178" width="724" height="4.6" fill="url(#h37)"/><rect x="131" y="182" width="724" height="4.6" fill="url(#h38)"/><rect x="131" y="186" width="724" height="4.6" fill="url(#h39)"/><rect x="131" y="190" width="724" height="4.6" fill="url(#h40)"/><rect x="131" y="194" width="724" height="4.6" fill="url(#h41)"/><rect x="131" y="198" width="724" height="4.6" fill="url(#h42)"/><rect x="131" y="202" width="724" height="4.6" fill="url(#h43)"/><rect x="131" y="206" width="724" height="4.6" fill="url(#h44)"/><rect x="131" y="210" width="724" height="4.6" fill="url(#h45)"/><rect x="131" y="214" width="724" height="4.6" fill="url(#h46)"/><rect x="131" y="218" width="724" height="4.6" fill="url(#h47)"/><rect x="131" y="222" width="724" height="4.6" fill="url(#h48)"/><rect x="131" y="226" width="724" height="4.6" fill="url(#h49)"/><rect x="131" y="230" width="724" height="4.6" fill="url(#h50)"/><rect x="131" y="234" width="724" height="4.6" fill="url(#h51)"/><rect x="131" y="238" width="724" height="4.6" fill="url(#h52)"/><rect x="131" y="242" width="724" height="4.6" fill="url(#h53)"/><rect x="131" y="246" width="724" height="4.6" fill="url(#h54)"/><rect x="131" y="250" width="724" height="4.6" fill="url(#h55)"/><rect x="131" y="254" width="724" height="4.6" fill="url(#h56)"/><rect x="131" y="258" width="724" height="4.6" fill="url(#h57)"/><rect x="131" y="262" width="724" height="4.6" fill="url(#h58)"/><rect x="131" y="266" width="724" height="4.6" fill="url(#h59)"/><rect x="131" y="270" width="724" height="4.6" fill="url(#h60)"/><rect x="131" y="274" width="724" height="4.6" fill="url(#h61)"/><rect x="131" y="278" width="724" height="4.6" fill="url(#h62)"/><rect x="131" y="282" width="724" height="4.6" fill="url(#h63)"/><rect x="131" y="286" width="724" height="4.6" fill="url(#h64)"/><rect x="131" y="290" width="724" height="4.6" fill="url(#h65)"/><rect x="131" y="294" width="724" height="4.6" fill="url(#h66)"/><rect x="131" y="298" width="724" height="4.6" fill="url(#h67)"/><rect x="131" y="302" width="724" height="4.6" fill="url(#h68)"/><rect x="131" y="306" width="724" height="4.6" fill="url(#h69)"/><rect x="131" y="310" width="724" height="4.6" fill="url(#h70)"/><rect x="131" y="314" width="724" height="4.6" fill="url(#h71)"/><rect x="131" y="318" width="724" height="4.6" fill="url(#h72)"/><rect x="131" y="322" width="724" height="4.6" fill="url(#h73)"/><rect x="131" y="326" width="724" height="4.6" fill="url(#h74)"/><rect x="131" y="330" width="724" height="4.6" fill="url(#h75)"/><rect x="131" y="334" width="724" height="4.6" fill="url(#h76)"/><rect x="131" y="338" width="724" height="4.6" fill="url(#h77)"/><rect x="131" y="342" width="724" height="4.6" fill="url(#h78)"/><rect x="131" y="346" width="724" height="4.6" fill="url(#h79)"/><rect x="131" y="350" width="724" height="4.6" fill="url(#h80)"/><rect x="131" y="354" width="724" height="4.6" fill="url(#h81)"/><rect x="131" y="358" width="724" height="4.6" fill="url(#h82)"/><rect x="131" y="362" width="724" height="4.6" fill="url(#h83)"/><rect x="131" y="366" width="724" height="4.6" fill="url(#h84)"/><rect x="131" y="370" width="724" height="4.6" fill="url(#h85)"/><rect x="131" y="374" width="724" height="4.6" fill="url(#h86)"/><rect x="131" y="378" width="724" height="4.6" fill="url(#h87)"/><rect x="131" y="382" width="724" height="4.6" fill="url(#h88)"/><rect x="131" y="386" width="724" height="4.6" fill="url(#h89)"/><rect x="131" y="390" width="724" height="4.6" fill="url(#h90)"/><rect x="131" y="394" width="724" height="4.6" fill="url(#h91)"/><rect x="131" y="398" width="724" height="4.6" fill="url(#h92)"/><rect x="131" y="402" width="724" height="4.6" fill="url(#h93)"/><rect x="131" y="406" width="724" height="4.6" fill="url(#h94)"/><rect x="131" y="410" width="724" height="4.6" fill="url(#h95)"/><rect x="131" y="414" width="724" height="4.6" fill="url(#h96)"/><rect x="131" y="418" width="724" height="4.6" fill="url(#h97)"/><rect x="131" y="422" width="724" height="4.6" fill="url(#h98)"/><rect x="131" y="426" width="724" height="4.6" fill="url(#h99)"/><rect x="131" y="430" width="724" height="4.6" fill="url(#h100)"/><rect x="131" y="434" width="724" height="4.6" fill="url(#h101)"/><rect x="131" y="438" width="724" height="4.6" fill="url(#h102)"/><rect x="131" y="442" width="724" height="4.6" fill="url(#h103)"/><rect x="131" y="446" width="724" height="4.6" fill="url(#h104)"/><rect x="131" y="450" width="724" height="4.6" fill="url(#h105)"/><rect x="131" y="454" width="724" height="4.6" fill="url(#h106)"/><rect x="131" y="458" width="724" height="4.6" fill="url(#h107)"/><rect x="131" y="462" width="724" height="4.6" fill="url(#h108)"/><rect x="131" y="466" width="724" height="4.6" fill="url(#h109)"/><rect x="131" y="470" width="724" height="4.6" fill="url(#h110)"/><rect x="131" y="474" width="724" height="4.6" fill="url(#h111)"/><rect x="131" y="478" width="724" height="4.6" fill="url(#h112)"/><rect x="131" y="482" width="724" height="4.6" fill="url(#h113)"/><rect x="131" y="486" width="724" height="4.6" fill="url(#h114)"/><rect x="131" y="490" width="724" height="4.6" fill="url(#h115)"/><rect x="131" y="494" width="724" height="4.6" fill="url(#h116)"/><rect x="131" y="498" width="724" height="4.6" fill="url(#h117)"/><rect x="131" y="502" width="724" height="4.6" fill="url(#h118)"/><rect x="131" y="506" width="724" height="4.6" fill="url(#h119)"/><rect x="131" y="510" width="724" height="4.6" fill="url(#h120)"/><rect x="131" y="514" width="724" height="4.6" fill="url(#h121)"/><rect x="131" y="518" width="724" height="4.6" fill="url(#h122)"/><rect x="131" y="522" width="724" height="4.6" fill="url(#h123)"/><rect x="131" y="526" width="724" height="4.6" fill="url(#h124)"/><rect x="131" y="530" width="724" height="4.6" fill="url(#h125)"/><rect x="131" y="534" width="724" height="4.6" fill="url(#h126)"/><rect x="131" y="538" width="724" height="4.6" fill="url(#h127)"/><rect x="131" y="542" width="724" height="4.6" fill="url(#h128)"/><rect x="131" y="546" width="724" height="4.6" fill="url(#h129)"/><rect x="131" y="550" width="724" height="4.6" fill="url(#h130)"/><rect x="131" y="554" width="724" height="4.6" fill="url(#h131)"/><rect x="131" y="558" width="724" height="4.6" fill="url(#h132)"/><rect x="131" y="562" width="724" height="4.6" fill="url(#h133)"/><rect x="131" y="566" width="724" height="4.6" fill="url(#h134)"/><rect x="131" y="570" width="724" height="4.6" fill="url(#h135)"/><rect x="131" y="574" width="724" height="4.6" fill="url(#h136)"/><rect x="131" y="578" width="724" height="4.6" fill="url(#h137)"/><rect x="131" y="582" width="724" height="4.6" fill="url(#h138)"/><rect x="131" y="586" width="724" height="4.6" fill="url(#h139)"/><rect x="131" y="590" width="724" height="4.6" fill="url(#h140)"/><rect x="131" y="594" width="724" height="4.6" fill="url(#h141)"/><rect x="131" y="598" width="724" height="4.6" fill="url(#h142)"/><rect x="131" y="602" width="724" height="4.6" fill="url(#h143)"/><rect x="131" y="606" width="724" height="4.6" fill="url(#h144)"/><rect x="131" y="610" width="724" height="4.6" fill="url(#h145)"/><rect x="131" y="614" width="724" height="4.6" fill="url(#h146)"/><rect x="131" y="618" width="724" height="4.6" fill="url(#h147)"/><rect x="131" y="622" width="724" height="4.6" fill="url(#h148)"/><rect x="131" y="626" width="724" height="4.6" fill="url(#h149)"/><rect x="131" y="630" width="724" height="4.6" fill="url(#h150)"/><rect x="131" y="634" width="724" height="4.6" fill="url(#h151)"/><rect x="131" y="638" width="724" height="4.6" fill="url(#h152)"/><rect x="131" y="642" width="724" height="4.6" fill="url(#h153)"/><rect x="131" y="646" width="724" height="4.6" fill="url(#h154)"/><rect x="131" y="650" width="724" height="4.6" fill="url(#h155)"/><rect x="131" y="654" width="724" height="4.6" fill="url(#h156)"/><rect x="131" y="658" width="724" height="4.6" fill="url(#h157)"/><rect x="131" y="662" width="724" height="4.6" fill="url(#h158)"/><rect x="131" y="666" width="724" height="4.6" fill="url(#h159)"/><rect x="131" y="670" width="724" height="4.6" fill="url(#h160)"/><rect x="131" y="674" width="724" height="4.6" fill="url(#h161)"/><rect x="131" y="678" width="724" height="4.6" fill="url(#h162)"/><rect x="131" y="682" width="724" height="4.6" fill="url(#h163)"/><rect x="131" y="686" width="724" height="4.6" fill="url(#h164)"/><rect x="131" y="690" width="724" height="4.6" fill="url(#h165)"/><rect x="131" y="694" width="724" height="4.6" fill="url(#h166)"/><rect x="131" y="698" width="724" height="4.6" fill="url(#h167)"/><rect x="131" y="702" width="724" height="4.6" fill="url(#h168)"/><rect x="131" y="706" width="724" height="4.6" fill="url(#h169)"/><rect x="131" y="710" width="724" height="4.6" fill="url(#h170)"/><rect x="131" y="714" width="724" height="4.6" fill="url(#h171)"/><rect x="131" y="718" width="724" height="4.6" fill="url(#h172)"/><rect x="131" y="722" width="724" height="4.6" fill="url(#h173)"/><rect x="131" y="726" width="724" height="4.6" fill="url(#h174)"/><rect x="131" y="730" width="724" height="4.6" fill="url(#h175)"/><rect x="131" y="734" width="724" height="4.6" fill="url(#h176)"/><rect x="131" y="738" width="724" height="4.6" fill="url(#h177)"/><rect x="131" y="742" width="724" height="4.6" fill="url(#h178)"/><rect x="131" y="746" width="724" height="4.6" fill="url(#h179)"/><rect x="131" y="750" width="724" height="4.6" fill="url(#h180)"/><rect x="131" y="754" width="724" height="4.6" fill="url(#h181)"/><rect x="131" y="758" width="724" height="4.6" fill="url(#h182)"/><rect x="131" y="762" width="724" height="4.6" fill="url(#h183)"/><rect x="131" y="766" width="724" height="4.6" fill="url(#h184)"/><rect x="131" y="770" width="724" height="4.6" fill="url(#h185)"/><rect x="131" y="774" width="724" height="4.6" fill="url(#h186)"/><rect x="131" y="778" width="724" height="4.6" fill="url(#h187)"/><rect x="131" y="782" width="724" height="4.6" fill="url(#h188)"/><rect x="131" y="786" width="724" height="4.3" fill="url(#h189)"/></g>
<rect x="133" y="31.9" width="720" height="755.8" fill="none" stroke="#000" stroke-width="4.2"/>
<line x1="120" y1="787.7" x2="146" y2="787.7" stroke="#000" stroke-width="4"/>
<line x1="120" y1="535.82" x2="146" y2="535.82" stroke="#000" stroke-width="4"/>
<line x1="120" y1="283.94" x2="146" y2="283.94" stroke="#000" stroke-width="4"/>
<line x1="120" y1="32.06" x2="146" y2="32.06" stroke="#000" stroke-width="4"/>
<line x1="172.26" y1="774.7" x2="172.26" y2="800.6" stroke="#000" stroke-width="4.2"/>
<line x1="332.38" y1="774.7" x2="332.38" y2="800.6" stroke="#000" stroke-width="4.2"/>
<line x1="492.5" y1="774.7" x2="492.5" y2="800.6" stroke="#000" stroke-width="4.2"/>
<line x1="652.62" y1="774.7" x2="652.62" y2="800.6" stroke="#000" stroke-width="4.2"/>
<line x1="812.74" y1="774.7" x2="812.74" y2="800.6" stroke="#000" stroke-width="4.2"/>
<line x1="494.1" y1="33.1" x2="494.1" y2="777.4" stroke="#fff420" stroke-width="4.4" stroke-dasharray="22.4 20.05"/>
<g clip-path="url(#cpa)" fill="none" stroke="#e60e10" stroke-width="4.6" stroke-linecap="round" stroke-dasharray="18.4 24.1">
<path id="redL" d="M151.3 46.3 L494.9 791.5"/>
<path id="redR" d="M837.4 45 L494.1 789.6"/>
</g>
<text x="6.31" y="40.00" font-family="'Liberation Sans', sans-serif" font-size="47.5" font-weight="bold" id="la">a</text>
<text x="1069.94" y="36.00" font-family="'Liberation Sans', sans-serif" font-size="48" font-weight="bold" id="lb">b</text>
<text x="87.89" y="800.90" font-family="'Liberation Sans', sans-serif" font-size="44.5" stroke="#000" stroke-width="0.5" id="ya0">0</text>
<text x="88.11" y="549.02" font-family="'Liberation Sans', sans-serif" font-size="44.5" stroke="#000" stroke-width="0.5" id="ya6">6</text>
<text x="63.64" y="297.14" font-family="'Liberation Sans', sans-serif" font-size="44.5" stroke="#000" stroke-width="0.5" id="ya12">12</text>
<text x="63.34" y="45.26" font-family="'Liberation Sans', sans-serif" font-size="44.5" stroke="#000" stroke-width="0.5" id="ya18">18</text>
<text x="172.96" y="849.5" font-family="'Liberation Sans', sans-serif" font-size="44.5" text-anchor="middle" id="xam0_8" stroke="#000" stroke-width="0.5">-0.8</text>
<text x="333.08" y="849.5" font-family="'Liberation Sans', sans-serif" font-size="44.5" text-anchor="middle" id="xam0_4" stroke="#000" stroke-width="0.5">-0.4</text>
<text x="493.2" y="849.5" font-family="'Liberation Sans', sans-serif" font-size="44.5" text-anchor="middle" id="xa0_0" stroke="#000" stroke-width="0.5">0.0</text>
<text x="653.32" y="849.5" font-family="'Liberation Sans', sans-serif" font-size="44.5" text-anchor="middle" id="xa0_4" stroke="#000" stroke-width="0.5">0.4</text>
<text x="813.44" y="849.5" font-family="'Liberation Sans', sans-serif" font-size="44.5" text-anchor="middle" id="xa0_8" stroke="#000" stroke-width="0.5">0.8</text>
<text x="231.14" y="899.80" font-family="'Liberation Sans', sans-serif" font-size="44.5" letter-spacing="0.704" stroke="#000" stroke-width="0.5">Carrier</text>
<text x="383.03" y="899.80" font-family="'Liberation Sans', sans-serif" font-size="44.5" letter-spacing="0.243" stroke="#000" stroke-width="0.5">density</text>
<text x="539.44" y="899.80" font-family="'Liberation Sans', sans-serif" font-size="44.5" stroke="#000" stroke-width="0.5">(</text>
<text x="553.04" y="899.80" font-family="'Liberation Sans', sans-serif" font-size="44.5" stroke="#000" stroke-width="0.5">10</text>
<text x="606.73" y="881.20" font-family="'Liberation Sans', sans-serif" font-size="28.5" stroke="#000" stroke-width="0.5">12</text>
<text x="652.11" y="899.80" font-family="'Liberation Sans', sans-serif" font-size="44.5" letter-spacing="1.905" stroke="#000" stroke-width="0.5">cm</text>
<text x="712.93" y="881.20" font-family="'Liberation Sans', sans-serif" font-size="28.5" letter-spacing="2.059" stroke="#000" stroke-width="0.5">-2</text>
<text x="743.34" y="899.80" font-family="'Liberation Sans', sans-serif" font-size="44.5" stroke="#000" stroke-width="0.5">)</text>
<g transform="translate(41.3 583) rotate(-90)">
<text x="-3.69" y="0.00" font-family="'Liberation Sans', sans-serif" font-size="45" letter-spacing="0.326" stroke="#000" stroke-width="0.5">Magnetic</text>
<text x="194.76" y="0.00" font-family="'Liberation Sans', sans-serif" font-size="45" letter-spacing="0.047" stroke="#000" stroke-width="0.5">field</text>
<text x="292.71" y="0.00" font-family="'Liberation Sans', sans-serif" font-size="45" letter-spacing="-1.989" stroke="#000" stroke-width="0.5">(T)</text>
</g>
<text x="397.72" y="70.10" font-family="'Liberation Sans', sans-serif" font-size="37.5" letter-spacing="1.360" fill="#fff420" stroke="#fff420" stroke-width="0.4" id="np">NP</text>
<text x="674.88" y="123.20" font-family="'Liberation Serif', serif" font-size="50" fill="#e60e10" stroke="#e60e10" stroke-width="0.4" id="nu">ν</text>
<text x="710.18" y="123.00" font-family="'Liberation Sans', sans-serif" font-size="45.5" fill="#e60e10" stroke="#e60e10" stroke-width="0.4">=</text>
<text x="749.21" y="123.00" font-family="'Liberation Sans', sans-serif" font-size="45.5" fill="#e60e10" stroke="#e60e10" stroke-width="0.4">2</text>
<rect x="888.6" y="106.6" width="31.3" height="357.7" fill="url(#cb)" stroke="#000" stroke-width="4" stroke-linejoin="round"/>
<line x1="919.9" y1="107.7" x2="929.8" y2="107.7" stroke="#000" stroke-width="4"/>
<line x1="919.9" y1="285.8" x2="929.8" y2="285.8" stroke="#000" stroke-width="4"/>
<line x1="919.9" y1="463.2" x2="929.8" y2="463.2" stroke="#000" stroke-width="4"/>
<text x="942.66" y="120.00" font-family="'Liberation Sans', sans-serif" font-size="34.5" letter-spacing="0.704" stroke="#000" stroke-width="0.5" id="c209">209</text>
<text x="942.89" y="297.40" font-family="'Liberation Sans', sans-serif" font-size="34.5" stroke="#000" stroke-width="0.5" id="c105">105</text>
<text x="943.67" y="474.90" font-family="'Liberation Sans', sans-serif" font-size="34.5" stroke="#000" stroke-width="0.5" id="c1">1</text>
<text x="885.05" y="522.30" font-family="'Liberation Sans', sans-serif" font-size="38" letter-spacing="-0.391" stroke="#000" stroke-width="0.5" id="c300">300K</text>
<g transform="translate(873.0 60.4) scale(1.17 0.88)"><text x="-1.22" y="0.00" font-family="'Liberation Serif', serif" font-size="41" font-style="italic" stroke="#000" stroke-width="0.3" id="sig">σ</text></g>
<text x="893.11" y="72.50" font-family="'Liberation Sans', sans-serif" font-size="26" letter-spacing="0.871" stroke="#000" stroke-width="0.4">xx</text>
<text x="920.91" y="43.20" font-family="'Liberation Sans', sans-serif" font-size="24.5" letter-spacing="0.500" stroke="#000" stroke-width="0.4">-1</text>
<text x="947.42" y="60.40" font-family="'Liberation Sans', sans-serif" font-size="40" stroke="#000" stroke-width="0.5">(</text>
<text x="961.05" y="60.40" font-family="'Liberation Sans', sans-serif" font-size="40" stroke="#000" stroke-width="0.5">k</text>
<text x="982.32" y="60.40" font-family="'Liberation Serif', serif" font-size="44" stroke="#000" stroke-width="0.3">Ω</text>
<text x="1018.57" y="60.40" font-family="'Liberation Sans', sans-serif" font-size="40" stroke="#000" stroke-width="0.5">)</text>
<path id="blL" d="M1213.0 719.1C1219.1 718.6 1236.8 717.2 1249.5 716.2C1262.2 715.2 1275.8 714.2 1289.0 713.1C1302.2 712.0 1315.2 710.8 1328.4 709.5C1341.6 708.2 1354.8 706.9 1367.9 705.2C1381.1 703.5 1396.1 701.2 1407.3 699.3C1418.5 697.4 1425.8 696.0 1435.0 693.7C1444.2 691.4 1454.0 688.9 1462.6 685.5C1471.1 682.1 1479.1 678.0 1486.3 673.6C1493.5 669.2 1499.4 665.0 1506.0 659.0C1512.6 653.0 1519.8 645.5 1525.7 637.3C1531.6 629.1 1536.9 619.6 1541.5 609.7C1546.1 599.8 1550.0 588.6 1553.3 578.1C1556.6 567.6 1559.0 557.1 1561.2 546.6C1563.4 536.1 1565.0 526.2 1566.4 515.0C1567.9 503.8 1568.9 492.0 1569.9 479.5C1570.9 467.0 1571.8 453.6 1572.3 440.0C1572.8 426.4 1572.6 418.2 1573.2 398.0C1573.8 377.8 1575.0 343.7 1575.8 319.0C1576.5 294.3 1577.1 279.8 1577.7 250.0C1578.3 220.2 1578.8 176.0 1579.4 140.0C1580.0 104.0 1581.0 54.0 1581.3 34.0C1581.6 14.0 1581.5 22.3 1581.5 20.0" fill="none" stroke="#1461c6" stroke-width="3.8" stroke-linejoin="round" clip-path="url(#cpb)"/>
<path id="blR" d="M1631.0 20.0C1631.0 22.3 1631.0 14.0 1631.2 34.0C1631.4 54.0 1631.4 104.0 1632.0 140.0C1632.6 176.0 1633.8 220.2 1634.8 250.0C1635.8 279.8 1636.9 297.3 1638.0 319.0C1639.1 340.7 1640.4 360.3 1641.4 380.0C1642.5 399.7 1643.1 418.9 1644.3 437.0C1645.5 455.1 1646.9 472.2 1648.6 488.3C1650.3 504.4 1652.5 521.9 1654.3 533.9C1656.1 545.9 1657.3 551.3 1659.2 560.0C1661.1 568.7 1663.2 577.5 1665.8 586.3C1668.4 595.1 1671.5 604.3 1675.0 612.6C1678.5 620.9 1682.7 629.3 1686.9 636.3C1691.1 643.3 1694.7 648.9 1700.0 654.8C1705.3 660.7 1712.3 667.1 1718.5 671.9C1724.7 676.7 1730.3 680.0 1736.9 683.7C1743.5 687.4 1750.0 691.1 1757.9 694.2C1765.8 697.3 1775.5 699.7 1784.3 702.1C1793.1 704.5 1801.8 706.9 1810.6 708.7C1819.4 710.6 1828.1 711.8 1836.9 713.2C1845.7 714.7 1854.4 716.2 1863.2 717.4C1872.0 718.6 1880.8 719.5 1889.6 720.6C1898.4 721.7 1907.1 722.8 1915.9 723.7C1924.7 724.6 1933.4 725.1 1942.2 725.8C1951.0 726.5 1958.0 727.0 1968.5 727.7C1979.0 728.4 1998.9 729.5 2005.0 729.9" fill="none" stroke="#1461c6" stroke-width="3.8" stroke-linejoin="round" clip-path="url(#cpb)"/>
<path id="orL" d="M1213.0 411.0C1219.1 410.8 1236.8 410.6 1249.5 409.7C1262.2 408.8 1275.8 407.2 1289.0 405.3C1302.2 403.4 1315.2 400.9 1328.4 398.4C1341.6 395.8 1356.9 392.4 1367.9 390.0C1378.9 387.6 1385.4 385.9 1394.2 384.2C1403.0 382.4 1413.9 380.4 1420.5 379.5C1427.1 378.6 1428.5 378.5 1433.7 378.7C1439.0 378.9 1446.3 379.7 1452.0 380.8C1457.7 381.9 1462.6 383.9 1467.9 385.3C1473.2 386.7 1479.5 389.1 1483.7 389.2C1487.9 389.3 1489.9 388.5 1492.9 386.0C1496.0 383.5 1499.2 379.2 1502.0 374.2C1504.8 369.2 1507.3 363.2 1510.0 355.8C1512.7 348.4 1515.5 340.0 1517.9 329.5C1520.3 319.0 1522.8 303.1 1524.5 292.6C1526.2 282.1 1527.6 273.4 1528.4 266.3C1529.2 259.2 1527.6 271.1 1529.4 250.0C1531.2 228.9 1536.4 176.0 1539.1 140.0C1541.8 104.0 1544.6 54.0 1545.8 34.0C1547.0 14.0 1546.4 22.3 1546.5 20.0" fill="none" stroke="#c66c1c" stroke-width="3.8" stroke-linejoin="round" clip-path="url(#cpb)"/>
<path id="orR" d="M1674.0 20.0C1674.2 22.3 1672.9 14.0 1674.9 34.0C1676.9 54.0 1683.0 113.3 1686.2 140.0C1689.4 166.7 1691.7 179.5 1694.2 194.2C1696.7 208.9 1698.7 217.5 1701.3 228.4C1703.9 239.3 1706.9 250.8 1709.8 259.8C1712.7 268.8 1715.8 276.4 1718.4 282.6C1721.0 288.8 1723.4 293.7 1725.5 296.8C1727.6 299.9 1729.1 300.4 1731.2 301.1C1733.3 301.8 1735.9 301.8 1738.3 301.1C1740.7 300.4 1742.9 299.2 1745.5 296.8C1748.1 294.4 1751.2 289.4 1754.0 286.9C1756.8 284.4 1758.8 283.1 1762.6 282.0C1766.4 280.9 1772.5 280.3 1776.8 280.6C1781.1 280.9 1782.5 281.3 1788.2 284.0C1793.9 286.7 1802.5 291.6 1811.0 296.8C1819.5 302.0 1830.0 309.4 1839.5 315.4C1849.0 321.3 1858.5 327.3 1868.0 332.5C1877.5 337.7 1887.1 342.2 1896.6 346.7C1906.1 351.2 1915.5 355.7 1925.0 359.5C1934.5 363.3 1944.1 366.6 1953.6 369.5C1963.1 372.4 1973.4 375.0 1982.0 377.2C1990.6 379.4 2001.2 381.7 2005.0 382.6" fill="none" stroke="#c66c1c" stroke-width="3.8" stroke-linejoin="round" clip-path="url(#cpb)"/>
<path id="bkL" d="M1213.0 567.6C1219.1 566.9 1236.8 564.3 1249.5 563.1C1262.2 561.9 1275.8 561.5 1289.0 560.4C1302.2 559.3 1315.2 558.2 1328.4 556.4C1341.6 554.6 1354.8 552.3 1367.9 549.7C1381.1 547.1 1394.2 544.8 1407.3 540.6C1420.4 536.5 1434.9 530.4 1446.8 524.8C1458.7 519.2 1469.2 513.0 1478.4 507.1C1487.6 501.2 1495.8 494.6 1502.0 489.3C1508.2 484.0 1512.0 481.2 1515.9 475.5C1519.9 469.8 1522.7 462.7 1525.7 455.0C1528.7 447.3 1531.3 439.0 1533.7 429.5C1536.1 420.0 1538.3 409.8 1540.3 397.9C1542.3 386.0 1544.0 371.5 1545.5 358.4C1547.0 345.2 1548.4 333.0 1549.5 319.0C1550.6 305.0 1551.4 285.7 1552.1 274.2C1552.8 262.7 1552.8 272.4 1553.6 250.0C1554.4 227.6 1555.6 176.0 1556.7 140.0C1557.8 104.0 1559.5 54.0 1560.1 34.0C1560.7 14.0 1560.4 22.3 1560.5 20.0" fill="none" stroke="#000" stroke-width="3.8" stroke-linejoin="round" clip-path="url(#cpb)"/>
<path id="bkR" d="M1652.8 20.0C1652.9 22.3 1652.0 14.0 1653.2 34.0C1654.4 54.0 1657.9 109.5 1659.7 140.0C1661.5 170.5 1663.0 198.7 1664.2 217.0C1665.4 235.3 1666.2 240.5 1666.9 250.0C1667.6 259.5 1667.3 262.4 1668.5 274.0C1669.7 285.6 1672.3 306.3 1674.2 319.6C1676.1 332.9 1677.9 342.9 1680.0 353.8C1682.1 364.7 1684.9 377.5 1687.0 385.2C1689.1 392.9 1690.3 395.2 1692.7 400.0C1695.1 404.8 1696.3 409.9 1701.3 414.2C1706.3 418.5 1715.6 421.6 1722.7 425.6C1729.8 429.6 1736.4 432.5 1744.0 438.4C1751.6 444.3 1760.0 454.1 1768.3 461.2C1776.6 468.3 1784.5 474.5 1794.0 481.2C1803.5 487.9 1813.9 494.8 1825.3 501.2C1836.7 507.6 1850.4 514.5 1862.3 519.7C1874.2 524.9 1883.8 528.5 1896.6 532.5C1909.4 536.5 1926.0 540.8 1939.3 543.9C1952.6 547.0 1965.5 549.2 1976.4 551.0C1987.4 552.8 2000.2 554.1 2005.0 554.7" fill="none" stroke="#000" stroke-width="3.8" stroke-linejoin="round" clip-path="url(#cpb)"/>
<path d="M1483.2 259.7 V326.2" stroke="#000" stroke-width="3.6" fill="none"/>
<path d="M1470.2 324.2 L1496.2 324.2 L1483.2 378.2 Z" fill="#000"/>
<path d="M1514.5 357.1 V423.6" stroke="#000" stroke-width="3.6" fill="none"/>
<path d="M1501.5 421.6 L1527.5 421.6 L1514.5 475 Z" fill="#000"/>
<path d="M1729 175.7 V242.4" stroke="#000" stroke-width="3.6" fill="none"/>
<path d="M1716 240.4 L1742 240.4 L1729 293 Z" fill="#000"/>
<path d="M1700.7 299.1 V365.8" stroke="#000" stroke-width="3.6" fill="none"/>
<path d="M1687.7 363.8 L1713.7 363.8 L1700.7 414 Z" fill="#000"/>
<rect x="1213.1" y="31.8" width="791.7" height="756.1" fill="none" stroke="#000" stroke-width="4.2"/>
<line x1="1200.2" y1="787.9" x2="1213.1" y2="787.9" stroke="#000" stroke-width="4.2"/>
<line x1="1200.2" y1="409.84" x2="1213.1" y2="409.84" stroke="#000" stroke-width="4.2"/>
<line x1="1200.2" y1="31.78" x2="1213.1" y2="31.78" stroke="#000" stroke-width="4.2"/>
<line x1="1292.27" y1="787.9" x2="1292.27" y2="800.8" stroke="#000" stroke-width="4.2"/>
<line x1="1450.61" y1="787.9" x2="1450.61" y2="800.8" stroke="#000" stroke-width="4.2"/>
<line x1="1608.95" y1="787.9" x2="1608.95" y2="800.8" stroke="#000" stroke-width="4.2"/>
<line x1="1767.29" y1="787.9" x2="1767.29" y2="800.8" stroke="#000" stroke-width="4.2"/>
<line x1="1925.63" y1="787.9" x2="1925.63" y2="800.8" stroke="#000" stroke-width="4.2"/>
<text x="1128.38" y="801.50" font-family="'Liberation Sans', sans-serif" font-size="44.5" stroke="#000" stroke-width="0.5" id="yb0">0.0</text>
<text x="1128.59" y="423.44" font-family="'Liberation Sans', sans-serif" font-size="44.5" stroke="#000" stroke-width="0.5" id="yb3">0.3</text>
<text x="1128.59" y="45.38" font-family="'Liberation Sans', sans-serif" font-size="44.5" stroke="#000" stroke-width="0.5" id="yb6">0.6</text>
<text x="1292.67" y="844.8" font-family="'Liberation Sans', sans-serif" font-size="44.5" text-anchor="middle" id="xbm2" stroke="#000" stroke-width="0.5">-2</text>
<text x="1451.01" y="844.8" font-family="'Liberation Sans', sans-serif" font-size="44.5" text-anchor="middle" id="xbm1" stroke="#000" stroke-width="0.5">-1</text>
<text x="1609.35" y="844.8" font-family="'Liberation Sans', sans-serif" font-size="44.5" text-anchor="middle" id="xb0" stroke="#000" stroke-width="0.5">0</text>
<text x="1767.69" y="844.8" font-family="'Liberation Sans', sans-serif" font-size="44.5" text-anchor="middle" id="xb1" stroke="#000" stroke-width="0.5">1</text>
<text x="1926.03" y="844.8" font-family="'Liberation Sans', sans-serif" font-size="44.5" text-anchor="middle" id="xb2" stroke="#000" stroke-width="0.5">2</text>
<text x="1328.24" y="902.70" font-family="'Liberation Sans', sans-serif" font-size="44.5" letter-spacing="0.737" stroke="#000" stroke-width="0.5">Carrier</text>
<text x="1479.53" y="902.70" font-family="'Liberation Sans', sans-serif" font-size="44.5" letter-spacing="0.672" stroke="#000" stroke-width="0.5">density,</text>
<text x="1650.06" y="902.70" font-family="'Liberation Sans', sans-serif" font-size="44.5" font-style="italic" stroke="#000" stroke-width="0.5">n</text>
<text x="1671.94" y="902.70" font-family="'Liberation Sans', sans-serif" font-size="44.5" stroke="#000" stroke-width="0.5">(</text>
<text x="1685.94" y="902.70" font-family="'Liberation Sans', sans-serif" font-size="44.5" stroke="#000" stroke-width="0.5">10</text>
<text x="1740.03" y="882.60" font-family="'Liberation Sans', sans-serif" font-size="28.5" stroke="#000" stroke-width="0.5">12</text>
<text x="1787.11" y="902.70" font-family="'Liberation Sans', sans-serif" font-size="44.5" letter-spacing="1.505" stroke="#000" stroke-width="0.5">cm</text>
<text x="1847.53" y="882.60" font-family="'Liberation Sans', sans-serif" font-size="28.5" letter-spacing="1.259" stroke="#000" stroke-width="0.5">-2</text>
<text x="1877.64" y="902.70" font-family="'Liberation Sans', sans-serif" font-size="44.5" stroke="#000" stroke-width="0.5">)</text>
<g transform="translate(1104.3 481.5) rotate(-90)">
<text x="1.54" y="0.00" font-family="'Liberation Serif', serif" font-size="49" font-style="italic" stroke="#000" stroke-width="0.3">ρ</text>
<text x="26.70" y="9.30" font-family="'Liberation Sans', sans-serif" font-size="26.5" letter-spacing="-0.918" stroke="#000" stroke-width="0.4">xx</text>
<text x="50.74" y="0.00" font-family="'Liberation Sans', sans-serif" font-size="44.5" stroke="#000" stroke-width="0.5">(</text>
<text x="66.30" y="0.00" font-family="'Liberation Sans', sans-serif" font-size="44.5" stroke="#000" stroke-width="0.5">k</text>
<text x="88.26" y="0.00" font-family="'Liberation Serif', serif" font-size="49" stroke="#000" stroke-width="0.3">Ω</text>
<text x="125.24" y="0.00" font-family="'Liberation Sans', sans-serif" font-size="44.5" stroke="#000" stroke-width="0.5">)</text>
</g>
<line x1="1757.4" y1="71" x2="1860.8" y2="71" stroke="#c66c1c" stroke-width="3.9"/>
<line x1="1757.4" y1="125.8" x2="1860.8" y2="125.8" stroke="#000" stroke-width="3.9"/>
<line x1="1757.4" y1="181.7" x2="1860.8" y2="181.7" stroke="#1461c6" stroke-width="3.9"/>
<text x="1872.66" y="85.60" font-family="'Liberation Sans', sans-serif" font-size="45" stroke="#000" stroke-width="0.5" id="lg1">13.5T</text>
<text x="1870.49" y="141.60" font-family="'Liberation Sans', sans-serif" font-size="45" stroke="#000" stroke-width="0.5" id="lg2">9</text>
<text x="1909.09" y="141.60" font-family="'Liberation Sans', sans-serif" font-size="45" stroke="#000" stroke-width="0.5">T</text>
<text x="1872.77" y="197.00" font-family="'Liberation Sans', sans-serif" font-size="45" stroke="#000" stroke-width="0.5" id="lg3">1</text>
<text x="1909.09" y="197.00" font-family="'Liberation Sans', sans-serif" font-size="45" stroke="#000" stroke-width="0.5">T</text></svg></body></html>
